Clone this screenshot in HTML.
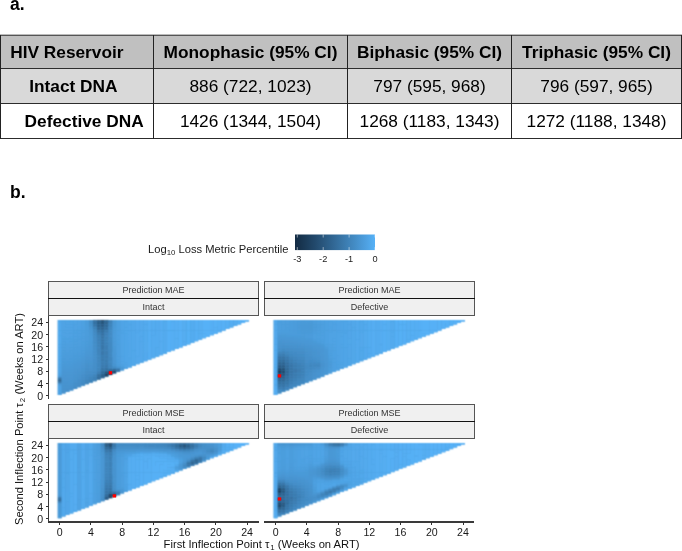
<!DOCTYPE html>
<html><head><meta charset="utf-8">
<style>
html,body{margin:0;padding:0;background:#fff;}
body{width:682px;height:551px;position:relative;overflow:hidden;font-family:"Liberation Sans",sans-serif;color:#000;}
.abs{position:absolute;white-space:nowrap;line-height:1;}
.lbl{font-weight:700;font-size:17.5px;}
.r{position:absolute;}
.t{position:absolute;white-space:nowrap;font-size:17.3px;line-height:1;text-align:center;}
.b{font-weight:700;}
.st{position:absolute;box-sizing:border-box;border:1px solid #555;background:#f0f0f0;font-size:9px;line-height:1;color:#333;text-align:center;white-space:nowrap;}
.st span{position:absolute;left:0;right:0;}
.yl{position:absolute;font-size:10.6px;line-height:1;color:#1a1a1a;text-align:right;width:20px;white-space:nowrap;}
.xl{position:absolute;font-size:10.6px;line-height:1;color:#1a1a1a;text-align:center;width:20px;white-space:nowrap;}
sub{font-size:0.7em;vertical-align:baseline;position:relative;top:0.25em;}
</style></head><body>

<div id="g" style="position:absolute;left:0;top:0;width:682px;height:551px;filter:grayscale(1);">
<div class="abs lbl" style="left:10px;top:-4px;">a.</div>
<div class="abs lbl" style="left:10px;top:184px;">b.</div>
<div class="r" style="left:0;top:35px;width:682px;height:33px;background:#c0c0c0"></div>
<div class="r" style="left:0;top:68px;width:682px;height:35px;background:#d9d9d9"></div>
<div class="r" style="left:0;top:34px;width:682px;height:1px;background:#bbb"></div>
<div class="r" style="left:0;top:35px;width:682px;height:1px;background:#555"></div>
<div class="r" style="left:0;top:68px;width:682px;height:1px;background:#2c2c2c"></div>
<div class="r" style="left:0;top:103px;width:682px;height:1px;background:#2c2c2c"></div>
<div class="r" style="left:0;top:138px;width:682px;height:1px;background:#2c2c2c"></div>
<div class="r" style="left:0px;top:35px;width:1px;height:104px;background:#222"></div>
<div class="r" style="left:153px;top:35px;width:1px;height:104px;background:#222"></div>
<div class="r" style="left:347px;top:35px;width:1px;height:104px;background:#222"></div>
<div class="r" style="left:511px;top:35px;width:1px;height:104px;background:#222"></div>
<div class="r" style="left:681px;top:35px;width:1px;height:104px;background:#222"></div>
<div class="t b" style="left:10.2px;top:44.06px;text-align:left">HIV Reservoir</div>
<div class="t b" style="left:154px;top:44.06px;width:193px">Monophasic (95% CI)</div>
<div class="t b" style="left:348px;top:44.06px;width:163px">Biphasic (95% CI)</div>
<div class="t b" style="left:512px;top:44.06px;width:169px">Triphasic (95% CI)</div>
<div class="t b" style="left:29.2px;top:78.36px;text-align:left">Intact DNA</div>
<div class="t b" style="left:24.6px;top:112.96px;text-align:left">Defective DNA</div>
<div class="t" style="left:154px;top:78.36px;width:193px">886 (722, 1023)</div>
<div class="t" style="left:154px;top:112.96px;width:193px">1426 (1344, 1504)</div>
<div class="t" style="left:348px;top:78.36px;width:163px">797 (595, 968)</div>
<div class="t" style="left:348px;top:112.96px;width:163px">1268 (1183, 1343)</div>
<div class="t" style="left:512px;top:78.36px;width:169px">796 (597, 965)</div>
<div class="t" style="left:512px;top:112.96px;width:169px">1272 (1188, 1348)</div>
<div class="abs" style="left:148px;top:243.6px;font-size:11.2px;color:#1a1a1a;">Log<sub>10</sub> Loss Metric Percentile</div>
<div class="xl" style="left:287.3px;top:254.9px;font-size:9.2px">-3</div>
<div class="xl" style="left:313.2px;top:254.9px;font-size:9.2px">-2</div>
<div class="xl" style="left:339.1px;top:254.9px;font-size:9.2px">-1</div>
<div class="xl" style="left:365.0px;top:254.9px;font-size:9.2px">0</div>
<div class="st" style="left:48px;top:281px;width:211px;height:18px"><span style="top:4px">Prediction MAE</span></div>
<div class="st" style="left:48px;top:298px;width:211px;height:18px"><span style="top:4px">Intact</span></div>
<div class="r" style="left:48px;top:297.8px;width:211px;height:1.5px;background:#111"></div>
<div class="st" style="left:264px;top:281px;width:211px;height:18px"><span style="top:4px">Prediction MAE</span></div>
<div class="st" style="left:264px;top:298px;width:211px;height:18px"><span style="top:4px">Defective</span></div>
<div class="r" style="left:264px;top:297.8px;width:211px;height:1.5px;background:#111"></div>
<div class="st" style="left:48px;top:404px;width:211px;height:18px"><span style="top:4px">Prediction MSE</span></div>
<div class="st" style="left:48px;top:421px;width:211px;height:18px"><span style="top:4px">Intact</span></div>
<div class="r" style="left:48px;top:420.8px;width:211px;height:1.5px;background:#111"></div>
<div class="st" style="left:264px;top:404px;width:211px;height:18px"><span style="top:4px">Prediction MSE</span></div>
<div class="st" style="left:264px;top:421px;width:211px;height:18px"><span style="top:4px">Defective</span></div>
<div class="r" style="left:264px;top:420.8px;width:211px;height:1.5px;background:#111"></div>
<div class="r" style="left:48px;top:316px;width:1px;height:83px;background:#3a3a3a"></div>
<div class="r" style="left:45.5px;top:395.3px;width:2.5px;height:1px;background:#333"></div>
<div class="yl" style="left:23.1px;top:390.8px">0</div>
<div class="r" style="left:45.5px;top:383.0px;width:2.5px;height:1px;background:#333"></div>
<div class="yl" style="left:23.1px;top:378.5px">4</div>
<div class="r" style="left:45.5px;top:370.8px;width:2.5px;height:1px;background:#333"></div>
<div class="yl" style="left:23.1px;top:366.3px">8</div>
<div class="r" style="left:45.5px;top:358.5px;width:2.5px;height:1px;background:#333"></div>
<div class="yl" style="left:23.1px;top:354.0px">12</div>
<div class="r" style="left:45.5px;top:346.2px;width:2.5px;height:1px;background:#333"></div>
<div class="yl" style="left:23.1px;top:341.7px">16</div>
<div class="r" style="left:45.5px;top:334.0px;width:2.5px;height:1px;background:#333"></div>
<div class="yl" style="left:23.1px;top:329.5px">20</div>
<div class="r" style="left:45.5px;top:321.7px;width:2.5px;height:1px;background:#333"></div>
<div class="yl" style="left:23.1px;top:317.2px">24</div>
<div class="r" style="left:48px;top:439px;width:1px;height:83px;background:#3a3a3a"></div>
<div class="r" style="left:45.5px;top:518.4px;width:2.5px;height:1px;background:#333"></div>
<div class="yl" style="left:23.1px;top:513.9px">0</div>
<div class="r" style="left:45.5px;top:506.1px;width:2.5px;height:1px;background:#333"></div>
<div class="yl" style="left:23.1px;top:501.6px">4</div>
<div class="r" style="left:45.5px;top:493.9px;width:2.5px;height:1px;background:#333"></div>
<div class="yl" style="left:23.1px;top:489.4px">8</div>
<div class="r" style="left:45.5px;top:481.6px;width:2.5px;height:1px;background:#333"></div>
<div class="yl" style="left:23.1px;top:477.1px">12</div>
<div class="r" style="left:45.5px;top:469.3px;width:2.5px;height:1px;background:#333"></div>
<div class="yl" style="left:23.1px;top:464.8px">16</div>
<div class="r" style="left:45.5px;top:457.1px;width:2.5px;height:1px;background:#333"></div>
<div class="yl" style="left:23.1px;top:452.6px">20</div>
<div class="r" style="left:45.5px;top:444.8px;width:2.5px;height:1px;background:#333"></div>
<div class="yl" style="left:23.1px;top:440.3px">24</div>
<div class="r" style="left:48.2px;top:521.3px;width:210.4px;height:1.3px;background:#3a3a3a"></div>
<div class="r" style="left:59.2px;top:522px;width:1px;height:2.5px;background:#333"></div>
<div class="xl" style="left:49.7px;top:526.5px">0</div>
<div class="r" style="left:90.4px;top:522px;width:1px;height:2.5px;background:#333"></div>
<div class="xl" style="left:80.9px;top:526.5px">4</div>
<div class="r" style="left:121.7px;top:522px;width:1px;height:2.5px;background:#333"></div>
<div class="xl" style="left:112.2px;top:526.5px">8</div>
<div class="r" style="left:152.9px;top:522px;width:1px;height:2.5px;background:#333"></div>
<div class="xl" style="left:143.4px;top:526.5px">12</div>
<div class="r" style="left:184.1px;top:522px;width:1px;height:2.5px;background:#333"></div>
<div class="xl" style="left:174.6px;top:526.5px">16</div>
<div class="r" style="left:215.4px;top:522px;width:1px;height:2.5px;background:#333"></div>
<div class="xl" style="left:205.9px;top:526.5px">20</div>
<div class="r" style="left:246.6px;top:522px;width:1px;height:2.5px;background:#333"></div>
<div class="xl" style="left:237.1px;top:526.5px">24</div>
<div class="r" style="left:264.1px;top:521.3px;width:210.4px;height:1.3px;background:#3a3a3a"></div>
<div class="r" style="left:275.1px;top:522px;width:1px;height:2.5px;background:#333"></div>
<div class="xl" style="left:265.6px;top:526.5px">0</div>
<div class="r" style="left:306.3px;top:522px;width:1px;height:2.5px;background:#333"></div>
<div class="xl" style="left:296.8px;top:526.5px">4</div>
<div class="r" style="left:337.6px;top:522px;width:1px;height:2.5px;background:#333"></div>
<div class="xl" style="left:328.1px;top:526.5px">8</div>
<div class="r" style="left:368.8px;top:522px;width:1px;height:2.5px;background:#333"></div>
<div class="xl" style="left:359.3px;top:526.5px">12</div>
<div class="r" style="left:400.0px;top:522px;width:1px;height:2.5px;background:#333"></div>
<div class="xl" style="left:390.5px;top:526.5px">16</div>
<div class="r" style="left:431.3px;top:522px;width:1px;height:2.5px;background:#333"></div>
<div class="xl" style="left:421.8px;top:526.5px">20</div>
<div class="r" style="left:462.5px;top:522px;width:1px;height:2.5px;background:#333"></div>
<div class="xl" style="left:453.0px;top:526.5px">24</div>
<div class="abs" style="left:163.6px;top:538.8px;font-size:11.2px;color:#111;">First Inflection Point τ<sub style="margin-left:0.8px;margin-right:0.2px">1</sub> (Weeks on ART)</div>
<div class="abs" style="left:19.7px;top:419px;font-size:11.2px;color:#111;transform:translate(-50%,-50%) rotate(-90deg);">Second Inflection Point τ<sub style="margin-left:0.8px;margin-right:0.2px">2</sub> (Weeks on ART)</div>
</div>
<svg class="r" style="left:0;top:0" width="682" height="551"><defs><linearGradient id="cb" x1="0" x2="1" y1="0" y2="0"><stop offset="0.00" stop-color="#132b43"/><stop offset="0.05" stop-color="#16314b"/><stop offset="0.10" stop-color="#193753"/><stop offset="0.15" stop-color="#1c3d5b"/><stop offset="0.20" stop-color="#1f4364"/><stop offset="0.25" stop-color="#22496c"/><stop offset="0.30" stop-color="#265075"/><stop offset="0.35" stop-color="#29567d"/><stop offset="0.40" stop-color="#2c5d86"/><stop offset="0.45" stop-color="#2f638f"/><stop offset="0.50" stop-color="#336a98"/><stop offset="0.55" stop-color="#3671a1"/><stop offset="0.60" stop-color="#3a78aa"/><stop offset="0.65" stop-color="#3d7fb4"/><stop offset="0.70" stop-color="#4186bd"/><stop offset="0.75" stop-color="#448dc6"/><stop offset="0.80" stop-color="#4894d0"/><stop offset="0.85" stop-color="#4b9bda"/><stop offset="0.90" stop-color="#4fa2e3"/><stop offset="0.95" stop-color="#52aaed"/><stop offset="1.00" stop-color="#56b1f7"/></linearGradient></defs><rect x="295" y="234.5" width="80" height="15.6" fill="url(#cb)"/><line x1="297.3" y1="234.5" x2="297.3" y2="237.5" stroke="#fff" stroke-opacity="0.55" stroke-width="0.9"/><line x1="297.3" y1="247.1" x2="297.3" y2="250.1" stroke="#fff" stroke-opacity="0.55" stroke-width="0.9"/><line x1="323.2" y1="234.5" x2="323.2" y2="237.5" stroke="#fff" stroke-opacity="0.55" stroke-width="0.9"/><line x1="323.2" y1="247.1" x2="323.2" y2="250.1" stroke="#fff" stroke-opacity="0.55" stroke-width="0.9"/><line x1="349.1" y1="234.5" x2="349.1" y2="237.5" stroke="#fff" stroke-opacity="0.55" stroke-width="0.9"/><line x1="349.1" y1="247.1" x2="349.1" y2="250.1" stroke="#fff" stroke-opacity="0.55" stroke-width="0.9"/><line x1="375.0" y1="234.5" x2="375.0" y2="237.5" stroke="#fff" stroke-opacity="0.55" stroke-width="0.9"/><line x1="375.0" y1="247.1" x2="375.0" y2="250.1" stroke="#fff" stroke-opacity="0.55" stroke-width="0.9"/></svg>
<svg class="r" style="left:0;top:0" width="682" height="551"><defs><filter id="bl" x="0" y="0" width="682" height="551" filterUnits="userSpaceOnUse"><feConvolveMatrix order="3" kernelMatrix="1 2 1 2 6 2 1 2 1" divisor="18" edgeMode="none"/></filter></defs><g filter="url(#bl)">
<path fill="#4a9ad6" d="M57.75 319.89 L249.04 319.89 L249.04 321.43 L245.14 321.43 L245.14 322.96 L241.24 322.96 L241.24 324.49 L237.33 324.49 L237.33 326.03 L233.43 326.03 L233.43 327.56 L229.52 327.56 L229.52 329.09 L225.62 329.09 L225.62 330.63 L221.72 330.63 L221.72 332.16 L217.81 332.16 L217.81 333.69 L213.91 333.69 L213.91 335.23 L210.00 335.23 L210.00 336.76 L206.10 336.76 L206.10 338.29 L202.20 338.29 L202.20 339.83 L198.29 339.83 L198.29 341.36 L194.39 341.36 L194.39 342.89 L190.48 342.89 L190.48 344.43 L186.58 344.43 L186.58 345.96 L182.68 345.96 L182.68 347.49 L178.77 347.49 L178.77 349.03 L174.87 349.03 L174.87 350.56 L170.96 350.56 L170.96 352.10 L167.06 352.10 L167.06 353.63 L163.16 353.63 L163.16 355.16 L159.25 355.16 L159.25 356.70 L155.35 356.70 L155.35 358.23 L151.44 358.23 L151.44 359.76 L147.54 359.76 L147.54 361.30 L143.64 361.30 L143.64 362.83 L139.73 362.83 L139.73 364.36 L135.83 364.36 L135.83 365.90 L131.92 365.90 L131.92 367.43 L128.02 367.43 L128.02 368.96 L124.12 368.96 L124.12 370.50 L120.21 370.50 L120.21 372.03 L116.31 372.03 L116.31 373.56 L112.40 373.56 L112.40 375.10 L108.50 375.10 L108.50 376.63 L104.60 376.63 L104.60 378.16 L100.69 378.16 L100.69 379.70 L96.79 379.70 L96.79 381.23 L92.88 381.23 L92.88 382.77 L88.98 382.77 L88.98 384.30 L85.08 384.30 L85.08 385.83 L81.17 385.83 L81.17 387.37 L77.27 387.37 L77.27 388.90 L73.36 388.90 L73.36 390.43 L69.46 390.43 L69.46 391.97 L65.56 391.97 L65.56 393.50 L61.65 393.50 L61.65 395.03 L57.75 395.03Z"/>
<path fill="#4ea1e2" d="M57.75 393.50h3.90v1.53h-3.90zM57.75 391.97h3.90v1.53h-3.90zM57.75 390.43h3.90v1.53h-3.90zM57.75 388.90h3.90v1.53h-3.90zM57.75 387.37h3.90v1.53h-3.90zM57.75 385.83h3.90v1.53h-3.90zM57.75 373.56h3.90v1.53h-3.90zM61.65 339.83h3.90v1.53h-3.90zM65.56 341.36h3.90v1.53h-3.90zM65.56 339.83h3.90v1.53h-3.90zM69.46 339.83h3.90v1.53h-3.90zM73.36 335.23h3.90v1.53h-3.90zM73.36 333.69h3.90v1.53h-3.90zM77.27 332.16h3.90v1.53h-3.90zM77.27 330.63h3.90v1.53h-3.90zM120.21 364.36h3.90v1.53h-3.90z"/>
<path fill="#4d9ede" d="M57.75 384.30h3.90v1.53h-3.90zM61.65 349.03h3.90v1.53h-3.90zM65.56 350.56h3.90v1.53h-3.90zM65.56 349.03h3.90v1.53h-3.90zM69.46 349.03h3.90v1.53h-3.90zM73.36 345.96h3.90v1.53h-3.90zM73.36 344.43h3.90v1.53h-3.90zM77.27 344.43h3.90v1.53h-3.90zM77.27 342.89h3.90v1.53h-3.90zM81.17 339.83h3.90v1.53h-3.90zM81.17 338.29h3.90v1.53h-3.90zM116.31 361.30h3.90v1.53h-3.90zM116.31 359.76h3.90v1.53h-3.90z"/>
<path fill="#458fc9" d="M57.75 382.77h3.90v1.53h-3.90zM88.98 322.96h3.90v1.53h-3.90zM92.88 364.36h3.90v1.53h-3.90zM92.88 362.83h3.90v1.53h-3.90zM92.88 361.30h3.90v1.53h-3.90zM92.88 349.03h3.90v1.53h-3.90z"/>
<path fill="#3671a2" d="M57.75 381.23h3.90v1.53h-3.90z"/>
<path fill="#2f628d" d="M57.75 379.70h3.90v1.53h-3.90z"/>
<path fill="#336a97" d="M57.75 378.16h3.90v1.53h-3.90z"/>
<path fill="#4288c0" d="M57.75 376.63h3.90v1.53h-3.90zM92.88 373.56h3.90v1.53h-3.90zM92.88 330.63h3.90v1.53h-3.90zM108.50 355.16h3.90v1.53h-3.90zM108.50 353.63h3.90v1.53h-3.90z"/>
<path fill="#4c9cdb" d="M57.75 375.10h3.90v1.53h-3.90zM61.65 356.70h3.90v1.53h-3.90zM65.56 358.23h3.90v1.53h-3.90zM65.56 356.70h3.90v1.53h-3.90zM69.46 356.70h3.90v1.53h-3.90zM73.36 353.63h3.90v1.53h-3.90zM77.27 352.10h3.90v1.53h-3.90zM81.17 349.03h3.90v1.53h-3.90zM81.17 347.49h3.90v1.53h-3.90zM85.08 339.83h3.90v1.53h-3.90zM85.08 338.29h3.90v1.53h-3.90zM85.08 336.76h3.90v1.53h-3.90zM85.08 322.96h3.90v1.53h-3.90zM85.08 321.43h3.90v1.53h-3.90zM85.08 319.89h3.90v1.53h-3.90z"/>
<path fill="#4fa2e3" d="M57.75 372.03h3.90v1.53h-3.90zM61.65 335.23h3.90v1.53h-3.90zM61.65 333.69h3.90v1.53h-3.90zM61.65 332.16h3.90v1.53h-3.90zM65.56 336.76h3.90v1.53h-3.90zM65.56 335.23h3.90v1.53h-3.90zM65.56 333.69h3.90v1.53h-3.90zM69.46 335.23h3.90v1.53h-3.90zM69.46 333.69h3.90v1.53h-3.90zM73.36 329.09h3.90v1.53h-3.90zM73.36 327.56h3.90v1.53h-3.90zM73.36 326.03h3.90v1.53h-3.90zM73.36 324.49h3.90v1.53h-3.90zM77.27 324.49h3.90v1.53h-3.90zM77.27 322.96h3.90v1.53h-3.90zM77.27 321.43h3.90v1.53h-3.90zM77.27 319.89h3.90v1.53h-3.90z"/>
<path fill="#4fa3e4" d="M57.75 370.50h3.90v1.53h-3.90zM57.75 368.96h3.90v1.53h-3.90zM57.75 367.43h3.90v1.53h-3.90zM61.65 330.63h3.90v1.53h-3.90zM61.65 329.09h3.90v1.53h-3.90zM61.65 327.56h3.90v1.53h-3.90zM61.65 326.03h3.90v1.53h-3.90zM65.56 332.16h3.90v1.53h-3.90zM65.56 330.63h3.90v1.53h-3.90zM65.56 329.09h3.90v1.53h-3.90zM65.56 327.56h3.90v1.53h-3.90zM69.46 330.63h3.90v1.53h-3.90zM69.46 329.09h3.90v1.53h-3.90zM69.46 327.56h3.90v1.53h-3.90zM73.36 322.96h3.90v1.53h-3.90zM73.36 321.43h3.90v1.53h-3.90zM73.36 319.89h3.90v1.53h-3.90zM120.21 362.83h3.90v1.53h-3.90zM120.21 361.30h3.90v1.53h-3.90zM124.12 367.43h3.90v1.53h-3.90zM124.12 365.90h3.90v1.53h-3.90z"/>
<path fill="#4fa3e5" d="M57.75 365.90h3.90v1.53h-3.90zM61.65 324.49h3.90v1.53h-3.90zM61.65 322.96h3.90v1.53h-3.90zM65.56 326.03h3.90v1.53h-3.90zM65.56 324.49h3.90v1.53h-3.90zM69.46 326.03h3.90v1.53h-3.90zM69.46 324.49h3.90v1.53h-3.90zM120.21 359.76h3.90v1.53h-3.90zM120.21 358.23h3.90v1.53h-3.90zM120.21 356.70h3.90v1.53h-3.90z"/>
<path fill="#4fa4e5" d="M57.75 364.36h3.90v1.53h-3.90zM61.65 321.43h3.90v1.53h-3.90zM65.56 322.96h3.90v1.53h-3.90zM69.46 322.96h3.90v1.53h-3.90zM69.46 321.43h3.90v1.53h-3.90zM120.21 355.16h3.90v1.53h-3.90zM120.21 353.63h3.90v1.53h-3.90zM120.21 352.10h3.90v1.53h-3.90zM120.21 350.56h3.90v1.53h-3.90zM120.21 349.03h3.90v1.53h-3.90zM120.21 347.49h3.90v1.53h-3.90zM120.21 345.96h3.90v1.53h-3.90z"/>
<path fill="#50a5e6" d="M57.75 362.83h3.90v1.53h-3.90zM57.75 361.30h3.90v1.53h-3.90zM57.75 359.76h3.90v1.53h-3.90zM65.56 319.89h3.90v1.53h-3.90zM120.21 332.16h3.90v1.53h-3.90zM124.12 362.83h3.90v1.53h-3.90z"/>
<path fill="#50a5e7" d="M57.75 358.23h3.90v1.53h-3.90zM57.75 356.70h3.90v1.53h-3.90zM124.12 361.30h3.90v1.53h-3.90zM124.12 359.76h3.90v1.53h-3.90zM124.12 358.23h3.90v1.53h-3.90zM124.12 356.70h3.90v1.53h-3.90zM124.12 355.16h3.90v1.53h-3.90zM124.12 353.63h3.90v1.53h-3.90zM124.12 352.10h3.90v1.53h-3.90zM124.12 350.56h3.90v1.53h-3.90zM124.12 349.03h3.90v1.53h-3.90zM124.12 347.49h3.90v1.53h-3.90zM124.12 345.96h3.90v1.53h-3.90zM124.12 344.43h3.90v1.53h-3.90zM124.12 342.89h3.90v1.53h-3.90zM124.12 341.36h3.90v1.53h-3.90zM124.12 339.83h3.90v1.53h-3.90zM124.12 338.29h3.90v1.53h-3.90zM124.12 336.76h3.90v1.53h-3.90zM124.12 335.23h3.90v1.53h-3.90zM124.12 333.69h3.90v1.53h-3.90zM124.12 326.03h3.90v1.53h-3.90zM124.12 324.49h3.90v1.53h-3.90zM124.12 322.96h3.90v1.53h-3.90zM124.12 321.43h3.90v1.53h-3.90z"/>
<path fill="#50a6e8" d="M57.75 355.16h3.90v1.53h-3.90zM57.75 353.63h3.90v1.53h-3.90zM57.75 352.10h3.90v1.53h-3.90zM57.75 350.56h3.90v1.53h-3.90zM57.75 349.03h3.90v1.53h-3.90zM124.12 332.16h3.90v1.53h-3.90zM124.12 330.63h3.90v1.53h-3.90zM124.12 329.09h3.90v1.53h-3.90zM128.02 365.90h3.90v1.53h-3.90zM128.02 364.36h3.90v1.53h-3.90zM128.02 362.83h3.90v1.53h-3.90zM128.02 361.30h3.90v1.53h-3.90zM128.02 359.76h3.90v1.53h-3.90zM128.02 358.23h3.90v1.53h-3.90z"/>
<path fill="#51a7e9" d="M57.75 347.49h3.90v1.53h-3.90zM128.02 329.09h3.90v1.53h-3.90zM128.02 322.96h3.90v1.53h-3.90zM128.02 321.43h3.90v1.53h-3.90zM128.02 319.89h3.90v1.53h-3.90zM131.92 364.36h3.90v1.53h-3.90zM131.92 362.83h3.90v1.53h-3.90zM131.92 361.30h3.90v1.53h-3.90zM131.92 359.76h3.90v1.53h-3.90zM131.92 358.23h3.90v1.53h-3.90zM131.92 356.70h3.90v1.53h-3.90zM131.92 355.16h3.90v1.53h-3.90zM131.92 353.63h3.90v1.53h-3.90zM131.92 352.10h3.90v1.53h-3.90zM131.92 350.56h3.90v1.53h-3.90z"/>
<path fill="#51a7ea" d="M57.75 345.96h3.90v1.53h-3.90zM57.75 344.43h3.90v1.53h-3.90zM131.92 349.03h3.90v1.53h-3.90zM131.92 347.49h3.90v1.53h-3.90zM131.92 345.96h3.90v1.53h-3.90zM131.92 344.43h3.90v1.53h-3.90zM131.92 342.89h3.90v1.53h-3.90zM131.92 341.36h3.90v1.53h-3.90zM131.92 339.83h3.90v1.53h-3.90zM131.92 338.29h3.90v1.53h-3.90zM131.92 336.76h3.90v1.53h-3.90zM131.92 335.23h3.90v1.53h-3.90zM131.92 333.69h3.90v1.53h-3.90zM131.92 332.16h3.90v1.53h-3.90zM131.92 330.63h3.90v1.53h-3.90zM131.92 329.09h3.90v1.53h-3.90zM131.92 327.56h3.90v1.53h-3.90zM131.92 326.03h3.90v1.53h-3.90zM131.92 324.49h3.90v1.53h-3.90zM131.92 322.96h3.90v1.53h-3.90zM131.92 321.43h3.90v1.53h-3.90zM131.92 319.89h3.90v1.53h-3.90z"/>
<path fill="#51a8ea" d="M57.75 342.89h3.90v1.53h-3.90zM57.75 341.36h3.90v1.53h-3.90zM57.75 339.83h3.90v1.53h-3.90zM57.75 338.29h3.90v1.53h-3.90zM57.75 336.76h3.90v1.53h-3.90zM57.75 335.23h3.90v1.53h-3.90z"/>
<path fill="#51a8eb" d="M57.75 333.69h3.90v1.53h-3.90zM57.75 332.16h3.90v1.53h-3.90zM57.75 330.63h3.90v1.53h-3.90zM57.75 329.09h3.90v1.53h-3.90zM57.75 327.56h3.90v1.53h-3.90zM57.75 326.03h3.90v1.53h-3.90zM57.75 324.49h3.90v1.53h-3.90zM57.75 322.96h3.90v1.53h-3.90zM57.75 321.43h3.90v1.53h-3.90z"/>
<path fill="#52a8eb" d="M57.75 319.89h3.90v1.53h-3.90zM135.83 362.83h3.90v1.53h-3.90zM135.83 361.30h3.90v1.53h-3.90zM135.83 359.76h3.90v1.53h-3.90zM135.83 358.23h3.90v1.53h-3.90zM135.83 356.70h3.90v1.53h-3.90zM139.73 361.30h3.90v1.53h-3.90zM139.73 359.76h3.90v1.53h-3.90zM139.73 358.23h3.90v1.53h-3.90zM139.73 356.70h3.90v1.53h-3.90zM139.73 355.16h3.90v1.53h-3.90zM139.73 353.63h3.90v1.53h-3.90zM139.73 352.10h3.90v1.53h-3.90zM139.73 350.56h3.90v1.53h-3.90zM139.73 349.03h3.90v1.53h-3.90zM139.73 347.49h3.90v1.53h-3.90zM139.73 345.96h3.90v1.53h-3.90zM139.73 344.43h3.90v1.53h-3.90zM139.73 342.89h3.90v1.53h-3.90zM139.73 341.36h3.90v1.53h-3.90z"/>
<path fill="#4691cc" d="M61.65 391.97h3.90v1.53h-3.90zM61.65 390.43h3.90v1.53h-3.90zM65.56 390.43h3.90v1.53h-3.90zM65.56 388.90h3.90v1.53h-3.90zM69.46 385.83h3.90v1.53h-3.90zM73.36 379.70h3.90v1.53h-3.90zM77.27 376.63h3.90v1.53h-3.90zM81.17 372.03h3.90v1.53h-3.90zM85.08 364.36h3.90v1.53h-3.90z"/>
<path fill="#4691cd" d="M61.65 388.90h3.90v1.53h-3.90zM69.46 384.30h3.90v1.53h-3.90zM88.98 365.90h3.90v1.53h-3.90z"/>
<path fill="#4692cd" d="M61.65 387.37h3.90v1.53h-3.90zM65.56 387.37h3.90v1.53h-3.90zM73.36 378.16h3.90v1.53h-3.90z"/>
<path fill="#4792ce" d="M61.65 385.83h3.90v1.53h-3.90zM61.65 384.30h3.90v1.53h-3.90zM65.56 385.83h3.90v1.53h-3.90zM65.56 384.30h3.90v1.53h-3.90zM69.46 382.77h3.90v1.53h-3.90zM73.36 376.63h3.90v1.53h-3.90z"/>
<path fill="#4793cf" d="M61.65 382.77h3.90v1.53h-3.90zM61.65 381.23h3.90v1.53h-3.90zM65.56 382.77h3.90v1.53h-3.90zM65.56 381.23h3.90v1.53h-3.90zM69.46 381.23h3.90v1.53h-3.90zM73.36 375.10h3.90v1.53h-3.90zM77.27 372.03h3.90v1.53h-3.90zM81.17 367.43h3.90v1.53h-3.90zM85.08 361.30h3.90v1.53h-3.90zM88.98 361.30h3.90v1.53h-3.90z"/>
<path fill="#4794d0" d="M61.65 379.70h3.90v1.53h-3.90zM69.46 379.70h3.90v1.53h-3.90zM85.08 359.76h3.90v1.53h-3.90z"/>
<path fill="#4894d0" d="M61.65 378.16h3.90v1.53h-3.90zM65.56 379.70h3.90v1.53h-3.90zM65.56 378.16h3.90v1.53h-3.90zM69.46 378.16h3.90v1.53h-3.90zM73.36 373.56h3.90v1.53h-3.90zM77.27 370.50h3.90v1.53h-3.90zM81.17 365.90h3.90v1.53h-3.90zM88.98 359.76h3.90v1.53h-3.90z"/>
<path fill="#4894d1" d="M61.65 376.63h3.90v1.53h-3.90zM73.36 372.03h3.90v1.53h-3.90zM88.98 358.23h3.90v1.53h-3.90z"/>
<path fill="#4895d1" d="M61.65 375.10h3.90v1.53h-3.90zM65.56 376.63h3.90v1.53h-3.90zM69.46 376.63h3.90v1.53h-3.90zM73.36 370.50h3.90v1.53h-3.90zM77.27 368.96h3.90v1.53h-3.90zM81.17 364.36h3.90v1.53h-3.90zM85.08 358.23h3.90v1.53h-3.90zM88.98 327.56h3.90v1.53h-3.90z"/>
<path fill="#4895d2" d="M61.65 373.56h3.90v1.53h-3.90zM65.56 375.10h3.90v1.53h-3.90zM69.46 375.10h3.90v1.53h-3.90zM73.36 368.96h3.90v1.53h-3.90zM77.27 367.43h3.90v1.53h-3.90zM85.08 356.70h3.90v1.53h-3.90zM88.98 356.70h3.90v1.53h-3.90zM112.40 362.83h3.90v1.53h-3.90z"/>
<path fill="#4996d3" d="M61.65 372.03h3.90v1.53h-3.90zM61.65 370.50h3.90v1.53h-3.90zM65.56 372.03h3.90v1.53h-3.90zM69.46 372.03h3.90v1.53h-3.90zM73.36 367.43h3.90v1.53h-3.90zM77.27 365.90h3.90v1.53h-3.90zM81.17 361.30h3.90v1.53h-3.90zM85.08 355.16h3.90v1.53h-3.90zM88.98 353.63h3.90v1.53h-3.90zM88.98 329.09h3.90v1.53h-3.90zM112.40 361.30h3.90v1.53h-3.90zM112.40 359.76h3.90v1.53h-3.90z"/>
<path fill="#4997d4" d="M61.65 368.96h3.90v1.53h-3.90zM65.56 370.50h3.90v1.53h-3.90zM69.46 370.50h3.90v1.53h-3.90zM69.46 368.96h3.90v1.53h-3.90zM73.36 365.90h3.90v1.53h-3.90zM77.27 364.36h3.90v1.53h-3.90zM81.17 359.76h3.90v1.53h-3.90zM85.08 353.63h3.90v1.53h-3.90zM88.98 352.10h3.90v1.53h-3.90zM88.98 350.56h3.90v1.53h-3.90zM112.40 358.23h3.90v1.53h-3.90zM112.40 356.70h3.90v1.53h-3.90zM112.40 355.16h3.90v1.53h-3.90z"/>
<path fill="#4a98d5" d="M61.65 367.43h3.90v1.53h-3.90zM65.56 367.43h3.90v1.53h-3.90zM69.46 367.43h3.90v1.53h-3.90zM81.17 358.23h3.90v1.53h-3.90z"/>
<path fill="#4a98d6" d="M61.65 365.90h3.90v1.53h-3.90zM69.46 365.90h3.90v1.53h-3.90zM73.36 362.83h3.90v1.53h-3.90zM77.27 361.30h3.90v1.53h-3.90zM85.08 350.56h3.90v1.53h-3.90zM88.98 347.49h3.90v1.53h-3.90zM88.98 345.96h3.90v1.53h-3.90zM112.40 350.56h3.90v1.53h-3.90zM112.40 349.03h3.90v1.53h-3.90z"/>
<path fill="#4a99d7" d="M61.65 364.36h3.90v1.53h-3.90zM65.56 364.36h3.90v1.53h-3.90zM69.46 364.36h3.90v1.53h-3.90zM73.36 361.30h3.90v1.53h-3.90zM77.27 359.76h3.90v1.53h-3.90zM85.08 349.03h3.90v1.53h-3.90zM88.98 344.43h3.90v1.53h-3.90zM88.98 342.89h3.90v1.53h-3.90zM88.98 341.36h3.90v1.53h-3.90zM88.98 333.69h3.90v1.53h-3.90zM112.40 345.96h3.90v1.53h-3.90zM112.40 324.49h3.90v1.53h-3.90zM112.40 322.96h3.90v1.53h-3.90zM112.40 319.89h3.90v1.53h-3.90z"/>
<path fill="#4b9ad8" d="M61.65 362.83h3.90v1.53h-3.90zM69.46 362.83h3.90v1.53h-3.90zM73.36 359.76h3.90v1.53h-3.90zM77.27 358.23h3.90v1.53h-3.90zM81.17 355.16h3.90v1.53h-3.90zM85.08 347.49h3.90v1.53h-3.90zM112.40 344.43h3.90v1.53h-3.90zM112.40 342.89h3.90v1.53h-3.90z"/>
<path fill="#4b9bd9" d="M61.65 361.30h3.90v1.53h-3.90zM65.56 361.30h3.90v1.53h-3.90zM69.46 361.30h3.90v1.53h-3.90zM73.36 358.23h3.90v1.53h-3.90zM77.27 356.70h3.90v1.53h-3.90zM85.08 344.43h3.90v1.53h-3.90zM112.40 339.83h3.90v1.53h-3.90zM112.40 338.29h3.90v1.53h-3.90zM112.40 330.63h3.90v1.53h-3.90zM112.40 329.09h3.90v1.53h-3.90z"/>
<path fill="#4b9bda" d="M61.65 359.76h3.90v1.53h-3.90zM65.56 359.76h3.90v1.53h-3.90zM69.46 359.76h3.90v1.53h-3.90zM73.36 356.70h3.90v1.53h-3.90zM77.27 355.16h3.90v1.53h-3.90zM81.17 352.10h3.90v1.53h-3.90zM112.40 336.76h3.90v1.53h-3.90zM112.40 335.23h3.90v1.53h-3.90zM112.40 333.69h3.90v1.53h-3.90zM112.40 332.16h3.90v1.53h-3.90z"/>
<path fill="#4b9cda" d="M61.65 358.23h3.90v1.53h-3.90zM73.36 355.16h3.90v1.53h-3.90zM81.17 350.56h3.90v1.53h-3.90zM85.08 342.89h3.90v1.53h-3.90zM85.08 341.36h3.90v1.53h-3.90z"/>
<path fill="#4c9ddc" d="M61.65 355.16h3.90v1.53h-3.90zM61.65 353.63h3.90v1.53h-3.90zM65.56 355.16h3.90v1.53h-3.90zM69.46 355.16h3.90v1.53h-3.90zM73.36 352.10h3.90v1.53h-3.90zM77.27 350.56h3.90v1.53h-3.90zM81.17 345.96h3.90v1.53h-3.90zM85.08 335.23h3.90v1.53h-3.90zM85.08 333.69h3.90v1.53h-3.90zM85.08 332.16h3.90v1.53h-3.90zM85.08 330.63h3.90v1.53h-3.90zM85.08 329.09h3.90v1.53h-3.90zM85.08 327.56h3.90v1.53h-3.90zM85.08 326.03h3.90v1.53h-3.90zM85.08 324.49h3.90v1.53h-3.90zM116.31 364.36h3.90v1.53h-3.90z"/>
<path fill="#4c9edd" d="M61.65 352.10h3.90v1.53h-3.90zM65.56 352.10h3.90v1.53h-3.90zM69.46 352.10h3.90v1.53h-3.90zM77.27 345.96h3.90v1.53h-3.90zM81.17 342.89h3.90v1.53h-3.90zM81.17 341.36h3.90v1.53h-3.90zM120.21 365.90h3.90v1.53h-3.90z"/>
<path fill="#4d9edd" d="M61.65 350.56h3.90v1.53h-3.90zM69.46 350.56h3.90v1.53h-3.90zM73.36 347.49h3.90v1.53h-3.90zM116.31 362.83h3.90v1.53h-3.90z"/>
<path fill="#4d9fde" d="M61.65 347.49h3.90v1.53h-3.90zM69.46 347.49h3.90v1.53h-3.90zM81.17 336.76h3.90v1.53h-3.90zM116.31 358.23h3.90v1.53h-3.90zM116.31 356.70h3.90v1.53h-3.90z"/>
<path fill="#4d9fdf" d="M61.65 345.96h3.90v1.53h-3.90zM65.56 347.49h3.90v1.53h-3.90zM65.56 345.96h3.90v1.53h-3.90zM69.46 345.96h3.90v1.53h-3.90zM73.36 342.89h3.90v1.53h-3.90zM73.36 341.36h3.90v1.53h-3.90zM77.27 341.36h3.90v1.53h-3.90zM77.27 339.83h3.90v1.53h-3.90zM81.17 335.23h3.90v1.53h-3.90zM81.17 333.69h3.90v1.53h-3.90zM81.17 332.16h3.90v1.53h-3.90zM116.31 355.16h3.90v1.53h-3.90zM116.31 353.63h3.90v1.53h-3.90zM116.31 352.10h3.90v1.53h-3.90zM116.31 350.56h3.90v1.53h-3.90zM116.31 349.03h3.90v1.53h-3.90zM116.31 347.49h3.90v1.53h-3.90zM116.31 345.96h3.90v1.53h-3.90zM116.31 344.43h3.90v1.53h-3.90z"/>
<path fill="#4da0e0" d="M61.65 344.43h3.90v1.53h-3.90zM77.27 338.29h3.90v1.53h-3.90zM81.17 330.63h3.90v1.53h-3.90zM116.31 341.36h3.90v1.53h-3.90zM116.31 339.83h3.90v1.53h-3.90zM116.31 324.49h3.90v1.53h-3.90zM116.31 322.96h3.90v1.53h-3.90zM116.31 321.43h3.90v1.53h-3.90zM116.31 319.89h3.90v1.53h-3.90z"/>
<path fill="#4ea0e1" d="M61.65 342.89h3.90v1.53h-3.90zM77.27 336.76h3.90v1.53h-3.90zM81.17 329.09h3.90v1.53h-3.90zM81.17 327.56h3.90v1.53h-3.90zM81.17 326.03h3.90v1.53h-3.90zM116.31 333.69h3.90v1.53h-3.90zM116.31 332.16h3.90v1.53h-3.90zM116.31 330.63h3.90v1.53h-3.90z"/>
<path fill="#4ea1e1" d="M61.65 341.36h3.90v1.53h-3.90zM65.56 342.89h3.90v1.53h-3.90zM69.46 342.89h3.90v1.53h-3.90zM69.46 341.36h3.90v1.53h-3.90zM73.36 338.29h3.90v1.53h-3.90zM73.36 336.76h3.90v1.53h-3.90zM77.27 335.23h3.90v1.53h-3.90zM77.27 333.69h3.90v1.53h-3.90zM81.17 324.49h3.90v1.53h-3.90zM81.17 322.96h3.90v1.53h-3.90zM81.17 321.43h3.90v1.53h-3.90zM81.17 319.89h3.90v1.53h-3.90z"/>
<path fill="#4ea2e2" d="M61.65 338.29h3.90v1.53h-3.90zM65.56 338.29h3.90v1.53h-3.90zM69.46 338.29h3.90v1.53h-3.90zM73.36 332.16h3.90v1.53h-3.90zM77.27 329.09h3.90v1.53h-3.90z"/>
<path fill="#4ea2e3" d="M61.65 336.76h3.90v1.53h-3.90zM69.46 336.76h3.90v1.53h-3.90zM73.36 330.63h3.90v1.53h-3.90zM77.27 327.56h3.90v1.53h-3.90zM77.27 326.03h3.90v1.53h-3.90z"/>
<path fill="#50a4e6" d="M61.65 319.89h3.90v1.53h-3.90zM65.56 321.43h3.90v1.53h-3.90zM69.46 319.89h3.90v1.53h-3.90zM120.21 341.36h3.90v1.53h-3.90zM120.21 339.83h3.90v1.53h-3.90zM120.21 338.29h3.90v1.53h-3.90zM120.21 336.76h3.90v1.53h-3.90zM120.21 335.23h3.90v1.53h-3.90zM120.21 333.69h3.90v1.53h-3.90zM120.21 330.63h3.90v1.53h-3.90zM120.21 329.09h3.90v1.53h-3.90zM120.21 327.56h3.90v1.53h-3.90zM120.21 326.03h3.90v1.53h-3.90zM120.21 324.49h3.90v1.53h-3.90zM120.21 322.96h3.90v1.53h-3.90zM120.21 321.43h3.90v1.53h-3.90zM120.21 319.89h3.90v1.53h-3.90zM124.12 364.36h3.90v1.53h-3.90z"/>
<path fill="#4896d2" d="M65.56 373.56h3.90v1.53h-3.90zM69.46 373.56h3.90v1.53h-3.90zM81.17 362.83h3.90v1.53h-3.90zM88.98 355.16h3.90v1.53h-3.90z"/>
<path fill="#4997d5" d="M65.56 368.96h3.90v1.53h-3.90zM73.36 364.36h3.90v1.53h-3.90zM77.27 362.83h3.90v1.53h-3.90zM112.40 353.63h3.90v1.53h-3.90z"/>
<path fill="#4a99d6" d="M65.56 365.90h3.90v1.53h-3.90zM81.17 356.70h3.90v1.53h-3.90zM88.98 332.16h3.90v1.53h-3.90zM112.40 347.49h3.90v1.53h-3.90zM112.40 321.43h3.90v1.53h-3.90z"/>
<path fill="#4b9ad9" d="M65.56 362.83h3.90v1.53h-3.90zM81.17 353.63h3.90v1.53h-3.90zM85.08 345.96h3.90v1.53h-3.90zM112.40 341.36h3.90v1.53h-3.90zM112.40 327.56h3.90v1.53h-3.90zM120.21 368.96h3.90v1.53h-3.90z"/>
<path fill="#4c9ddd" d="M65.56 353.63h3.90v1.53h-3.90zM69.46 353.63h3.90v1.53h-3.90zM73.36 350.56h3.90v1.53h-3.90zM73.36 349.03h3.90v1.53h-3.90zM77.27 349.03h3.90v1.53h-3.90zM77.27 347.49h3.90v1.53h-3.90zM81.17 344.43h3.90v1.53h-3.90z"/>
<path fill="#4ea0e0" d="M65.56 344.43h3.90v1.53h-3.90zM69.46 344.43h3.90v1.53h-3.90zM73.36 339.83h3.90v1.53h-3.90zM116.31 338.29h3.90v1.53h-3.90zM116.31 336.76h3.90v1.53h-3.90zM116.31 335.23h3.90v1.53h-3.90zM116.31 329.09h3.90v1.53h-3.90zM116.31 327.56h3.90v1.53h-3.90zM116.31 326.03h3.90v1.53h-3.90z"/>
<path fill="#4690cb" d="M69.46 388.90h3.90v1.53h-3.90zM69.46 387.37h3.90v1.53h-3.90zM73.36 381.23h3.90v1.53h-3.90zM77.27 378.16h3.90v1.53h-3.90zM81.17 373.56h3.90v1.53h-3.90zM85.08 365.90h3.90v1.53h-3.90zM88.98 368.96h3.90v1.53h-3.90zM88.98 367.43h3.90v1.53h-3.90z"/>
<path fill="#4b9cdb" d="M69.46 358.23h3.90v1.53h-3.90zM77.27 353.63h3.90v1.53h-3.90z"/>
<path fill="#4fa2e4" d="M69.46 332.16h3.90v1.53h-3.90z"/>
<path fill="#448dc7" d="M73.36 387.37h3.90v1.53h-3.90zM73.36 384.30h3.90v1.53h-3.90zM77.27 379.70h3.90v1.53h-3.90zM81.17 376.63h3.90v1.53h-3.90zM88.98 319.89h3.90v1.53h-3.90zM92.88 368.96h3.90v1.53h-3.90zM92.88 341.36h3.90v1.53h-3.90z"/>
<path fill="#448dc6" d="M73.36 385.83h3.90v1.53h-3.90zM85.08 372.03h3.90v1.53h-3.90zM92.88 339.83h3.90v1.53h-3.90z"/>
<path fill="#458ec8" d="M73.36 382.77h3.90v1.53h-3.90zM88.98 370.50h3.90v1.53h-3.90zM92.88 367.43h3.90v1.53h-3.90zM92.88 365.90h3.90v1.53h-3.90zM92.88 345.96h3.90v1.53h-3.90zM92.88 344.43h3.90v1.53h-3.90z"/>
<path fill="#438bc5" d="M77.27 385.83h3.90v1.53h-3.90zM88.98 373.56h3.90v1.53h-3.90z"/>
<path fill="#438bc4" d="M77.27 384.30h3.90v1.53h-3.90zM85.08 375.10h3.90v1.53h-3.90zM92.88 333.69h3.90v1.53h-3.90zM108.50 338.29h3.90v1.53h-3.90zM108.50 336.76h3.90v1.53h-3.90zM108.50 333.69h3.90v1.53h-3.90zM108.50 332.16h3.90v1.53h-3.90z"/>
<path fill="#448cc5" d="M77.27 382.77h3.90v1.53h-3.90zM81.17 378.16h3.90v1.53h-3.90zM85.08 373.56h3.90v1.53h-3.90zM92.88 336.76h3.90v1.53h-3.90z"/>
<path fill="#448cc6" d="M77.27 381.23h3.90v1.53h-3.90zM88.98 372.03h3.90v1.53h-3.90zM92.88 370.50h3.90v1.53h-3.90zM92.88 338.29h3.90v1.53h-3.90z"/>
<path fill="#4792cd" d="M77.27 375.10h3.90v1.53h-3.90zM81.17 370.50h3.90v1.53h-3.90zM85.08 362.83h3.90v1.53h-3.90zM88.98 364.36h3.90v1.53h-3.90z"/>
<path fill="#4793ce" d="M77.27 373.56h3.90v1.53h-3.90zM81.17 368.96h3.90v1.53h-3.90zM88.98 362.83h3.90v1.53h-3.90zM88.98 326.03h3.90v1.53h-3.90z"/>
<path fill="#4289c1" d="M81.17 384.30h3.90v1.53h-3.90zM81.17 381.23h3.90v1.53h-3.90zM108.50 350.56h3.90v1.53h-3.90zM108.50 349.03h3.90v1.53h-3.90zM116.31 367.43h3.90v1.53h-3.90z"/>
<path fill="#4288c1" d="M81.17 382.77h3.90v1.53h-3.90zM108.50 352.10h3.90v1.53h-3.90z"/>
<path fill="#438ac3" d="M81.17 379.70h3.90v1.53h-3.90zM92.88 372.03h3.90v1.53h-3.90zM108.50 344.43h3.90v1.53h-3.90zM108.50 342.89h3.90v1.53h-3.90zM108.50 341.36h3.90v1.53h-3.90zM108.50 330.63h3.90v1.53h-3.90z"/>
<path fill="#458ec9" d="M81.17 375.10h3.90v1.53h-3.90zM85.08 368.96h3.90v1.53h-3.90zM92.88 347.49h3.90v1.53h-3.90z"/>
<path fill="#3f83b9" d="M85.08 382.77h3.90v1.53h-3.90zM96.79 344.43h3.90v1.53h-3.90zM108.50 321.43h3.90v1.53h-3.90zM108.50 319.89h3.90v1.53h-3.90z"/>
<path fill="#3f82b8" d="M85.08 381.23h3.90v1.53h-3.90zM88.98 378.16h3.90v1.53h-3.90zM96.79 342.89h3.90v1.53h-3.90zM96.79 341.36h3.90v1.53h-3.90z"/>
<path fill="#4084ba" d="M85.08 379.70h3.90v1.53h-3.90zM92.88 375.10h3.90v1.53h-3.90z"/>
<path fill="#4186be" d="M85.08 378.16h3.90v1.53h-3.90zM96.79 361.30h3.90v1.53h-3.90zM96.79 359.76h3.90v1.53h-3.90z"/>
<path fill="#4289c2" d="M85.08 376.63h3.90v1.53h-3.90zM88.98 375.10h3.90v1.53h-3.90zM108.50 329.09h3.90v1.53h-3.90z"/>
<path fill="#448ec8" d="M85.08 370.50h3.90v1.53h-3.90zM88.98 321.43h3.90v1.53h-3.90z"/>
<path fill="#4590ca" d="M85.08 367.43h3.90v1.53h-3.90zM92.88 356.70h3.90v1.53h-3.90zM92.88 353.63h3.90v1.53h-3.90z"/>
<path fill="#4998d5" d="M85.08 352.10h3.90v1.53h-3.90zM88.98 349.03h3.90v1.53h-3.90zM88.98 330.63h3.90v1.53h-3.90zM112.40 352.10h3.90v1.53h-3.90zM116.31 365.90h3.90v1.53h-3.90z"/>
<path fill="#3e82b7" d="M88.98 381.23h3.90v1.53h-3.90z"/>
<path fill="#3e81b7" d="M88.98 379.70h3.90v1.53h-3.90zM92.88 327.56h3.90v1.53h-3.90zM96.79 339.83h3.90v1.53h-3.90zM96.79 338.29h3.90v1.53h-3.90z"/>
<path fill="#4085bc" d="M88.98 376.63h3.90v1.53h-3.90zM96.79 368.96h3.90v1.53h-3.90zM96.79 353.63h3.90v1.53h-3.90zM96.79 352.10h3.90v1.53h-3.90zM108.50 364.36h3.90v1.53h-3.90z"/>
<path fill="#4a9ad8" d="M88.98 339.83h3.90v1.53h-3.90zM88.98 338.29h3.90v1.53h-3.90zM88.98 336.76h3.90v1.53h-3.90zM88.98 335.23h3.90v1.53h-3.90zM112.40 326.03h3.90v1.53h-3.90zM120.21 367.43h3.90v1.53h-3.90z"/>
<path fill="#4691cb" d="M88.98 324.49h3.90v1.53h-3.90z"/>
<path fill="#3d7fb4" d="M92.88 379.70h3.90v1.53h-3.90zM96.79 372.03h3.90v1.53h-3.90zM104.60 342.89h3.90v1.53h-3.90zM104.60 333.69h3.90v1.53h-3.90z"/>
<path fill="#3c7eb2" d="M92.88 378.16h3.90v1.53h-3.90z"/>
<path fill="#3e80b5" d="M92.88 376.63h3.90v1.53h-3.90zM104.60 339.83h3.90v1.53h-3.90zM108.50 367.43h3.90v1.53h-3.90z"/>
<path fill="#458fca" d="M92.88 359.76h3.90v1.53h-3.90zM92.88 358.23h3.90v1.53h-3.90zM92.88 352.10h3.90v1.53h-3.90zM92.88 350.56h3.90v1.53h-3.90zM112.40 365.90h3.90v1.53h-3.90z"/>
<path fill="#4690ca" d="M92.88 355.16h3.90v1.53h-3.90z"/>
<path fill="#448ec7" d="M92.88 342.89h3.90v1.53h-3.90z"/>
<path fill="#438cc5" d="M92.88 335.23h3.90v1.53h-3.90zM108.50 335.23h3.90v1.53h-3.90z"/>
<path fill="#438ac2" d="M92.88 332.16h3.90v1.53h-3.90z"/>
<path fill="#4085bb" d="M92.88 329.09h3.90v1.53h-3.90z"/>
<path fill="#3c7db1" d="M92.88 326.03h3.90v1.53h-3.90zM104.60 353.63h3.90v1.53h-3.90zM104.60 352.10h3.90v1.53h-3.90zM104.60 350.56h3.90v1.53h-3.90z"/>
<path fill="#3773a4" d="M92.88 324.49h3.90v1.53h-3.90zM100.69 336.76h3.90v1.53h-3.90zM104.60 367.43h3.90v1.53h-3.90z"/>
<path fill="#3671a1" d="M92.88 322.96h3.90v1.53h-3.90zM104.60 329.09h3.90v1.53h-3.90z"/>
<path fill="#356f9f" d="M92.88 321.43h3.90v1.53h-3.90z"/>
<path fill="#346d9c" d="M92.88 319.89h3.90v1.53h-3.90z"/>
<path fill="#346c9a" d="M96.79 378.16h3.90v1.53h-3.90z"/>
<path fill="#336a98" d="M96.79 376.63h3.90v1.53h-3.90z"/>
<path fill="#356e9d" d="M96.79 375.10h3.90v1.53h-3.90zM100.69 332.16h3.90v1.53h-3.90z"/>
<path fill="#3874a5" d="M96.79 373.56h3.90v1.53h-3.90zM100.69 338.29h3.90v1.53h-3.90z"/>
<path fill="#3f82b9" d="M96.79 370.50h3.90v1.53h-3.90z"/>
<path fill="#4186bd" d="M96.79 367.43h3.90v1.53h-3.90zM96.79 358.23h3.90v1.53h-3.90zM96.79 356.70h3.90v1.53h-3.90zM108.50 362.83h3.90v1.53h-3.90z"/>
<path fill="#4187bf" d="M96.79 365.90h3.90v1.53h-3.90zM96.79 364.36h3.90v1.53h-3.90zM96.79 362.83h3.90v1.53h-3.90zM108.50 359.76h3.90v1.53h-3.90zM108.50 358.23h3.90v1.53h-3.90zM108.50 356.70h3.90v1.53h-3.90z"/>
<path fill="#4086bd" d="M96.79 355.16h3.90v1.53h-3.90z"/>
<path fill="#4084bb" d="M96.79 350.56h3.90v1.53h-3.90zM96.79 349.03h3.90v1.53h-3.90zM96.79 347.49h3.90v1.53h-3.90zM108.50 324.49h3.90v1.53h-3.90z"/>
<path fill="#3f84ba" d="M96.79 345.96h3.90v1.53h-3.90z"/>
<path fill="#3e80b6" d="M96.79 336.76h3.90v1.53h-3.90zM104.60 335.23h3.90v1.53h-3.90z"/>
<path fill="#3d7eb3" d="M96.79 335.23h3.90v1.53h-3.90zM104.60 347.49h3.90v1.53h-3.90zM104.60 345.96h3.90v1.53h-3.90z"/>
<path fill="#3c7cb0" d="M96.79 333.69h3.90v1.53h-3.90zM104.60 356.70h3.90v1.53h-3.90zM104.60 355.16h3.90v1.53h-3.90z"/>
<path fill="#3875a7" d="M96.79 332.16h3.90v1.53h-3.90zM100.69 342.89h3.90v1.53h-3.90z"/>
<path fill="#36709f" d="M96.79 330.63h3.90v1.53h-3.90z"/>
<path fill="#336b99" d="M96.79 329.09h3.90v1.53h-3.90zM100.69 330.63h3.90v1.53h-3.90z"/>
<path fill="#316692" d="M96.79 327.56h3.90v1.53h-3.90z"/>
<path fill="#2e618c" d="M96.79 326.03h3.90v1.53h-3.90z"/>
<path fill="#2d5f89" d="M96.79 324.49h3.90v1.53h-3.90z"/>
<path fill="#2c5d86" d="M96.79 322.96h3.90v1.53h-3.90z"/>
<path fill="#2b5a83" d="M96.79 321.43h3.90v1.53h-3.90z"/>
<path fill="#2a587f" d="M96.79 319.89h3.90v1.53h-3.90z"/>
<path fill="#2b5b84" d="M100.69 376.63h3.90v1.53h-3.90z"/>
<path fill="#29567d" d="M100.69 375.10h3.90v1.53h-3.90z"/>
<path fill="#2e608a" d="M100.69 373.56h3.90v1.53h-3.90z"/>
<path fill="#326896" d="M100.69 372.03h3.90v1.53h-3.90z"/>
<path fill="#356e9e" d="M100.69 370.50h3.90v1.53h-3.90z"/>
<path fill="#3772a2" d="M100.69 368.96h3.90v1.53h-3.90z"/>
<path fill="#3976a7" d="M100.69 367.43h3.90v1.53h-3.90z"/>
<path fill="#3a79ac" d="M100.69 365.90h3.90v1.53h-3.90zM100.69 355.16h3.90v1.53h-3.90zM104.60 364.36h3.90v1.53h-3.90z"/>
<path fill="#3b7aae" d="M100.69 364.36h3.90v1.53h-3.90zM104.60 362.83h3.90v1.53h-3.90z"/>
<path fill="#3b7baf" d="M100.69 362.83h3.90v1.53h-3.90zM104.60 361.30h3.90v1.53h-3.90zM104.60 359.76h3.90v1.53h-3.90z"/>
<path fill="#3b7bae" d="M100.69 361.30h3.90v1.53h-3.90z"/>
<path fill="#3b7aad" d="M100.69 359.76h3.90v1.53h-3.90zM100.69 358.23h3.90v1.53h-3.90z"/>
<path fill="#3a7aad" d="M100.69 356.70h3.90v1.53h-3.90z"/>
<path fill="#3a78ab" d="M100.69 353.63h3.90v1.53h-3.90zM100.69 352.10h3.90v1.53h-3.90zM100.69 350.56h3.90v1.53h-3.90z"/>
<path fill="#3a78aa" d="M100.69 349.03h3.90v1.53h-3.90z"/>
<path fill="#3977a9" d="M100.69 347.49h3.90v1.53h-3.90zM100.69 345.96h3.90v1.53h-3.90zM104.60 330.63h3.90v1.53h-3.90z"/>
<path fill="#3976a8" d="M100.69 344.43h3.90v1.53h-3.90zM104.60 365.90h3.90v1.53h-3.90z"/>
<path fill="#3875a6" d="M100.69 341.36h3.90v1.53h-3.90z"/>
<path fill="#3874a6" d="M100.69 339.83h3.90v1.53h-3.90z"/>
<path fill="#3772a3" d="M100.69 335.23h3.90v1.53h-3.90zM116.31 368.96h3.90v1.53h-3.90z"/>
<path fill="#3670a0" d="M100.69 333.69h3.90v1.53h-3.90z"/>
<path fill="#316793" d="M100.69 329.09h3.90v1.53h-3.90z"/>
<path fill="#2e618b" d="M100.69 327.56h3.90v1.53h-3.90z"/>
<path fill="#2d5e87" d="M100.69 326.03h3.90v1.53h-3.90z"/>
<path fill="#2a5981" d="M100.69 324.49h3.90v1.53h-3.90z"/>
<path fill="#28557b" d="M100.69 322.96h3.90v1.53h-3.90z"/>
<path fill="#254f73" d="M100.69 321.43h3.90v1.53h-3.90z"/>
<path fill="#234a6c" d="M100.69 319.89h3.90v1.53h-3.90z"/>
<path fill="#1f4263" d="M104.60 375.10h3.90v1.53h-3.90z"/>
<path fill="#1c3d5c" d="M104.60 373.56h3.90v1.53h-3.90z"/>
<path fill="#265176" d="M104.60 372.03h3.90v1.53h-3.90z"/>
<path fill="#306591" d="M104.60 370.50h3.90v1.53h-3.90z"/>
<path fill="#356f9e" d="M104.60 368.96h3.90v1.53h-3.90z"/>
<path fill="#3c7caf" d="M104.60 358.23h3.90v1.53h-3.90z"/>
<path fill="#3d7eb2" d="M104.60 349.03h3.90v1.53h-3.90z"/>
<path fill="#3d7fb3" d="M104.60 344.43h3.90v1.53h-3.90z"/>
<path fill="#3d80b5" d="M104.60 341.36h3.90v1.53h-3.90z"/>
<path fill="#3e81b6" d="M104.60 338.29h3.90v1.53h-3.90zM104.60 336.76h3.90v1.53h-3.90z"/>
<path fill="#3c7db2" d="M104.60 332.16h3.90v1.53h-3.90z"/>
<path fill="#346c9b" d="M104.60 327.56h3.90v1.53h-3.90z"/>
<path fill="#326996" d="M104.60 326.03h3.90v1.53h-3.90z"/>
<path fill="#316794" d="M104.60 324.49h3.90v1.53h-3.90z"/>
<path fill="#306590" d="M104.60 322.96h3.90v1.53h-3.90z"/>
<path fill="#30648f" d="M104.60 321.43h3.90v1.53h-3.90z"/>
<path fill="#2f638e" d="M104.60 319.89h3.90v1.53h-3.90z"/>
<path fill="#193753" d="M108.50 373.56h3.90v1.53h-3.90z"/>
<path fill="#132b43" d="M108.50 372.03h3.90v1.53h-3.90z"/>
<path fill="#275379" d="M108.50 370.50h3.90v1.53h-3.90z"/>
<path fill="#346d9b" d="M108.50 368.96h3.90v1.53h-3.90z"/>
<path fill="#3f83ba" d="M108.50 365.90h3.90v1.53h-3.90zM108.50 322.96h3.90v1.53h-3.90z"/>
<path fill="#4187be" d="M108.50 361.30h3.90v1.53h-3.90zM112.40 367.43h3.90v1.53h-3.90z"/>
<path fill="#428ac2" d="M108.50 347.49h3.90v1.53h-3.90zM108.50 345.96h3.90v1.53h-3.90z"/>
<path fill="#438bc3" d="M108.50 339.83h3.90v1.53h-3.90z"/>
<path fill="#4188c0" d="M108.50 327.56h3.90v1.53h-3.90z"/>
<path fill="#4085bd" d="M108.50 326.03h3.90v1.53h-3.90z"/>
<path fill="#244c70" d="M112.40 372.03h3.90v1.53h-3.90z"/>
<path fill="#214668" d="M112.40 370.50h3.90v1.53h-3.90z"/>
<path fill="#326895" d="M112.40 368.96h3.90v1.53h-3.90z"/>
<path fill="#4794cf" d="M112.40 364.36h3.90v1.53h-3.90z"/>
<path fill="#3977aa" d="M116.31 370.50h3.90v1.53h-3.90z"/>
<path fill="#4d9fe0" d="M116.31 342.89h3.90v1.53h-3.90z"/>
<path fill="#50a4e5" d="M120.21 344.43h3.90v1.53h-3.90zM120.21 342.89h3.90v1.53h-3.90z"/>
<path fill="#50a5e8" d="M124.12 327.56h3.90v1.53h-3.90zM124.12 319.89h3.90v1.53h-3.90z"/>
<path fill="#51a6e8" d="M128.02 356.70h3.90v1.53h-3.90zM128.02 355.16h3.90v1.53h-3.90zM128.02 353.63h3.90v1.53h-3.90zM128.02 352.10h3.90v1.53h-3.90zM128.02 350.56h3.90v1.53h-3.90zM128.02 349.03h3.90v1.53h-3.90zM128.02 347.49h3.90v1.53h-3.90zM128.02 345.96h3.90v1.53h-3.90zM128.02 344.43h3.90v1.53h-3.90zM128.02 342.89h3.90v1.53h-3.90z"/>
<path fill="#51a6e9" d="M128.02 341.36h3.90v1.53h-3.90zM128.02 339.83h3.90v1.53h-3.90zM128.02 338.29h3.90v1.53h-3.90zM128.02 336.76h3.90v1.53h-3.90zM128.02 335.23h3.90v1.53h-3.90zM128.02 333.69h3.90v1.53h-3.90zM128.02 332.16h3.90v1.53h-3.90zM128.02 330.63h3.90v1.53h-3.90zM128.02 327.56h3.90v1.53h-3.90zM128.02 326.03h3.90v1.53h-3.90zM128.02 324.49h3.90v1.53h-3.90z"/>
<path fill="#52a9ec" d="M135.83 355.16h3.90v1.53h-3.90zM135.83 353.63h3.90v1.53h-3.90zM135.83 352.10h3.90v1.53h-3.90zM135.83 350.56h3.90v1.53h-3.90zM135.83 349.03h3.90v1.53h-3.90zM135.83 347.49h3.90v1.53h-3.90zM135.83 345.96h3.90v1.53h-3.90zM135.83 344.43h3.90v1.53h-3.90zM135.83 342.89h3.90v1.53h-3.90zM135.83 341.36h3.90v1.53h-3.90zM135.83 339.83h3.90v1.53h-3.90zM135.83 338.29h3.90v1.53h-3.90zM135.83 336.76h3.90v1.53h-3.90zM135.83 335.23h3.90v1.53h-3.90zM135.83 333.69h3.90v1.53h-3.90zM135.83 332.16h3.90v1.53h-3.90zM139.73 335.23h3.90v1.53h-3.90zM139.73 333.69h3.90v1.53h-3.90zM139.73 332.16h3.90v1.53h-3.90zM139.73 330.63h3.90v1.53h-3.90zM139.73 329.09h3.90v1.53h-3.90zM139.73 327.56h3.90v1.53h-3.90zM139.73 326.03h3.90v1.53h-3.90zM139.73 324.49h3.90v1.53h-3.90zM139.73 322.96h3.90v1.53h-3.90zM139.73 321.43h3.90v1.53h-3.90zM139.73 319.89h3.90v1.53h-3.90z"/>
<path fill="#52a9ed" d="M135.83 330.63h3.90v1.53h-3.90zM135.83 329.09h3.90v1.53h-3.90zM135.83 327.56h3.90v1.53h-3.90zM135.83 326.03h3.90v1.53h-3.90zM135.83 324.49h3.90v1.53h-3.90zM135.83 322.96h3.90v1.53h-3.90zM135.83 321.43h3.90v1.53h-3.90zM135.83 319.89h3.90v1.53h-3.90zM143.64 359.76h3.90v1.53h-3.90zM143.64 358.23h3.90v1.53h-3.90zM143.64 356.70h3.90v1.53h-3.90zM143.64 355.16h3.90v1.53h-3.90zM143.64 353.63h3.90v1.53h-3.90zM143.64 352.10h3.90v1.53h-3.90z"/>
<path fill="#52a8ec" d="M139.73 339.83h3.90v1.53h-3.90zM139.73 338.29h3.90v1.53h-3.90zM139.73 336.76h3.90v1.53h-3.90z"/>
<path fill="#52aaed" d="M143.64 350.56h3.90v1.53h-3.90zM143.64 349.03h3.90v1.53h-3.90zM143.64 347.49h3.90v1.53h-3.90zM143.64 345.96h3.90v1.53h-3.90zM143.64 344.43h3.90v1.53h-3.90zM143.64 342.89h3.90v1.53h-3.90zM143.64 341.36h3.90v1.53h-3.90zM143.64 339.83h3.90v1.53h-3.90zM143.64 338.29h3.90v1.53h-3.90zM143.64 336.76h3.90v1.53h-3.90zM143.64 335.23h3.90v1.53h-3.90zM143.64 333.69h3.90v1.53h-3.90zM143.64 332.16h3.90v1.53h-3.90zM143.64 330.63h3.90v1.53h-3.90zM143.64 329.09h3.90v1.53h-3.90zM143.64 327.56h3.90v1.53h-3.90zM143.64 326.03h3.90v1.53h-3.90z"/>
<path fill="#52aaee" d="M143.64 324.49h3.90v1.53h-3.90z"/>
<path fill="#53aaee" d="M143.64 322.96h3.90v1.53h-3.90zM143.64 321.43h3.90v1.53h-3.90zM143.64 319.89h3.90v1.53h-3.90zM163.16 352.10h3.90v1.53h-3.90zM163.16 350.56h3.90v1.53h-3.90zM163.16 349.03h3.90v1.53h-3.90zM163.16 347.49h3.90v1.53h-3.90zM163.16 345.96h3.90v1.53h-3.90zM163.16 344.43h3.90v1.53h-3.90zM163.16 342.89h3.90v1.53h-3.90zM163.16 341.36h3.90v1.53h-3.90zM163.16 339.83h3.90v1.53h-3.90zM163.16 338.29h3.90v1.53h-3.90zM163.16 336.76h3.90v1.53h-3.90zM163.16 335.23h3.90v1.53h-3.90zM163.16 333.69h3.90v1.53h-3.90zM163.16 332.16h3.90v1.53h-3.90zM163.16 330.63h3.90v1.53h-3.90zM163.16 329.09h3.90v1.53h-3.90zM163.16 327.56h3.90v1.53h-3.90zM163.16 326.03h3.90v1.53h-3.90zM163.16 324.49h3.90v1.53h-3.90zM163.16 322.96h3.90v1.53h-3.90zM163.16 321.43h3.90v1.53h-3.90z"/>
<path fill="#54adf2" d="M147.54 358.23h3.90v1.53h-3.90zM147.54 356.70h3.90v1.53h-3.90zM147.54 355.16h3.90v1.53h-3.90zM147.54 353.63h3.90v1.53h-3.90zM147.54 352.10h3.90v1.53h-3.90zM147.54 350.56h3.90v1.53h-3.90zM147.54 349.03h3.90v1.53h-3.90zM147.54 347.49h3.90v1.53h-3.90zM147.54 345.96h3.90v1.53h-3.90zM147.54 344.43h3.90v1.53h-3.90zM147.54 342.89h3.90v1.53h-3.90zM147.54 341.36h3.90v1.53h-3.90zM147.54 339.83h3.90v1.53h-3.90zM147.54 338.29h3.90v1.53h-3.90zM147.54 336.76h3.90v1.53h-3.90zM147.54 335.23h3.90v1.53h-3.90zM147.54 333.69h3.90v1.53h-3.90zM147.54 332.16h3.90v1.53h-3.90zM147.54 330.63h3.90v1.53h-3.90zM147.54 329.09h3.90v1.53h-3.90zM147.54 327.56h3.90v1.53h-3.90zM147.54 326.03h3.90v1.53h-3.90zM147.54 324.49h3.90v1.53h-3.90zM147.54 322.96h3.90v1.53h-3.90zM147.54 321.43h3.90v1.53h-3.90zM147.54 319.89h3.90v1.53h-3.90zM229.52 324.49h3.90v1.53h-3.90zM229.52 322.96h3.90v1.53h-3.90zM229.52 321.43h3.90v1.53h-3.90zM229.52 319.89h3.90v1.53h-3.90z"/>
<path fill="#53abef" d="M151.44 356.70h3.90v1.53h-3.90zM151.44 355.16h3.90v1.53h-3.90zM151.44 353.63h3.90v1.53h-3.90zM151.44 352.10h3.90v1.53h-3.90zM151.44 350.56h3.90v1.53h-3.90zM151.44 349.03h3.90v1.53h-3.90zM151.44 347.49h3.90v1.53h-3.90zM151.44 345.96h3.90v1.53h-3.90zM151.44 344.43h3.90v1.53h-3.90zM151.44 342.89h3.90v1.53h-3.90zM151.44 341.36h3.90v1.53h-3.90zM151.44 339.83h3.90v1.53h-3.90zM151.44 338.29h3.90v1.53h-3.90zM151.44 336.76h3.90v1.53h-3.90zM151.44 335.23h3.90v1.53h-3.90zM155.35 345.96h3.90v1.53h-3.90zM155.35 344.43h3.90v1.53h-3.90zM155.35 342.89h3.90v1.53h-3.90zM155.35 341.36h3.90v1.53h-3.90zM155.35 339.83h3.90v1.53h-3.90zM155.35 338.29h3.90v1.53h-3.90zM155.35 336.76h3.90v1.53h-3.90zM155.35 335.23h3.90v1.53h-3.90zM155.35 333.69h3.90v1.53h-3.90zM155.35 332.16h3.90v1.53h-3.90zM155.35 330.63h3.90v1.53h-3.90zM155.35 329.09h3.90v1.53h-3.90zM155.35 327.56h3.90v1.53h-3.90zM155.35 326.03h3.90v1.53h-3.90zM155.35 324.49h3.90v1.53h-3.90zM155.35 322.96h3.90v1.53h-3.90zM155.35 321.43h3.90v1.53h-3.90zM155.35 319.89h3.90v1.53h-3.90z"/>
<path fill="#53abf0" d="M151.44 333.69h3.90v1.53h-3.90zM151.44 332.16h3.90v1.53h-3.90zM151.44 330.63h3.90v1.53h-3.90zM151.44 329.09h3.90v1.53h-3.90z"/>
<path fill="#53acf0" d="M151.44 327.56h3.90v1.53h-3.90zM151.44 326.03h3.90v1.53h-3.90zM151.44 324.49h3.90v1.53h-3.90zM151.44 322.96h3.90v1.53h-3.90zM151.44 321.43h3.90v1.53h-3.90zM151.44 319.89h3.90v1.53h-3.90zM190.48 341.36h3.90v1.53h-3.90zM190.48 339.83h3.90v1.53h-3.90zM190.48 338.29h3.90v1.53h-3.90zM190.48 336.76h3.90v1.53h-3.90zM190.48 335.23h3.90v1.53h-3.90zM190.48 333.69h3.90v1.53h-3.90zM190.48 332.16h3.90v1.53h-3.90zM190.48 330.63h3.90v1.53h-3.90zM190.48 329.09h3.90v1.53h-3.90zM190.48 327.56h3.90v1.53h-3.90zM190.48 326.03h3.90v1.53h-3.90zM190.48 324.49h3.90v1.53h-3.90zM190.48 322.96h3.90v1.53h-3.90zM190.48 321.43h3.90v1.53h-3.90zM190.48 319.89h3.90v1.53h-3.90z"/>
<path fill="#53abee" d="M155.35 355.16h3.90v1.53h-3.90zM155.35 353.63h3.90v1.53h-3.90zM155.35 352.10h3.90v1.53h-3.90zM155.35 350.56h3.90v1.53h-3.90zM155.35 349.03h3.90v1.53h-3.90zM155.35 347.49h3.90v1.53h-3.90zM163.16 319.89h3.90v1.53h-3.90z"/>
<path fill="#54acf0" d="M159.25 353.63h3.90v1.53h-3.90zM159.25 352.10h3.90v1.53h-3.90zM159.25 350.56h3.90v1.53h-3.90zM159.25 349.03h3.90v1.53h-3.90zM159.25 347.49h3.90v1.53h-3.90zM159.25 345.96h3.90v1.53h-3.90zM159.25 344.43h3.90v1.53h-3.90zM159.25 342.89h3.90v1.53h-3.90zM159.25 341.36h3.90v1.53h-3.90z"/>
<path fill="#54acf1" d="M159.25 339.83h3.90v1.53h-3.90zM159.25 338.29h3.90v1.53h-3.90zM159.25 336.76h3.90v1.53h-3.90zM159.25 335.23h3.90v1.53h-3.90zM159.25 333.69h3.90v1.53h-3.90zM159.25 332.16h3.90v1.53h-3.90zM159.25 330.63h3.90v1.53h-3.90zM159.25 329.09h3.90v1.53h-3.90zM159.25 327.56h3.90v1.53h-3.90zM159.25 326.03h3.90v1.53h-3.90zM159.25 324.49h3.90v1.53h-3.90zM159.25 322.96h3.90v1.53h-3.90zM159.25 321.43h3.90v1.53h-3.90zM159.25 319.89h3.90v1.53h-3.90zM182.68 344.43h3.90v1.53h-3.90zM182.68 342.89h3.90v1.53h-3.90zM182.68 341.36h3.90v1.53h-3.90z"/>
<path fill="#55aff5" d="M167.06 350.56h3.90v1.53h-3.90zM167.06 349.03h3.90v1.53h-3.90zM167.06 347.49h3.90v1.53h-3.90zM167.06 345.96h3.90v1.53h-3.90zM167.06 344.43h3.90v1.53h-3.90zM167.06 342.89h3.90v1.53h-3.90zM167.06 341.36h3.90v1.53h-3.90zM167.06 339.83h3.90v1.53h-3.90zM167.06 338.29h3.90v1.53h-3.90zM167.06 336.76h3.90v1.53h-3.90zM167.06 335.23h3.90v1.53h-3.90zM167.06 333.69h3.90v1.53h-3.90zM167.06 332.16h3.90v1.53h-3.90zM167.06 330.63h3.90v1.53h-3.90zM217.81 327.56h3.90v1.53h-3.90zM217.81 326.03h3.90v1.53h-3.90zM217.81 324.49h3.90v1.53h-3.90zM217.81 322.96h3.90v1.53h-3.90zM217.81 321.43h3.90v1.53h-3.90zM217.81 319.89h3.90v1.53h-3.90z"/>
<path fill="#55b0f5" d="M167.06 329.09h3.90v1.53h-3.90zM167.06 327.56h3.90v1.53h-3.90zM167.06 326.03h3.90v1.53h-3.90zM167.06 324.49h3.90v1.53h-3.90zM167.06 322.96h3.90v1.53h-3.90zM167.06 321.43h3.90v1.53h-3.90zM167.06 319.89h3.90v1.53h-3.90zM186.58 342.89h3.90v1.53h-3.90zM186.58 341.36h3.90v1.53h-3.90zM186.58 339.83h3.90v1.53h-3.90zM186.58 338.29h3.90v1.53h-3.90zM186.58 336.76h3.90v1.53h-3.90zM186.58 335.23h3.90v1.53h-3.90zM186.58 333.69h3.90v1.53h-3.90zM186.58 332.16h3.90v1.53h-3.90zM186.58 330.63h3.90v1.53h-3.90zM186.58 329.09h3.90v1.53h-3.90zM186.58 327.56h3.90v1.53h-3.90zM186.58 326.03h3.90v1.53h-3.90zM186.58 324.49h3.90v1.53h-3.90zM186.58 322.96h3.90v1.53h-3.90z"/>
<path fill="#55aef3" d="M170.96 349.03h3.90v1.53h-3.90zM170.96 347.49h3.90v1.53h-3.90zM170.96 345.96h3.90v1.53h-3.90zM170.96 344.43h3.90v1.53h-3.90zM170.96 342.89h3.90v1.53h-3.90zM170.96 341.36h3.90v1.53h-3.90zM170.96 339.83h3.90v1.53h-3.90zM170.96 338.29h3.90v1.53h-3.90zM170.96 336.76h3.90v1.53h-3.90zM170.96 335.23h3.90v1.53h-3.90zM170.96 333.69h3.90v1.53h-3.90zM170.96 332.16h3.90v1.53h-3.90zM170.96 330.63h3.90v1.53h-3.90zM198.29 332.16h3.90v1.53h-3.90zM198.29 330.63h3.90v1.53h-3.90zM198.29 329.09h3.90v1.53h-3.90zM198.29 327.56h3.90v1.53h-3.90zM198.29 326.03h3.90v1.53h-3.90zM198.29 324.49h3.90v1.53h-3.90zM198.29 322.96h3.90v1.53h-3.90zM198.29 321.43h3.90v1.53h-3.90zM198.29 319.89h3.90v1.53h-3.90z"/>
<path fill="#55aef4" d="M170.96 329.09h3.90v1.53h-3.90zM170.96 327.56h3.90v1.53h-3.90zM170.96 326.03h3.90v1.53h-3.90zM170.96 324.49h3.90v1.53h-3.90zM170.96 322.96h3.90v1.53h-3.90zM170.96 321.43h3.90v1.53h-3.90z"/>
<path fill="#55aff4" d="M170.96 319.89h3.90v1.53h-3.90zM194.39 339.83h3.90v1.53h-3.90zM194.39 338.29h3.90v1.53h-3.90zM194.39 336.76h3.90v1.53h-3.90zM194.39 335.23h3.90v1.53h-3.90zM194.39 333.69h3.90v1.53h-3.90zM194.39 332.16h3.90v1.53h-3.90zM194.39 330.63h3.90v1.53h-3.90zM194.39 329.09h3.90v1.53h-3.90zM194.39 327.56h3.90v1.53h-3.90zM194.39 326.03h3.90v1.53h-3.90zM194.39 324.49h3.90v1.53h-3.90zM194.39 322.96h3.90v1.53h-3.90zM194.39 321.43h3.90v1.53h-3.90zM194.39 319.89h3.90v1.53h-3.90zM210.00 333.69h3.90v1.53h-3.90zM210.00 332.16h3.90v1.53h-3.90zM210.00 330.63h3.90v1.53h-3.90zM210.00 329.09h3.90v1.53h-3.90zM210.00 327.56h3.90v1.53h-3.90zM210.00 326.03h3.90v1.53h-3.90zM210.00 324.49h3.90v1.53h-3.90zM210.00 322.96h3.90v1.53h-3.90zM210.00 321.43h3.90v1.53h-3.90zM210.00 319.89h3.90v1.53h-3.90zM217.81 330.63h3.90v1.53h-3.90zM217.81 329.09h3.90v1.53h-3.90zM225.62 327.56h3.90v1.53h-3.90zM225.62 326.03h3.90v1.53h-3.90zM225.62 324.49h3.90v1.53h-3.90zM225.62 322.96h3.90v1.53h-3.90zM225.62 321.43h3.90v1.53h-3.90zM225.62 319.89h3.90v1.53h-3.90z"/>
<path fill="#54aef2" d="M174.87 347.49h3.90v1.53h-3.90zM174.87 345.96h3.90v1.53h-3.90zM174.87 344.43h3.90v1.53h-3.90zM174.87 342.89h3.90v1.53h-3.90zM174.87 341.36h3.90v1.53h-3.90zM174.87 339.83h3.90v1.53h-3.90zM174.87 338.29h3.90v1.53h-3.90z"/>
<path fill="#54aef3" d="M174.87 336.76h3.90v1.53h-3.90zM174.87 335.23h3.90v1.53h-3.90zM174.87 333.69h3.90v1.53h-3.90zM174.87 332.16h3.90v1.53h-3.90zM174.87 330.63h3.90v1.53h-3.90zM174.87 329.09h3.90v1.53h-3.90zM174.87 327.56h3.90v1.53h-3.90zM174.87 326.03h3.90v1.53h-3.90zM174.87 324.49h3.90v1.53h-3.90zM174.87 322.96h3.90v1.53h-3.90zM174.87 321.43h3.90v1.53h-3.90zM174.87 319.89h3.90v1.53h-3.90zM198.29 338.29h3.90v1.53h-3.90zM198.29 336.76h3.90v1.53h-3.90zM198.29 335.23h3.90v1.53h-3.90zM198.29 333.69h3.90v1.53h-3.90z"/>
<path fill="#56b0f6" d="M178.77 345.96h3.90v1.53h-3.90zM178.77 344.43h3.90v1.53h-3.90zM178.77 342.89h3.90v1.53h-3.90zM178.77 341.36h3.90v1.53h-3.90zM178.77 339.83h3.90v1.53h-3.90zM178.77 338.29h3.90v1.53h-3.90zM178.77 336.76h3.90v1.53h-3.90zM178.77 335.23h3.90v1.53h-3.90zM178.77 333.69h3.90v1.53h-3.90zM178.77 332.16h3.90v1.53h-3.90zM178.77 330.63h3.90v1.53h-3.90zM178.77 329.09h3.90v1.53h-3.90zM178.77 327.56h3.90v1.53h-3.90zM178.77 326.03h3.90v1.53h-3.90zM178.77 324.49h3.90v1.53h-3.90zM178.77 322.96h3.90v1.53h-3.90zM178.77 321.43h3.90v1.53h-3.90zM178.77 319.89h3.90v1.53h-3.90zM213.91 332.16h3.90v1.53h-3.90zM213.91 330.63h3.90v1.53h-3.90zM213.91 329.09h3.90v1.53h-3.90zM213.91 327.56h3.90v1.53h-3.90zM221.72 329.09h3.90v1.53h-3.90zM221.72 327.56h3.90v1.53h-3.90zM221.72 326.03h3.90v1.53h-3.90zM221.72 324.49h3.90v1.53h-3.90zM221.72 322.96h3.90v1.53h-3.90zM221.72 321.43h3.90v1.53h-3.90zM221.72 319.89h3.90v1.53h-3.90z"/>
<path fill="#54adf1" d="M182.68 339.83h3.90v1.53h-3.90zM182.68 338.29h3.90v1.53h-3.90zM182.68 336.76h3.90v1.53h-3.90zM182.68 335.23h3.90v1.53h-3.90zM182.68 333.69h3.90v1.53h-3.90zM182.68 332.16h3.90v1.53h-3.90zM182.68 330.63h3.90v1.53h-3.90zM182.68 329.09h3.90v1.53h-3.90zM182.68 327.56h3.90v1.53h-3.90zM182.68 326.03h3.90v1.53h-3.90zM182.68 324.49h3.90v1.53h-3.90zM182.68 322.96h3.90v1.53h-3.90zM182.68 321.43h3.90v1.53h-3.90zM182.68 319.89h3.90v1.53h-3.90zM229.52 326.03h3.90v1.53h-3.90zM233.43 324.49h3.90v1.53h-3.90zM233.43 322.96h3.90v1.53h-3.90zM233.43 321.43h3.90v1.53h-3.90zM233.43 319.89h3.90v1.53h-3.90z"/>
<path fill="#55b0f6" d="M186.58 321.43h3.90v1.53h-3.90zM186.58 319.89h3.90v1.53h-3.90zM237.33 322.96h3.90v1.53h-3.90zM237.33 321.43h3.90v1.53h-3.90zM237.33 319.89h3.90v1.53h-3.90zM245.14 319.89h3.90v1.53h-3.90z"/>
<path fill="#56b1f6" d="M202.20 336.76h3.90v1.53h-3.90zM202.20 335.23h3.90v1.53h-3.90zM202.20 333.69h3.90v1.53h-3.90zM213.91 326.03h3.90v1.53h-3.90zM213.91 324.49h3.90v1.53h-3.90zM213.91 322.96h3.90v1.53h-3.90zM213.91 321.43h3.90v1.53h-3.90zM213.91 319.89h3.90v1.53h-3.90z"/>
<path fill="#56b1f7" d="M202.20 332.16h3.90v1.53h-3.90zM202.20 330.63h3.90v1.53h-3.90zM202.20 329.09h3.90v1.53h-3.90zM202.20 327.56h3.90v1.53h-3.90zM202.20 326.03h3.90v1.53h-3.90zM202.20 324.49h3.90v1.53h-3.90zM202.20 322.96h3.90v1.53h-3.90zM202.20 321.43h3.90v1.53h-3.90zM202.20 319.89h3.90v1.53h-3.90zM206.10 335.23h3.90v1.53h-3.90zM206.10 333.69h3.90v1.53h-3.90zM206.10 332.16h3.90v1.53h-3.90zM206.10 330.63h3.90v1.53h-3.90zM206.10 329.09h3.90v1.53h-3.90zM206.10 327.56h3.90v1.53h-3.90zM206.10 326.03h3.90v1.53h-3.90zM206.10 324.49h3.90v1.53h-3.90zM206.10 322.96h3.90v1.53h-3.90zM206.10 321.43h3.90v1.53h-3.90zM206.10 319.89h3.90v1.53h-3.90zM241.24 321.43h3.90v1.53h-3.90zM241.24 319.89h3.90v1.53h-3.90z"/>
<path fill="#4a9ad6" d="M273.65 319.89 L464.94 319.89 L464.94 321.43 L461.04 321.43 L461.04 322.96 L457.14 322.96 L457.14 324.49 L453.23 324.49 L453.23 326.03 L449.33 326.03 L449.33 327.56 L445.42 327.56 L445.42 329.09 L441.52 329.09 L441.52 330.63 L437.62 330.63 L437.62 332.16 L433.71 332.16 L433.71 333.69 L429.81 333.69 L429.81 335.23 L425.90 335.23 L425.90 336.76 L422.00 336.76 L422.00 338.29 L418.10 338.29 L418.10 339.83 L414.19 339.83 L414.19 341.36 L410.29 341.36 L410.29 342.89 L406.38 342.89 L406.38 344.43 L402.48 344.43 L402.48 345.96 L398.58 345.96 L398.58 347.49 L394.67 347.49 L394.67 349.03 L390.77 349.03 L390.77 350.56 L386.86 350.56 L386.86 352.10 L382.96 352.10 L382.96 353.63 L379.06 353.63 L379.06 355.16 L375.15 355.16 L375.15 356.70 L371.25 356.70 L371.25 358.23 L367.34 358.23 L367.34 359.76 L363.44 359.76 L363.44 361.30 L359.54 361.30 L359.54 362.83 L355.63 362.83 L355.63 364.36 L351.73 364.36 L351.73 365.90 L347.82 365.90 L347.82 367.43 L343.92 367.43 L343.92 368.96 L340.02 368.96 L340.02 370.50 L336.11 370.50 L336.11 372.03 L332.21 372.03 L332.21 373.56 L328.30 373.56 L328.30 375.10 L324.40 375.10 L324.40 376.63 L320.50 376.63 L320.50 378.16 L316.59 378.16 L316.59 379.70 L312.69 379.70 L312.69 381.23 L308.78 381.23 L308.78 382.77 L304.88 382.77 L304.88 384.30 L300.98 384.30 L300.98 385.83 L297.07 385.83 L297.07 387.37 L293.17 387.37 L293.17 388.90 L289.26 388.90 L289.26 390.43 L285.36 390.43 L285.36 391.97 L281.46 391.97 L281.46 393.50 L277.55 393.50 L277.55 395.03 L273.65 395.03Z"/>
<path fill="#54adf2" d="M273.65 393.50h3.90v1.53h-3.90zM273.65 391.97h3.90v1.53h-3.90zM273.65 390.43h3.90v1.53h-3.90zM273.65 388.90h3.90v1.53h-3.90zM371.25 355.16h3.90v1.53h-3.90zM371.25 353.63h3.90v1.53h-3.90zM371.25 352.10h3.90v1.53h-3.90zM371.25 350.56h3.90v1.53h-3.90zM371.25 349.03h3.90v1.53h-3.90zM371.25 347.49h3.90v1.53h-3.90zM371.25 345.96h3.90v1.53h-3.90zM371.25 344.43h3.90v1.53h-3.90zM371.25 342.89h3.90v1.53h-3.90zM371.25 341.36h3.90v1.53h-3.90zM371.25 339.83h3.90v1.53h-3.90zM371.25 338.29h3.90v1.53h-3.90zM371.25 336.76h3.90v1.53h-3.90zM371.25 335.23h3.90v1.53h-3.90zM371.25 333.69h3.90v1.53h-3.90zM371.25 332.16h3.90v1.53h-3.90zM371.25 330.63h3.90v1.53h-3.90zM371.25 329.09h3.90v1.53h-3.90zM371.25 327.56h3.90v1.53h-3.90zM371.25 326.03h3.90v1.53h-3.90zM371.25 324.49h3.90v1.53h-3.90zM371.25 322.96h3.90v1.53h-3.90zM371.25 321.43h3.90v1.53h-3.90zM371.25 319.89h3.90v1.53h-3.90zM406.38 341.36h3.90v1.53h-3.90zM406.38 339.83h3.90v1.53h-3.90z"/>
<path fill="#54acf1" d="M273.65 387.37h3.90v1.53h-3.90zM273.65 385.83h3.90v1.53h-3.90zM379.06 342.89h3.90v1.53h-3.90zM379.06 341.36h3.90v1.53h-3.90zM379.06 339.83h3.90v1.53h-3.90zM379.06 338.29h3.90v1.53h-3.90zM379.06 336.76h3.90v1.53h-3.90zM379.06 335.23h3.90v1.53h-3.90zM379.06 333.69h3.90v1.53h-3.90zM379.06 332.16h3.90v1.53h-3.90zM379.06 330.63h3.90v1.53h-3.90zM379.06 329.09h3.90v1.53h-3.90zM379.06 324.49h3.90v1.53h-3.90zM379.06 322.96h3.90v1.53h-3.90zM379.06 321.43h3.90v1.53h-3.90zM379.06 319.89h3.90v1.53h-3.90zM386.86 349.03h3.90v1.53h-3.90z"/>
<path fill="#54acf0" d="M273.65 384.30h3.90v1.53h-3.90zM379.06 352.10h3.90v1.53h-3.90zM379.06 350.56h3.90v1.53h-3.90zM379.06 349.03h3.90v1.53h-3.90zM379.06 347.49h3.90v1.53h-3.90zM379.06 345.96h3.90v1.53h-3.90zM379.06 344.43h3.90v1.53h-3.90zM379.06 327.56h3.90v1.53h-3.90zM379.06 326.03h3.90v1.53h-3.90z"/>
<path fill="#53acf0" d="M273.65 382.77h3.90v1.53h-3.90zM273.65 381.23h3.90v1.53h-3.90zM273.65 379.70h3.90v1.53h-3.90zM367.34 345.96h3.90v1.53h-3.90zM367.34 344.43h3.90v1.53h-3.90zM367.34 342.89h3.90v1.53h-3.90zM367.34 341.36h3.90v1.53h-3.90zM367.34 339.83h3.90v1.53h-3.90zM367.34 338.29h3.90v1.53h-3.90zM367.34 336.76h3.90v1.53h-3.90zM367.34 335.23h3.90v1.53h-3.90zM367.34 333.69h3.90v1.53h-3.90zM367.34 332.16h3.90v1.53h-3.90zM367.34 330.63h3.90v1.53h-3.90zM367.34 329.09h3.90v1.53h-3.90zM367.34 327.56h3.90v1.53h-3.90zM367.34 326.03h3.90v1.53h-3.90zM367.34 324.49h3.90v1.53h-3.90zM367.34 322.96h3.90v1.53h-3.90zM367.34 321.43h3.90v1.53h-3.90zM367.34 319.89h3.90v1.53h-3.90z"/>
<path fill="#53abef" d="M273.65 378.16h3.90v1.53h-3.90zM273.65 376.63h3.90v1.53h-3.90zM273.65 375.10h3.90v1.53h-3.90zM273.65 373.56h3.90v1.53h-3.90zM273.65 372.03h3.90v1.53h-3.90zM273.65 370.50h3.90v1.53h-3.90zM273.65 368.96h3.90v1.53h-3.90zM273.65 367.43h3.90v1.53h-3.90zM367.34 356.70h3.90v1.53h-3.90zM367.34 355.16h3.90v1.53h-3.90zM367.34 353.63h3.90v1.53h-3.90zM375.15 352.10h3.90v1.53h-3.90zM375.15 350.56h3.90v1.53h-3.90zM375.15 349.03h3.90v1.53h-3.90zM375.15 347.49h3.90v1.53h-3.90zM375.15 345.96h3.90v1.53h-3.90zM375.15 344.43h3.90v1.53h-3.90zM375.15 342.89h3.90v1.53h-3.90zM375.15 341.36h3.90v1.53h-3.90zM375.15 339.83h3.90v1.53h-3.90zM375.15 338.29h3.90v1.53h-3.90zM375.15 336.76h3.90v1.53h-3.90zM375.15 335.23h3.90v1.53h-3.90zM375.15 333.69h3.90v1.53h-3.90zM375.15 332.16h3.90v1.53h-3.90zM375.15 330.63h3.90v1.53h-3.90zM375.15 329.09h3.90v1.53h-3.90zM375.15 327.56h3.90v1.53h-3.90zM375.15 326.03h3.90v1.53h-3.90zM375.15 324.49h3.90v1.53h-3.90zM375.15 322.96h3.90v1.53h-3.90zM375.15 321.43h3.90v1.53h-3.90zM375.15 319.89h3.90v1.53h-3.90z"/>
<path fill="#53abee" d="M273.65 365.90h3.90v1.53h-3.90zM273.65 364.36h3.90v1.53h-3.90zM375.15 353.63h3.90v1.53h-3.90zM390.77 335.23h3.90v1.53h-3.90zM390.77 333.69h3.90v1.53h-3.90zM390.77 332.16h3.90v1.53h-3.90zM390.77 319.89h3.90v1.53h-3.90z"/>
<path fill="#53aaee" d="M273.65 362.83h3.90v1.53h-3.90zM273.65 361.30h3.90v1.53h-3.90zM273.65 359.76h3.90v1.53h-3.90zM273.65 358.23h3.90v1.53h-3.90zM273.65 356.70h3.90v1.53h-3.90zM273.65 355.16h3.90v1.53h-3.90zM273.65 353.63h3.90v1.53h-3.90zM273.65 352.10h3.90v1.53h-3.90zM273.65 350.56h3.90v1.53h-3.90zM390.77 347.49h3.90v1.53h-3.90zM390.77 345.96h3.90v1.53h-3.90zM390.77 344.43h3.90v1.53h-3.90zM390.77 342.89h3.90v1.53h-3.90zM390.77 341.36h3.90v1.53h-3.90zM390.77 339.83h3.90v1.53h-3.90zM390.77 338.29h3.90v1.53h-3.90zM390.77 336.76h3.90v1.53h-3.90zM390.77 330.63h3.90v1.53h-3.90zM390.77 329.09h3.90v1.53h-3.90zM390.77 327.56h3.90v1.53h-3.90zM390.77 326.03h3.90v1.53h-3.90zM390.77 324.49h3.90v1.53h-3.90zM390.77 322.96h3.90v1.53h-3.90zM390.77 321.43h3.90v1.53h-3.90z"/>
<path fill="#52aaee" d="M273.65 349.03h3.90v1.53h-3.90z"/>
<path fill="#52aaed" d="M273.65 347.49h3.90v1.53h-3.90zM273.65 345.96h3.90v1.53h-3.90zM273.65 344.43h3.90v1.53h-3.90zM363.44 345.96h3.90v1.53h-3.90zM363.44 344.43h3.90v1.53h-3.90zM363.44 342.89h3.90v1.53h-3.90zM363.44 341.36h3.90v1.53h-3.90zM363.44 339.83h3.90v1.53h-3.90zM363.44 338.29h3.90v1.53h-3.90zM363.44 336.76h3.90v1.53h-3.90zM363.44 335.23h3.90v1.53h-3.90zM363.44 333.69h3.90v1.53h-3.90zM363.44 332.16h3.90v1.53h-3.90zM363.44 330.63h3.90v1.53h-3.90zM363.44 322.96h3.90v1.53h-3.90zM363.44 321.43h3.90v1.53h-3.90zM363.44 319.89h3.90v1.53h-3.90z"/>
<path fill="#52a9ec" d="M273.65 342.89h3.90v1.53h-3.90zM355.63 361.30h3.90v1.53h-3.90zM355.63 359.76h3.90v1.53h-3.90zM355.63 358.23h3.90v1.53h-3.90zM355.63 356.70h3.90v1.53h-3.90zM355.63 355.16h3.90v1.53h-3.90zM355.63 353.63h3.90v1.53h-3.90zM355.63 352.10h3.90v1.53h-3.90zM355.63 350.56h3.90v1.53h-3.90zM355.63 349.03h3.90v1.53h-3.90zM355.63 347.49h3.90v1.53h-3.90zM355.63 345.96h3.90v1.53h-3.90zM355.63 344.43h3.90v1.53h-3.90zM355.63 342.89h3.90v1.53h-3.90zM355.63 338.29h3.90v1.53h-3.90zM355.63 336.76h3.90v1.53h-3.90zM355.63 335.23h3.90v1.53h-3.90zM355.63 333.69h3.90v1.53h-3.90zM355.63 332.16h3.90v1.53h-3.90zM355.63 330.63h3.90v1.53h-3.90zM355.63 329.09h3.90v1.53h-3.90zM355.63 327.56h3.90v1.53h-3.90zM355.63 326.03h3.90v1.53h-3.90zM355.63 324.49h3.90v1.53h-3.90zM355.63 322.96h3.90v1.53h-3.90zM355.63 321.43h3.90v1.53h-3.90zM355.63 319.89h3.90v1.53h-3.90z"/>
<path fill="#52a8ec" d="M273.65 341.36h3.90v1.53h-3.90zM273.65 339.83h3.90v1.53h-3.90zM273.65 338.29h3.90v1.53h-3.90z"/>
<path fill="#52a8eb" d="M273.65 336.76h3.90v1.53h-3.90zM273.65 335.23h3.90v1.53h-3.90zM273.65 333.69h3.90v1.53h-3.90zM273.65 332.16h3.90v1.53h-3.90zM273.65 330.63h3.90v1.53h-3.90zM273.65 329.09h3.90v1.53h-3.90zM273.65 327.56h3.90v1.53h-3.90zM273.65 326.03h3.90v1.53h-3.90zM273.65 324.49h3.90v1.53h-3.90zM359.54 345.96h3.90v1.53h-3.90zM359.54 344.43h3.90v1.53h-3.90zM359.54 342.89h3.90v1.53h-3.90zM359.54 341.36h3.90v1.53h-3.90zM359.54 339.83h3.90v1.53h-3.90zM359.54 338.29h3.90v1.53h-3.90zM359.54 336.76h3.90v1.53h-3.90zM359.54 335.23h3.90v1.53h-3.90zM359.54 333.69h3.90v1.53h-3.90zM359.54 332.16h3.90v1.53h-3.90zM359.54 319.89h3.90v1.53h-3.90z"/>
<path fill="#51a7ea" d="M273.65 322.96h3.90v1.53h-3.90zM273.65 321.43h3.90v1.53h-3.90zM273.65 319.89h3.90v1.53h-3.90zM351.73 347.49h3.90v1.53h-3.90zM351.73 345.96h3.90v1.53h-3.90zM351.73 344.43h3.90v1.53h-3.90zM351.73 342.89h3.90v1.53h-3.90zM351.73 341.36h3.90v1.53h-3.90zM351.73 339.83h3.90v1.53h-3.90zM351.73 338.29h3.90v1.53h-3.90zM351.73 336.76h3.90v1.53h-3.90zM351.73 335.23h3.90v1.53h-3.90zM351.73 333.69h3.90v1.53h-3.90zM351.73 332.16h3.90v1.53h-3.90zM351.73 330.63h3.90v1.53h-3.90zM351.73 329.09h3.90v1.53h-3.90zM351.73 327.56h3.90v1.53h-3.90zM351.73 324.49h3.90v1.53h-3.90zM351.73 322.96h3.90v1.53h-3.90zM351.73 321.43h3.90v1.53h-3.90zM351.73 319.89h3.90v1.53h-3.90zM359.54 359.76h3.90v1.53h-3.90z"/>
<path fill="#448dc6" d="M277.55 391.97h3.90v1.53h-3.90zM304.88 378.16h3.90v1.53h-3.90zM316.59 361.30h3.90v1.53h-3.90z"/>
<path fill="#438ac3" d="M277.55 390.43h3.90v1.53h-3.90zM289.26 352.10h3.90v1.53h-3.90zM304.88 372.03h3.90v1.53h-3.90zM304.88 370.50h3.90v1.53h-3.90zM304.88 362.83h3.90v1.53h-3.90zM312.69 367.43h3.90v1.53h-3.90z"/>
<path fill="#4085bc" d="M277.55 388.90h3.90v1.53h-3.90zM277.55 352.10h3.90v1.53h-3.90zM293.17 384.30h3.90v1.53h-3.90zM293.17 356.70h3.90v1.53h-3.90zM300.98 359.76h3.90v1.53h-3.90z"/>
<path fill="#3c7db1" d="M277.55 387.37h3.90v1.53h-3.90zM285.36 355.16h3.90v1.53h-3.90zM297.07 370.50h3.90v1.53h-3.90zM297.07 368.96h3.90v1.53h-3.90z"/>
<path fill="#3977a9" d="M277.55 385.83h3.90v1.53h-3.90zM277.55 355.16h3.90v1.53h-3.90zM289.26 378.16h3.90v1.53h-3.90z"/>
<path fill="#3671a1" d="M277.55 384.30h3.90v1.53h-3.90zM281.46 356.70h3.90v1.53h-3.90z"/>
<path fill="#356e9d" d="M277.55 382.77h3.90v1.53h-3.90zM277.55 358.23h3.90v1.53h-3.90z"/>
<path fill="#336a97" d="M277.55 381.23h3.90v1.53h-3.90z"/>
<path fill="#2f628d" d="M277.55 379.70h3.90v1.53h-3.90z"/>
<path fill="#2d5f89" d="M277.55 378.16h3.90v1.53h-3.90z"/>
<path fill="#2b5a83" d="M277.55 376.63h3.90v1.53h-3.90z"/>
<path fill="#132b43" d="M277.55 375.10h3.90v1.53h-3.90z"/>
<path fill="#254f73" d="M277.55 373.56h3.90v1.53h-3.90z"/>
<path fill="#1c3d5c" d="M277.55 372.03h3.90v1.53h-3.90z"/>
<path fill="#193753" d="M277.55 370.50h3.90v1.53h-3.90z"/>
<path fill="#1f4263" d="M277.55 368.96h3.90v1.53h-3.90z"/>
<path fill="#265176" d="M277.55 367.43h3.90v1.53h-3.90z"/>
<path fill="#29567d" d="M277.55 365.90h3.90v1.53h-3.90z"/>
<path fill="#2b5b84" d="M277.55 364.36h3.90v1.53h-3.90z"/>
<path fill="#2e608a" d="M277.55 362.83h3.90v1.53h-3.90z"/>
<path fill="#2f638e" d="M277.55 361.30h3.90v1.53h-3.90z"/>
<path fill="#336a98" d="M277.55 359.76h3.90v1.53h-3.90z"/>
<path fill="#3671a2" d="M277.55 356.70h3.90v1.53h-3.90z"/>
<path fill="#3c7db2" d="M277.55 353.63h3.90v1.53h-3.90z"/>
<path fill="#438bc4" d="M277.55 350.56h3.90v1.53h-3.90zM293.17 352.10h3.90v1.53h-3.90zM297.07 353.63h3.90v1.53h-3.90zM300.98 353.63h3.90v1.53h-3.90zM304.88 373.56h3.90v1.53h-3.90zM304.88 361.30h3.90v1.53h-3.90zM308.78 370.50h3.90v1.53h-3.90z"/>
<path fill="#448ec7" d="M277.55 349.03h3.90v1.53h-3.90z"/>
<path fill="#458fc9" d="M277.55 347.49h3.90v1.53h-3.90zM289.26 347.49h3.90v1.53h-3.90zM297.07 349.03h3.90v1.53h-3.90zM300.98 349.03h3.90v1.53h-3.90zM304.88 355.16h3.90v1.53h-3.90zM308.78 379.70h3.90v1.53h-3.90z"/>
<path fill="#4690cb" d="M277.55 345.96h3.90v1.53h-3.90zM281.46 344.43h3.90v1.53h-3.90zM289.26 345.96h3.90v1.53h-3.90zM297.07 347.49h3.90v1.53h-3.90zM300.98 347.49h3.90v1.53h-3.90zM308.78 353.63h3.90v1.53h-3.90zM312.69 372.03h3.90v1.53h-3.90zM312.69 358.23h3.90v1.53h-3.90z"/>
<path fill="#4691cc" d="M277.55 344.43h3.90v1.53h-3.90zM285.36 344.43h3.90v1.53h-3.90zM293.17 345.96h3.90v1.53h-3.90zM304.88 349.03h3.90v1.53h-3.90zM308.78 352.10h3.90v1.53h-3.90zM308.78 350.56h3.90v1.53h-3.90zM312.69 373.56h3.90v1.53h-3.90zM312.69 356.70h3.90v1.53h-3.90zM316.59 370.50h3.90v1.53h-3.90z"/>
<path fill="#4792ce" d="M277.55 342.89h3.90v1.53h-3.90zM281.46 342.89h3.90v1.53h-3.90zM300.98 345.96h3.90v1.53h-3.90zM308.78 349.03h3.90v1.53h-3.90zM312.69 353.63h3.90v1.53h-3.90zM316.59 372.03h3.90v1.53h-3.90z"/>
<path fill="#4794d0" d="M277.55 341.36h3.90v1.53h-3.90zM304.88 345.96h3.90v1.53h-3.90zM320.50 368.96h3.90v1.53h-3.90z"/>
<path fill="#4895d1" d="M277.55 339.83h3.90v1.53h-3.90zM289.26 341.36h3.90v1.53h-3.90zM297.07 342.89h3.90v1.53h-3.90zM304.88 344.43h3.90v1.53h-3.90zM312.69 347.49h3.90v1.53h-3.90zM316.59 349.03h3.90v1.53h-3.90zM320.50 372.03h3.90v1.53h-3.90zM320.50 358.23h3.90v1.53h-3.90z"/>
<path fill="#4996d3" d="M277.55 338.29h3.90v1.53h-3.90zM281.46 338.29h3.90v1.53h-3.90zM289.26 339.83h3.90v1.53h-3.90zM297.07 341.36h3.90v1.53h-3.90zM304.88 342.89h3.90v1.53h-3.90zM316.59 345.96h3.90v1.53h-3.90zM320.50 352.10h3.90v1.53h-3.90zM320.50 350.56h3.90v1.53h-3.90zM320.50 349.03h3.90v1.53h-3.90zM324.40 365.90h3.90v1.53h-3.90zM324.40 364.36h3.90v1.53h-3.90zM324.40 362.83h3.90v1.53h-3.90z"/>
<path fill="#4997d5" d="M277.55 336.76h3.90v1.53h-3.90zM289.26 338.29h3.90v1.53h-3.90zM304.88 341.36h3.90v1.53h-3.90zM316.59 344.43h3.90v1.53h-3.90z"/>
<path fill="#4a98d6" d="M277.55 335.23h3.90v1.53h-3.90zM285.36 336.76h3.90v1.53h-3.90zM289.26 336.76h3.90v1.53h-3.90zM293.17 338.29h3.90v1.53h-3.90zM297.07 338.29h3.90v1.53h-3.90zM304.88 339.83h3.90v1.53h-3.90zM324.40 353.63h3.90v1.53h-3.90zM324.40 352.10h3.90v1.53h-3.90zM324.40 350.56h3.90v1.53h-3.90z"/>
<path fill="#4b9bd9" d="M277.55 333.69h3.90v1.53h-3.90zM281.46 333.69h3.90v1.53h-3.90zM297.07 329.09h3.90v1.53h-3.90zM300.98 335.23h3.90v1.53h-3.90zM300.98 333.69h3.90v1.53h-3.90zM300.98 319.89h3.90v1.53h-3.90zM308.78 338.29h3.90v1.53h-3.90zM308.78 332.16h3.90v1.53h-3.90zM328.30 365.90h3.90v1.53h-3.90zM328.30 362.83h3.90v1.53h-3.90z"/>
<path fill="#4c9ddd" d="M277.55 332.16h3.90v1.53h-3.90zM289.26 329.09h3.90v1.53h-3.90zM289.26 324.49h3.90v1.53h-3.90zM289.26 322.96h3.90v1.53h-3.90zM312.69 330.63h3.90v1.53h-3.90zM312.69 321.43h3.90v1.53h-3.90zM316.59 326.03h3.90v1.53h-3.90z"/>
<path fill="#4d9fde" d="M277.55 330.63h3.90v1.53h-3.90zM281.46 322.96h3.90v1.53h-3.90zM281.46 321.43h3.90v1.53h-3.90zM281.46 319.89h3.90v1.53h-3.90zM328.30 372.03h3.90v1.53h-3.90z"/>
<path fill="#4d9fdf" d="M277.55 329.09h3.90v1.53h-3.90zM277.55 327.56h3.90v1.53h-3.90zM277.55 326.03h3.90v1.53h-3.90zM277.55 324.49h3.90v1.53h-3.90zM277.55 322.96h3.90v1.53h-3.90zM312.69 338.29h3.90v1.53h-3.90zM312.69 336.76h3.90v1.53h-3.90zM312.69 335.23h3.90v1.53h-3.90zM312.69 333.69h3.90v1.53h-3.90zM316.59 339.83h3.90v1.53h-3.90zM316.59 332.16h3.90v1.53h-3.90zM316.59 330.63h3.90v1.53h-3.90zM316.59 321.43h3.90v1.53h-3.90zM320.50 341.36h3.90v1.53h-3.90zM320.50 327.56h3.90v1.53h-3.90zM320.50 326.03h3.90v1.53h-3.90zM320.50 324.49h3.90v1.53h-3.90zM328.30 356.70h3.90v1.53h-3.90zM328.30 355.16h3.90v1.53h-3.90z"/>
<path fill="#4d9fe0" d="M277.55 321.43h3.90v1.53h-3.90z"/>
<path fill="#4da0e0" d="M277.55 319.89h3.90v1.53h-3.90zM316.59 338.29h3.90v1.53h-3.90zM316.59 333.69h3.90v1.53h-3.90zM316.59 319.89h3.90v1.53h-3.90zM320.50 330.63h3.90v1.53h-3.90zM320.50 329.09h3.90v1.53h-3.90zM320.50 322.96h3.90v1.53h-3.90zM324.40 344.43h3.90v1.53h-3.90zM328.30 353.63h3.90v1.53h-3.90z"/>
<path fill="#4186be" d="M281.46 390.43h3.90v1.53h-3.90zM300.98 358.23h3.90v1.53h-3.90zM308.78 365.90h3.90v1.53h-3.90z"/>
<path fill="#3e81b7" d="M281.46 388.90h3.90v1.53h-3.90zM289.26 384.30h3.90v1.53h-3.90zM297.07 362.83h3.90v1.53h-3.90zM300.98 373.56h3.90v1.53h-3.90z"/>
<path fill="#3b7aae" d="M281.46 387.37h3.90v1.53h-3.90zM293.17 375.10h3.90v1.53h-3.90z"/>
<path fill="#3976a8" d="M281.46 385.83h3.90v1.53h-3.90zM281.46 355.16h3.90v1.53h-3.90z"/>
<path fill="#3670a0" d="M281.46 384.30h3.90v1.53h-3.90z"/>
<path fill="#356e9e" d="M281.46 382.77h3.90v1.53h-3.90z"/>
<path fill="#336b99" d="M281.46 381.23h3.90v1.53h-3.90zM281.46 359.76h3.90v1.53h-3.90z"/>
<path fill="#30648f" d="M281.46 379.70h3.90v1.53h-3.90z"/>
<path fill="#2e618b" d="M281.46 378.16h3.90v1.53h-3.90z"/>
<path fill="#2c5d86" d="M281.46 376.63h3.90v1.53h-3.90z"/>
<path fill="#2a587f" d="M281.46 375.10h3.90v1.53h-3.90z"/>
<path fill="#275379" d="M281.46 373.56h3.90v1.53h-3.90z"/>
<path fill="#234a6c" d="M281.46 372.03h3.90v1.53h-3.90z"/>
<path fill="#214668" d="M281.46 370.50h3.90v1.53h-3.90z"/>
<path fill="#244c70" d="M281.46 368.96h3.90v1.53h-3.90z"/>
<path fill="#28557b" d="M281.46 367.43h3.90v1.53h-3.90z"/>
<path fill="#2a5981" d="M281.46 365.90h3.90v1.53h-3.90z"/>
<path fill="#2d5e87" d="M281.46 364.36h3.90v1.53h-3.90z"/>
<path fill="#2e618c" d="M281.46 362.83h3.90v1.53h-3.90z"/>
<path fill="#306590" d="M281.46 361.30h3.90v1.53h-3.90z"/>
<path fill="#356f9e" d="M281.46 358.23h3.90v1.53h-3.90z"/>
<path fill="#3b7bae" d="M281.46 353.63h3.90v1.53h-3.90z"/>
<path fill="#3f82b8" d="M281.46 352.10h3.90v1.53h-3.90zM289.26 356.70h3.90v1.53h-3.90zM300.98 375.10h3.90v1.53h-3.90zM300.98 364.36h3.90v1.53h-3.90z"/>
<path fill="#4187bf" d="M281.46 350.56h3.90v1.53h-3.90zM289.26 387.37h3.90v1.53h-3.90zM289.26 353.63h3.90v1.53h-3.90zM293.17 385.83h3.90v1.53h-3.90zM293.17 355.16h3.90v1.53h-3.90zM300.98 382.77h3.90v1.53h-3.90z"/>
<path fill="#438bc3" d="M281.46 349.03h3.90v1.53h-3.90z"/>
<path fill="#448dc7" d="M281.46 347.49h3.90v1.53h-3.90zM289.26 349.03h3.90v1.53h-3.90zM304.88 379.70h3.90v1.53h-3.90zM304.88 358.23h3.90v1.53h-3.90zM308.78 373.56h3.90v1.53h-3.90zM308.78 358.23h3.90v1.53h-3.90zM312.69 368.96h3.90v1.53h-3.90z"/>
<path fill="#458fca" d="M281.46 345.96h3.90v1.53h-3.90zM293.17 347.49h3.90v1.53h-3.90zM304.88 353.63h3.90v1.53h-3.90zM312.69 370.50h3.90v1.53h-3.90zM316.59 368.96h3.90v1.53h-3.90z"/>
<path fill="#4894d0" d="M281.46 341.36h3.90v1.53h-3.90zM293.17 342.89h3.90v1.53h-3.90zM300.98 344.43h3.90v1.53h-3.90zM308.78 345.96h3.90v1.53h-3.90zM312.69 349.03h3.90v1.53h-3.90zM316.59 353.63h3.90v1.53h-3.90zM316.59 352.10h3.90v1.53h-3.90zM320.50 359.76h3.90v1.53h-3.90z"/>
<path fill="#4895d2" d="M281.46 339.83h3.90v1.53h-3.90zM293.17 341.36h3.90v1.53h-3.90zM300.98 342.89h3.90v1.53h-3.90zM308.78 344.43h3.90v1.53h-3.90zM320.50 375.10h3.90v1.53h-3.90zM320.50 373.56h3.90v1.53h-3.90zM320.50 356.70h3.90v1.53h-3.90zM320.50 355.16h3.90v1.53h-3.90z"/>
<path fill="#4998d5" d="M281.46 336.76h3.90v1.53h-3.90zM300.98 339.83h3.90v1.53h-3.90zM324.40 373.56h3.90v1.53h-3.90zM324.40 372.03h3.90v1.53h-3.90zM324.40 356.70h3.90v1.53h-3.90z"/>
<path fill="#4a99d6" d="M281.46 335.23h3.90v1.53h-3.90zM300.98 338.29h3.90v1.53h-3.90zM308.78 327.56h3.90v1.53h-3.90zM308.78 326.03h3.90v1.53h-3.90zM308.78 324.49h3.90v1.53h-3.90z"/>
<path fill="#4c9ddc" d="M281.46 332.16h3.90v1.53h-3.90zM285.36 332.16h3.90v1.53h-3.90zM289.26 332.16h3.90v1.53h-3.90zM289.26 330.63h3.90v1.53h-3.90zM289.26 327.56h3.90v1.53h-3.90zM289.26 326.03h3.90v1.53h-3.90zM293.17 332.16h3.90v1.53h-3.90zM293.17 321.43h3.90v1.53h-3.90zM293.17 319.89h3.90v1.53h-3.90zM304.88 335.23h3.90v1.53h-3.90zM312.69 339.83h3.90v1.53h-3.90zM312.69 322.96h3.90v1.53h-3.90zM316.59 341.36h3.90v1.53h-3.90zM320.50 342.89h3.90v1.53h-3.90zM328.30 368.96h3.90v1.53h-3.90zM328.30 359.76h3.90v1.53h-3.90z"/>
<path fill="#4c9edd" d="M281.46 330.63h3.90v1.53h-3.90zM285.36 330.63h3.90v1.53h-3.90zM285.36 329.09h3.90v1.53h-3.90zM285.36 327.56h3.90v1.53h-3.90zM289.26 321.43h3.90v1.53h-3.90zM316.59 327.56h3.90v1.53h-3.90zM316.59 324.49h3.90v1.53h-3.90z"/>
<path fill="#4d9ede" d="M281.46 329.09h3.90v1.53h-3.90zM281.46 327.56h3.90v1.53h-3.90zM281.46 326.03h3.90v1.53h-3.90zM281.46 324.49h3.90v1.53h-3.90zM285.36 322.96h3.90v1.53h-3.90zM285.36 321.43h3.90v1.53h-3.90zM285.36 319.89h3.90v1.53h-3.90zM289.26 319.89h3.90v1.53h-3.90zM312.69 332.16h3.90v1.53h-3.90zM312.69 319.89h3.90v1.53h-3.90zM316.59 329.09h3.90v1.53h-3.90zM316.59 322.96h3.90v1.53h-3.90zM328.30 358.23h3.90v1.53h-3.90z"/>
<path fill="#4086bd" d="M285.36 388.90h3.90v1.53h-3.90z"/>
<path fill="#3f82b9" d="M285.36 387.37h3.90v1.53h-3.90z"/>
<path fill="#3c7cb0" d="M285.36 385.83h3.90v1.53h-3.90zM293.17 378.16h3.90v1.53h-3.90zM293.17 362.83h3.90v1.53h-3.90z"/>
<path fill="#3a78aa" d="M285.36 384.30h3.90v1.53h-3.90z"/>
<path fill="#3875a6" d="M285.36 382.77h3.90v1.53h-3.90z"/>
<path fill="#3772a2" d="M285.36 381.23h3.90v1.53h-3.90z"/>
<path fill="#356f9f" d="M285.36 379.70h3.90v1.53h-3.90z"/>
<path fill="#346d9b" d="M285.36 378.16h3.90v1.53h-3.90z"/>
<path fill="#346c9a" d="M285.36 376.63h3.90v1.53h-3.90z"/>
<path fill="#326896" d="M285.36 375.10h3.90v1.53h-3.90z"/>
<path fill="#316794" d="M285.36 373.56h3.90v1.53h-3.90z"/>
<path fill="#316692" d="M285.36 372.03h3.90v1.53h-3.90z"/>
<path fill="#306591" d="M285.36 370.50h3.90v1.53h-3.90z"/>
<path fill="#316793" d="M285.36 368.96h3.90v1.53h-3.90z"/>
<path fill="#326895" d="M285.36 367.43h3.90v1.53h-3.90z"/>
<path fill="#326996" d="M285.36 365.90h3.90v1.53h-3.90z"/>
<path fill="#346c9b" d="M285.36 364.36h3.90v1.53h-3.90z"/>
<path fill="#346d9c" d="M285.36 362.83h3.90v1.53h-3.90z"/>
<path fill="#36709f" d="M285.36 361.30h3.90v1.53h-3.90z"/>
<path fill="#3772a3" d="M285.36 359.76h3.90v1.53h-3.90zM289.26 370.50h3.90v1.53h-3.90z"/>
<path fill="#3875a7" d="M285.36 358.23h3.90v1.53h-3.90zM289.26 364.36h3.90v1.53h-3.90z"/>
<path fill="#3a78ab" d="M285.36 356.70h3.90v1.53h-3.90zM293.17 370.50h3.90v1.53h-3.90zM293.17 368.96h3.90v1.53h-3.90z"/>
<path fill="#3f83b9" d="M285.36 353.63h3.90v1.53h-3.90zM293.17 382.77h3.90v1.53h-3.90zM300.98 376.63h3.90v1.53h-3.90zM300.98 362.83h3.90v1.53h-3.90z"/>
<path fill="#4186bd" d="M285.36 352.10h3.90v1.53h-3.90zM297.07 382.77h3.90v1.53h-3.90zM297.07 358.23h3.90v1.53h-3.90zM308.78 364.36h3.90v1.53h-3.90z"/>
<path fill="#4289c2" d="M285.36 350.56h3.90v1.53h-3.90zM297.07 355.16h3.90v1.53h-3.90zM308.78 361.30h3.90v1.53h-3.90z"/>
<path fill="#448cc5" d="M285.36 349.03h3.90v1.53h-3.90zM300.98 352.10h3.90v1.53h-3.90zM304.88 376.63h3.90v1.53h-3.90zM304.88 359.76h3.90v1.53h-3.90z"/>
<path fill="#458ec8" d="M285.36 347.49h3.90v1.53h-3.90zM293.17 349.03h3.90v1.53h-3.90zM304.88 381.23h3.90v1.53h-3.90zM304.88 356.70h3.90v1.53h-3.90zM308.78 375.10h3.90v1.53h-3.90zM312.69 359.76h3.90v1.53h-3.90z"/>
<path fill="#4590ca" d="M285.36 345.96h3.90v1.53h-3.90zM308.78 355.16h3.90v1.53h-3.90zM316.59 359.76h3.90v1.53h-3.90z"/>
<path fill="#4793cf" d="M285.36 342.89h3.90v1.53h-3.90zM297.07 344.43h3.90v1.53h-3.90zM308.78 347.49h3.90v1.53h-3.90zM312.69 350.56h3.90v1.53h-3.90zM316.59 376.63h3.90v1.53h-3.90zM316.59 375.10h3.90v1.53h-3.90zM316.59 373.56h3.90v1.53h-3.90zM316.59 355.16h3.90v1.53h-3.90zM320.50 367.43h3.90v1.53h-3.90zM320.50 361.30h3.90v1.53h-3.90z"/>
<path fill="#4894d1" d="M285.36 341.36h3.90v1.53h-3.90zM316.59 350.56h3.90v1.53h-3.90zM320.50 370.50h3.90v1.53h-3.90z"/>
<path fill="#4896d2" d="M285.36 339.83h3.90v1.53h-3.90zM312.69 345.96h3.90v1.53h-3.90zM316.59 347.49h3.90v1.53h-3.90zM320.50 353.63h3.90v1.53h-3.90z"/>
<path fill="#4997d4" d="M285.36 338.29h3.90v1.53h-3.90zM293.17 339.83h3.90v1.53h-3.90zM297.07 339.83h3.90v1.53h-3.90zM300.98 341.36h3.90v1.53h-3.90zM308.78 342.89h3.90v1.53h-3.90zM312.69 344.43h3.90v1.53h-3.90zM320.50 347.49h3.90v1.53h-3.90zM324.40 370.50h3.90v1.53h-3.90zM324.40 368.96h3.90v1.53h-3.90zM324.40 367.43h3.90v1.53h-3.90zM324.40 361.30h3.90v1.53h-3.90zM324.40 359.76h3.90v1.53h-3.90zM324.40 358.23h3.90v1.53h-3.90z"/>
<path fill="#4a9ad8" d="M285.36 335.23h3.90v1.53h-3.90zM297.07 336.76h3.90v1.53h-3.90zM300.98 322.96h3.90v1.53h-3.90zM304.88 329.09h3.90v1.53h-3.90zM304.88 322.96h3.90v1.53h-3.90zM312.69 341.36h3.90v1.53h-3.90z"/>
<path fill="#4b9cda" d="M285.36 333.69h3.90v1.53h-3.90zM312.69 327.56h3.90v1.53h-3.90zM312.69 324.49h3.90v1.53h-3.90zM328.30 367.43h3.90v1.53h-3.90zM328.30 361.30h3.90v1.53h-3.90z"/>
<path fill="#4d9edd" d="M285.36 326.03h3.90v1.53h-3.90zM285.36 324.49h3.90v1.53h-3.90zM324.40 345.96h3.90v1.53h-3.90zM328.30 370.50h3.90v1.53h-3.90z"/>
<path fill="#4084bb" d="M289.26 385.83h3.90v1.53h-3.90zM289.26 355.16h3.90v1.53h-3.90zM297.07 381.23h3.90v1.53h-3.90zM297.07 359.76h3.90v1.53h-3.90z"/>
<path fill="#3d7eb3" d="M289.26 382.77h3.90v1.53h-3.90zM289.26 358.23h3.90v1.53h-3.90zM297.07 373.56h3.90v1.53h-3.90z"/>
<path fill="#3b7baf" d="M289.26 381.23h3.90v1.53h-3.90zM293.17 376.63h3.90v1.53h-3.90zM293.17 364.36h3.90v1.53h-3.90z"/>
<path fill="#3a79ac" d="M289.26 379.70h3.90v1.53h-3.90zM289.26 361.30h3.90v1.53h-3.90zM293.17 372.03h3.90v1.53h-3.90z"/>
<path fill="#3976a7" d="M289.26 376.63h3.90v1.53h-3.90z"/>
<path fill="#3874a6" d="M289.26 375.10h3.90v1.53h-3.90z"/>
<path fill="#3874a5" d="M289.26 373.56h3.90v1.53h-3.90zM289.26 365.90h3.90v1.53h-3.90z"/>
<path fill="#3773a4" d="M289.26 372.03h3.90v1.53h-3.90zM289.26 368.96h3.90v1.53h-3.90zM289.26 367.43h3.90v1.53h-3.90z"/>
<path fill="#3977aa" d="M289.26 362.83h3.90v1.53h-3.90z"/>
<path fill="#3c7caf" d="M289.26 359.76h3.90v1.53h-3.90z"/>
<path fill="#438cc5" d="M289.26 350.56h3.90v1.53h-3.90zM304.88 375.10h3.90v1.53h-3.90z"/>
<path fill="#4792cd" d="M289.26 344.43h3.90v1.53h-3.90zM312.69 378.16h3.90v1.53h-3.90zM320.50 365.90h3.90v1.53h-3.90zM320.50 362.83h3.90v1.53h-3.90z"/>
<path fill="#4794cf" d="M289.26 342.89h3.90v1.53h-3.90z"/>
<path fill="#4b9ad9" d="M289.26 335.23h3.90v1.53h-3.90zM297.07 327.56h3.90v1.53h-3.90zM297.07 324.49h3.90v1.53h-3.90zM300.98 332.16h3.90v1.53h-3.90zM304.88 321.43h3.90v1.53h-3.90zM328.30 364.36h3.90v1.53h-3.90z"/>
<path fill="#4c9cdb" d="M289.26 333.69h3.90v1.53h-3.90zM293.17 333.69h3.90v1.53h-3.90zM293.17 330.63h3.90v1.53h-3.90zM293.17 329.09h3.90v1.53h-3.90zM293.17 327.56h3.90v1.53h-3.90zM293.17 326.03h3.90v1.53h-3.90zM293.17 324.49h3.90v1.53h-3.90zM293.17 322.96h3.90v1.53h-3.90zM297.07 333.69h3.90v1.53h-3.90zM297.07 319.89h3.90v1.53h-3.90zM304.88 336.76h3.90v1.53h-3.90zM304.88 333.69h3.90v1.53h-3.90zM308.78 336.76h3.90v1.53h-3.90zM308.78 335.23h3.90v1.53h-3.90zM312.69 329.09h3.90v1.53h-3.90z"/>
<path fill="#3e80b6" d="M293.17 381.23h3.90v1.53h-3.90zM293.17 359.76h3.90v1.53h-3.90z"/>
<path fill="#3d7fb4" d="M293.17 379.70h3.90v1.53h-3.90zM297.07 375.10h3.90v1.53h-3.90zM297.07 365.90h3.90v1.53h-3.90zM297.07 364.36h3.90v1.53h-3.90z"/>
<path fill="#3b7aad" d="M293.17 373.56h3.90v1.53h-3.90zM293.17 365.90h3.90v1.53h-3.90z"/>
<path fill="#3a7aad" d="M293.17 367.43h3.90v1.53h-3.90z"/>
<path fill="#3d7fb3" d="M293.17 361.30h3.90v1.53h-3.90z"/>
<path fill="#3f83ba" d="M293.17 358.23h3.90v1.53h-3.90zM297.07 361.30h3.90v1.53h-3.90z"/>
<path fill="#4289c1" d="M293.17 353.63h3.90v1.53h-3.90zM304.88 367.43h3.90v1.53h-3.90zM304.88 365.90h3.90v1.53h-3.90zM304.88 364.36h3.90v1.53h-3.90zM316.59 362.83h3.90v1.53h-3.90z"/>
<path fill="#448cc6" d="M293.17 350.56h3.90v1.53h-3.90zM297.07 352.10h3.90v1.53h-3.90zM308.78 372.03h3.90v1.53h-3.90zM316.59 367.43h3.90v1.53h-3.90z"/>
<path fill="#4793ce" d="M293.17 344.43h3.90v1.53h-3.90zM304.88 347.49h3.90v1.53h-3.90zM312.69 352.10h3.90v1.53h-3.90zM316.59 356.70h3.90v1.53h-3.90z"/>
<path fill="#4a99d7" d="M293.17 336.76h3.90v1.53h-3.90zM300.98 329.09h3.90v1.53h-3.90zM300.98 327.56h3.90v1.53h-3.90zM300.98 326.03h3.90v1.53h-3.90zM300.98 324.49h3.90v1.53h-3.90zM304.88 327.56h3.90v1.53h-3.90zM304.88 326.03h3.90v1.53h-3.90zM304.88 324.49h3.90v1.53h-3.90zM308.78 339.83h3.90v1.53h-3.90zM308.78 329.09h3.90v1.53h-3.90zM308.78 322.96h3.90v1.53h-3.90zM316.59 342.89h3.90v1.53h-3.90zM320.50 344.43h3.90v1.53h-3.90zM324.40 349.03h3.90v1.53h-3.90z"/>
<path fill="#4b9bda" d="M293.17 335.23h3.90v1.53h-3.90zM297.07 335.23h3.90v1.53h-3.90zM297.07 330.63h3.90v1.53h-3.90zM297.07 322.96h3.90v1.53h-3.90zM297.07 321.43h3.90v1.53h-3.90zM304.88 332.16h3.90v1.53h-3.90zM304.88 319.89h3.90v1.53h-3.90zM308.78 319.89h3.90v1.53h-3.90zM312.69 326.03h3.90v1.53h-3.90zM324.40 347.49h3.90v1.53h-3.90z"/>
<path fill="#4288c0" d="M297.07 384.30h3.90v1.53h-3.90zM297.07 356.70h3.90v1.53h-3.90zM300.98 356.70h3.90v1.53h-3.90zM308.78 367.43h3.90v1.53h-3.90zM312.69 365.90h3.90v1.53h-3.90z"/>
<path fill="#3f84ba" d="M297.07 379.70h3.90v1.53h-3.90z"/>
<path fill="#3e82b7" d="M297.07 378.16h3.90v1.53h-3.90z"/>
<path fill="#3e80b5" d="M297.07 376.63h3.90v1.53h-3.90zM300.98 370.50h3.90v1.53h-3.90zM300.98 367.43h3.90v1.53h-3.90z"/>
<path fill="#3c7eb2" d="M297.07 372.03h3.90v1.53h-3.90z"/>
<path fill="#3d7eb2" d="M297.07 367.43h3.90v1.53h-3.90z"/>
<path fill="#448ec8" d="M297.07 350.56h3.90v1.53h-3.90zM300.98 350.56h3.90v1.53h-3.90z"/>
<path fill="#4692cd" d="M297.07 345.96h3.90v1.53h-3.90zM312.69 376.63h3.90v1.53h-3.90zM312.69 355.16h3.90v1.53h-3.90z"/>
<path fill="#4b9cdb" d="M297.07 332.16h3.90v1.53h-3.90zM308.78 333.69h3.90v1.53h-3.90z"/>
<path fill="#4b9ad8" d="M297.07 326.03h3.90v1.53h-3.90zM300.98 336.76h3.90v1.53h-3.90zM300.98 330.63h3.90v1.53h-3.90zM300.98 321.43h3.90v1.53h-3.90zM304.88 338.29h3.90v1.53h-3.90zM304.88 330.63h3.90v1.53h-3.90zM308.78 330.63h3.90v1.53h-3.90zM308.78 321.43h3.90v1.53h-3.90z"/>
<path fill="#4085bd" d="M300.98 381.23h3.90v1.53h-3.90z"/>
<path fill="#4085bb" d="M300.98 379.70h3.90v1.53h-3.90z"/>
<path fill="#4084ba" d="M300.98 378.16h3.90v1.53h-3.90zM300.98 361.30h3.90v1.53h-3.90z"/>
<path fill="#3e81b6" d="M300.98 372.03h3.90v1.53h-3.90zM300.98 365.90h3.90v1.53h-3.90z"/>
<path fill="#3d80b5" d="M300.98 368.96h3.90v1.53h-3.90z"/>
<path fill="#428ac2" d="M300.98 355.16h3.90v1.53h-3.90zM304.88 368.96h3.90v1.53h-3.90z"/>
<path fill="#4690ca" d="M304.88 352.10h3.90v1.53h-3.90z"/>
<path fill="#4691cb" d="M304.88 350.56h3.90v1.53h-3.90z"/>
<path fill="#458ec9" d="M308.78 378.16h3.90v1.53h-3.90zM308.78 376.63h3.90v1.53h-3.90zM308.78 356.70h3.90v1.53h-3.90z"/>
<path fill="#438ac2" d="M308.78 368.96h3.90v1.53h-3.90z"/>
<path fill="#4188c0" d="M308.78 362.83h3.90v1.53h-3.90z"/>
<path fill="#438bc5" d="M308.78 359.76h3.90v1.53h-3.90zM312.69 361.30h3.90v1.53h-3.90z"/>
<path fill="#4a98d5" d="M308.78 341.36h3.90v1.53h-3.90zM312.69 342.89h3.90v1.53h-3.90zM320.50 345.96h3.90v1.53h-3.90zM324.40 355.16h3.90v1.53h-3.90z"/>
<path fill="#4691cd" d="M312.69 375.10h3.90v1.53h-3.90zM316.59 358.23h3.90v1.53h-3.90zM320.50 364.36h3.90v1.53h-3.90z"/>
<path fill="#4187be" d="M312.69 364.36h3.90v1.53h-3.90zM316.59 364.36h3.90v1.53h-3.90z"/>
<path fill="#4288c1" d="M312.69 362.83h3.90v1.53h-3.90zM316.59 365.90h3.90v1.53h-3.90z"/>
<path fill="#4ea0e0" d="M316.59 336.76h3.90v1.53h-3.90zM316.59 335.23h3.90v1.53h-3.90zM320.50 339.83h3.90v1.53h-3.90zM320.50 333.69h3.90v1.53h-3.90zM320.50 332.16h3.90v1.53h-3.90zM320.50 321.43h3.90v1.53h-3.90zM320.50 319.89h3.90v1.53h-3.90zM328.30 352.10h3.90v1.53h-3.90zM328.30 350.56h3.90v1.53h-3.90z"/>
<path fill="#4ea0e1" d="M320.50 338.29h3.90v1.53h-3.90zM320.50 336.76h3.90v1.53h-3.90zM320.50 335.23h3.90v1.53h-3.90zM328.30 349.03h3.90v1.53h-3.90zM332.21 367.43h3.90v1.53h-3.90zM332.21 365.90h3.90v1.53h-3.90zM332.21 364.36h3.90v1.53h-3.90zM332.21 362.83h3.90v1.53h-3.90z"/>
<path fill="#4ea1e1" d="M324.40 342.89h3.90v1.53h-3.90zM324.40 329.09h3.90v1.53h-3.90zM324.40 327.56h3.90v1.53h-3.90zM324.40 326.03h3.90v1.53h-3.90zM324.40 324.49h3.90v1.53h-3.90zM324.40 322.96h3.90v1.53h-3.90zM328.30 347.49h3.90v1.53h-3.90zM332.21 370.50h3.90v1.53h-3.90zM332.21 368.96h3.90v1.53h-3.90zM332.21 361.30h3.90v1.53h-3.90zM332.21 359.76h3.90v1.53h-3.90zM332.21 358.23h3.90v1.53h-3.90z"/>
<path fill="#4ea1e2" d="M324.40 341.36h3.90v1.53h-3.90zM324.40 339.83h3.90v1.53h-3.90zM324.40 338.29h3.90v1.53h-3.90zM324.40 336.76h3.90v1.53h-3.90zM324.40 335.23h3.90v1.53h-3.90zM324.40 333.69h3.90v1.53h-3.90zM324.40 332.16h3.90v1.53h-3.90zM324.40 330.63h3.90v1.53h-3.90zM324.40 321.43h3.90v1.53h-3.90zM324.40 319.89h3.90v1.53h-3.90zM328.30 345.96h3.90v1.53h-3.90zM332.21 356.70h3.90v1.53h-3.90zM332.21 355.16h3.90v1.53h-3.90zM332.21 353.63h3.90v1.53h-3.90zM332.21 352.10h3.90v1.53h-3.90zM332.21 350.56h3.90v1.53h-3.90z"/>
<path fill="#4ea2e2" d="M328.30 344.43h3.90v1.53h-3.90zM332.21 349.03h3.90v1.53h-3.90zM332.21 347.49h3.90v1.53h-3.90zM336.11 365.90h3.90v1.53h-3.90zM336.11 364.36h3.90v1.53h-3.90z"/>
<path fill="#4fa2e3" d="M328.30 342.89h3.90v1.53h-3.90zM328.30 330.63h3.90v1.53h-3.90zM328.30 329.09h3.90v1.53h-3.90zM328.30 324.49h3.90v1.53h-3.90zM328.30 322.96h3.90v1.53h-3.90zM328.30 321.43h3.90v1.53h-3.90zM332.21 345.96h3.90v1.53h-3.90zM332.21 344.43h3.90v1.53h-3.90zM332.21 329.09h3.90v1.53h-3.90zM332.21 327.56h3.90v1.53h-3.90zM332.21 326.03h3.90v1.53h-3.90zM332.21 324.49h3.90v1.53h-3.90zM336.11 368.96h3.90v1.53h-3.90zM336.11 359.76h3.90v1.53h-3.90zM336.11 358.23h3.90v1.53h-3.90zM336.11 356.70h3.90v1.53h-3.90zM336.11 355.16h3.90v1.53h-3.90z"/>
<path fill="#4fa3e4" d="M328.30 341.36h3.90v1.53h-3.90zM328.30 339.83h3.90v1.53h-3.90zM328.30 338.29h3.90v1.53h-3.90zM328.30 336.76h3.90v1.53h-3.90zM328.30 335.23h3.90v1.53h-3.90zM328.30 333.69h3.90v1.53h-3.90zM328.30 332.16h3.90v1.53h-3.90zM328.30 319.89h3.90v1.53h-3.90zM332.21 342.89h3.90v1.53h-3.90zM332.21 341.36h3.90v1.53h-3.90zM332.21 336.76h3.90v1.53h-3.90zM332.21 335.23h3.90v1.53h-3.90zM332.21 333.69h3.90v1.53h-3.90zM332.21 332.16h3.90v1.53h-3.90zM332.21 330.63h3.90v1.53h-3.90zM332.21 321.43h3.90v1.53h-3.90zM332.21 319.89h3.90v1.53h-3.90zM336.11 353.63h3.90v1.53h-3.90zM336.11 352.10h3.90v1.53h-3.90zM336.11 350.56h3.90v1.53h-3.90zM336.11 349.03h3.90v1.53h-3.90z"/>
<path fill="#4ea2e3" d="M328.30 327.56h3.90v1.53h-3.90zM328.30 326.03h3.90v1.53h-3.90zM336.11 367.43h3.90v1.53h-3.90zM336.11 362.83h3.90v1.53h-3.90zM336.11 361.30h3.90v1.53h-3.90z"/>
<path fill="#4fa3e5" d="M332.21 339.83h3.90v1.53h-3.90zM332.21 338.29h3.90v1.53h-3.90zM336.11 347.49h3.90v1.53h-3.90zM336.11 345.96h3.90v1.53h-3.90zM336.11 330.63h3.90v1.53h-3.90zM336.11 329.09h3.90v1.53h-3.90zM336.11 327.56h3.90v1.53h-3.90zM336.11 326.03h3.90v1.53h-3.90zM336.11 324.49h3.90v1.53h-3.90zM336.11 322.96h3.90v1.53h-3.90z"/>
<path fill="#4fa2e4" d="M332.21 322.96h3.90v1.53h-3.90z"/>
<path fill="#4fa4e5" d="M336.11 344.43h3.90v1.53h-3.90zM336.11 342.89h3.90v1.53h-3.90zM336.11 341.36h3.90v1.53h-3.90zM336.11 339.83h3.90v1.53h-3.90zM336.11 338.29h3.90v1.53h-3.90zM336.11 336.76h3.90v1.53h-3.90zM336.11 335.23h3.90v1.53h-3.90zM336.11 333.69h3.90v1.53h-3.90zM336.11 332.16h3.90v1.53h-3.90zM336.11 321.43h3.90v1.53h-3.90zM336.11 319.89h3.90v1.53h-3.90zM340.02 364.36h3.90v1.53h-3.90z"/>
<path fill="#50a4e6" d="M340.02 367.43h3.90v1.53h-3.90zM340.02 361.30h3.90v1.53h-3.90zM340.02 359.76h3.90v1.53h-3.90zM340.02 358.23h3.90v1.53h-3.90zM340.02 356.70h3.90v1.53h-3.90zM340.02 355.16h3.90v1.53h-3.90zM340.02 353.63h3.90v1.53h-3.90zM340.02 352.10h3.90v1.53h-3.90zM340.02 350.56h3.90v1.53h-3.90zM340.02 349.03h3.90v1.53h-3.90zM340.02 347.49h3.90v1.53h-3.90zM340.02 330.63h3.90v1.53h-3.90zM340.02 329.09h3.90v1.53h-3.90zM340.02 327.56h3.90v1.53h-3.90zM340.02 326.03h3.90v1.53h-3.90zM340.02 324.49h3.90v1.53h-3.90zM340.02 322.96h3.90v1.53h-3.90zM340.02 321.43h3.90v1.53h-3.90z"/>
<path fill="#50a4e5" d="M340.02 365.90h3.90v1.53h-3.90zM340.02 362.83h3.90v1.53h-3.90z"/>
<path fill="#50a5e6" d="M340.02 345.96h3.90v1.53h-3.90zM340.02 344.43h3.90v1.53h-3.90zM340.02 335.23h3.90v1.53h-3.90zM340.02 333.69h3.90v1.53h-3.90zM340.02 332.16h3.90v1.53h-3.90zM340.02 319.89h3.90v1.53h-3.90z"/>
<path fill="#50a5e7" d="M340.02 342.89h3.90v1.53h-3.90zM340.02 341.36h3.90v1.53h-3.90zM340.02 339.83h3.90v1.53h-3.90zM340.02 338.29h3.90v1.53h-3.90zM340.02 336.76h3.90v1.53h-3.90zM343.92 365.90h3.90v1.53h-3.90zM343.92 364.36h3.90v1.53h-3.90zM343.92 362.83h3.90v1.53h-3.90zM343.92 361.30h3.90v1.53h-3.90zM343.92 359.76h3.90v1.53h-3.90zM343.92 358.23h3.90v1.53h-3.90zM343.92 356.70h3.90v1.53h-3.90zM343.92 355.16h3.90v1.53h-3.90zM343.92 353.63h3.90v1.53h-3.90zM343.92 352.10h3.90v1.53h-3.90zM343.92 350.56h3.90v1.53h-3.90zM343.92 349.03h3.90v1.53h-3.90zM343.92 347.49h3.90v1.53h-3.90zM343.92 330.63h3.90v1.53h-3.90zM343.92 329.09h3.90v1.53h-3.90zM343.92 327.56h3.90v1.53h-3.90zM343.92 326.03h3.90v1.53h-3.90zM343.92 324.49h3.90v1.53h-3.90zM343.92 322.96h3.90v1.53h-3.90zM343.92 321.43h3.90v1.53h-3.90z"/>
<path fill="#50a6e8" d="M343.92 345.96h3.90v1.53h-3.90zM343.92 344.43h3.90v1.53h-3.90zM343.92 342.89h3.90v1.53h-3.90zM343.92 341.36h3.90v1.53h-3.90zM343.92 339.83h3.90v1.53h-3.90zM343.92 338.29h3.90v1.53h-3.90zM343.92 336.76h3.90v1.53h-3.90zM343.92 335.23h3.90v1.53h-3.90zM343.92 333.69h3.90v1.53h-3.90zM347.82 364.36h3.90v1.53h-3.90zM347.82 362.83h3.90v1.53h-3.90zM347.82 361.30h3.90v1.53h-3.90zM347.82 359.76h3.90v1.53h-3.90zM347.82 358.23h3.90v1.53h-3.90z"/>
<path fill="#50a5e8" d="M343.92 332.16h3.90v1.53h-3.90zM343.92 319.89h3.90v1.53h-3.90z"/>
<path fill="#51a6e8" d="M347.82 356.70h3.90v1.53h-3.90zM347.82 355.16h3.90v1.53h-3.90zM347.82 353.63h3.90v1.53h-3.90zM347.82 352.10h3.90v1.53h-3.90zM347.82 350.56h3.90v1.53h-3.90zM347.82 349.03h3.90v1.53h-3.90zM347.82 329.09h3.90v1.53h-3.90zM347.82 327.56h3.90v1.53h-3.90zM347.82 326.03h3.90v1.53h-3.90zM347.82 324.49h3.90v1.53h-3.90z"/>
<path fill="#51a6e9" d="M347.82 347.49h3.90v1.53h-3.90zM347.82 345.96h3.90v1.53h-3.90zM347.82 344.43h3.90v1.53h-3.90zM347.82 336.76h3.90v1.53h-3.90zM347.82 335.23h3.90v1.53h-3.90zM347.82 333.69h3.90v1.53h-3.90zM347.82 332.16h3.90v1.53h-3.90zM347.82 330.63h3.90v1.53h-3.90zM347.82 322.96h3.90v1.53h-3.90zM347.82 321.43h3.90v1.53h-3.90zM347.82 319.89h3.90v1.53h-3.90z"/>
<path fill="#51a7e9" d="M347.82 342.89h3.90v1.53h-3.90zM347.82 341.36h3.90v1.53h-3.90zM347.82 339.83h3.90v1.53h-3.90zM347.82 338.29h3.90v1.53h-3.90zM351.73 362.83h3.90v1.53h-3.90zM351.73 361.30h3.90v1.53h-3.90zM351.73 359.76h3.90v1.53h-3.90zM351.73 358.23h3.90v1.53h-3.90zM351.73 356.70h3.90v1.53h-3.90zM351.73 355.16h3.90v1.53h-3.90zM351.73 353.63h3.90v1.53h-3.90zM351.73 352.10h3.90v1.53h-3.90zM351.73 350.56h3.90v1.53h-3.90zM351.73 349.03h3.90v1.53h-3.90zM351.73 326.03h3.90v1.53h-3.90z"/>
<path fill="#52a9ed" d="M355.63 341.36h3.90v1.53h-3.90zM355.63 339.83h3.90v1.53h-3.90zM363.44 358.23h3.90v1.53h-3.90zM363.44 356.70h3.90v1.53h-3.90zM363.44 355.16h3.90v1.53h-3.90zM363.44 353.63h3.90v1.53h-3.90zM363.44 352.10h3.90v1.53h-3.90zM363.44 350.56h3.90v1.53h-3.90zM363.44 349.03h3.90v1.53h-3.90zM363.44 347.49h3.90v1.53h-3.90zM363.44 329.09h3.90v1.53h-3.90zM363.44 327.56h3.90v1.53h-3.90zM363.44 326.03h3.90v1.53h-3.90zM363.44 324.49h3.90v1.53h-3.90z"/>
<path fill="#51a8ea" d="M359.54 358.23h3.90v1.53h-3.90zM359.54 356.70h3.90v1.53h-3.90zM359.54 355.16h3.90v1.53h-3.90zM359.54 353.63h3.90v1.53h-3.90zM359.54 352.10h3.90v1.53h-3.90zM359.54 350.56h3.90v1.53h-3.90z"/>
<path fill="#51a8eb" d="M359.54 349.03h3.90v1.53h-3.90zM359.54 347.49h3.90v1.53h-3.90zM359.54 330.63h3.90v1.53h-3.90zM359.54 329.09h3.90v1.53h-3.90zM359.54 327.56h3.90v1.53h-3.90zM359.54 326.03h3.90v1.53h-3.90zM359.54 324.49h3.90v1.53h-3.90zM359.54 322.96h3.90v1.53h-3.90zM359.54 321.43h3.90v1.53h-3.90z"/>
<path fill="#53abf0" d="M367.34 352.10h3.90v1.53h-3.90zM367.34 350.56h3.90v1.53h-3.90zM367.34 349.03h3.90v1.53h-3.90zM367.34 347.49h3.90v1.53h-3.90z"/>
<path fill="#54aef3" d="M382.96 350.56h3.90v1.53h-3.90zM382.96 349.03h3.90v1.53h-3.90zM382.96 347.49h3.90v1.53h-3.90zM382.96 345.96h3.90v1.53h-3.90zM382.96 344.43h3.90v1.53h-3.90zM382.96 342.89h3.90v1.53h-3.90zM382.96 329.09h3.90v1.53h-3.90zM382.96 327.56h3.90v1.53h-3.90zM382.96 326.03h3.90v1.53h-3.90zM382.96 324.49h3.90v1.53h-3.90zM406.38 327.56h3.90v1.53h-3.90zM406.38 326.03h3.90v1.53h-3.90zM406.38 324.49h3.90v1.53h-3.90zM406.38 322.96h3.90v1.53h-3.90zM406.38 321.43h3.90v1.53h-3.90zM406.38 319.89h3.90v1.53h-3.90z"/>
<path fill="#55aef3" d="M382.96 341.36h3.90v1.53h-3.90zM382.96 339.83h3.90v1.53h-3.90zM382.96 338.29h3.90v1.53h-3.90zM382.96 336.76h3.90v1.53h-3.90zM382.96 335.23h3.90v1.53h-3.90zM382.96 333.69h3.90v1.53h-3.90zM382.96 332.16h3.90v1.53h-3.90zM382.96 330.63h3.90v1.53h-3.90zM382.96 322.96h3.90v1.53h-3.90zM382.96 321.43h3.90v1.53h-3.90zM382.96 319.89h3.90v1.53h-3.90zM414.19 338.29h3.90v1.53h-3.90zM414.19 336.76h3.90v1.53h-3.90zM414.19 335.23h3.90v1.53h-3.90zM414.19 333.69h3.90v1.53h-3.90zM414.19 332.16h3.90v1.53h-3.90zM414.19 330.63h3.90v1.53h-3.90zM414.19 329.09h3.90v1.53h-3.90zM414.19 327.56h3.90v1.53h-3.90zM414.19 326.03h3.90v1.53h-3.90zM414.19 324.49h3.90v1.53h-3.90zM414.19 322.96h3.90v1.53h-3.90z"/>
<path fill="#54adf1" d="M386.86 347.49h3.90v1.53h-3.90zM386.86 345.96h3.90v1.53h-3.90zM386.86 344.43h3.90v1.53h-3.90zM386.86 342.89h3.90v1.53h-3.90zM386.86 341.36h3.90v1.53h-3.90zM386.86 339.83h3.90v1.53h-3.90zM386.86 338.29h3.90v1.53h-3.90zM386.86 336.76h3.90v1.53h-3.90zM386.86 335.23h3.90v1.53h-3.90zM386.86 333.69h3.90v1.53h-3.90zM386.86 332.16h3.90v1.53h-3.90zM386.86 330.63h3.90v1.53h-3.90zM386.86 329.09h3.90v1.53h-3.90zM386.86 327.56h3.90v1.53h-3.90zM386.86 326.03h3.90v1.53h-3.90zM386.86 324.49h3.90v1.53h-3.90zM386.86 322.96h3.90v1.53h-3.90zM386.86 321.43h3.90v1.53h-3.90zM386.86 319.89h3.90v1.53h-3.90z"/>
<path fill="#55aff4" d="M394.67 345.96h3.90v1.53h-3.90zM394.67 344.43h3.90v1.53h-3.90zM394.67 342.89h3.90v1.53h-3.90zM394.67 341.36h3.90v1.53h-3.90zM394.67 339.83h3.90v1.53h-3.90zM394.67 338.29h3.90v1.53h-3.90zM394.67 336.76h3.90v1.53h-3.90zM394.67 335.23h3.90v1.53h-3.90zM394.67 333.69h3.90v1.53h-3.90zM394.67 332.16h3.90v1.53h-3.90zM394.67 330.63h3.90v1.53h-3.90zM394.67 329.09h3.90v1.53h-3.90zM394.67 327.56h3.90v1.53h-3.90zM394.67 326.03h3.90v1.53h-3.90zM394.67 324.49h3.90v1.53h-3.90zM394.67 322.96h3.90v1.53h-3.90zM394.67 321.43h3.90v1.53h-3.90zM394.67 319.89h3.90v1.53h-3.90zM410.29 333.69h3.90v1.53h-3.90zM410.29 332.16h3.90v1.53h-3.90zM410.29 330.63h3.90v1.53h-3.90zM410.29 329.09h3.90v1.53h-3.90zM410.29 327.56h3.90v1.53h-3.90zM410.29 326.03h3.90v1.53h-3.90zM410.29 324.49h3.90v1.53h-3.90zM410.29 322.96h3.90v1.53h-3.90zM410.29 321.43h3.90v1.53h-3.90zM410.29 319.89h3.90v1.53h-3.90zM418.10 336.76h3.90v1.53h-3.90zM418.10 335.23h3.90v1.53h-3.90zM418.10 333.69h3.90v1.53h-3.90zM418.10 332.16h3.90v1.53h-3.90zM418.10 330.63h3.90v1.53h-3.90z"/>
<path fill="#55b0f5" d="M398.58 344.43h3.90v1.53h-3.90zM398.58 342.89h3.90v1.53h-3.90zM398.58 341.36h3.90v1.53h-3.90zM398.58 339.83h3.90v1.53h-3.90zM398.58 338.29h3.90v1.53h-3.90zM398.58 336.76h3.90v1.53h-3.90zM398.58 335.23h3.90v1.53h-3.90zM398.58 333.69h3.90v1.53h-3.90zM398.58 332.16h3.90v1.53h-3.90zM398.58 330.63h3.90v1.53h-3.90zM398.58 329.09h3.90v1.53h-3.90zM398.58 327.56h3.90v1.53h-3.90zM398.58 326.03h3.90v1.53h-3.90zM398.58 324.49h3.90v1.53h-3.90zM402.48 322.96h3.90v1.53h-3.90zM402.48 321.43h3.90v1.53h-3.90zM402.48 319.89h3.90v1.53h-3.90zM449.33 324.49h3.90v1.53h-3.90zM449.33 322.96h3.90v1.53h-3.90zM449.33 321.43h3.90v1.53h-3.90zM449.33 319.89h3.90v1.53h-3.90z"/>
<path fill="#55b0f6" d="M398.58 322.96h3.90v1.53h-3.90zM398.58 321.43h3.90v1.53h-3.90zM398.58 319.89h3.90v1.53h-3.90zM445.42 326.03h3.90v1.53h-3.90zM445.42 324.49h3.90v1.53h-3.90zM445.42 322.96h3.90v1.53h-3.90z"/>
<path fill="#55aff5" d="M402.48 342.89h3.90v1.53h-3.90zM402.48 341.36h3.90v1.53h-3.90zM402.48 339.83h3.90v1.53h-3.90zM402.48 338.29h3.90v1.53h-3.90zM402.48 336.76h3.90v1.53h-3.90zM402.48 335.23h3.90v1.53h-3.90zM402.48 333.69h3.90v1.53h-3.90zM402.48 332.16h3.90v1.53h-3.90zM402.48 330.63h3.90v1.53h-3.90zM402.48 329.09h3.90v1.53h-3.90zM402.48 327.56h3.90v1.53h-3.90zM402.48 326.03h3.90v1.53h-3.90zM402.48 324.49h3.90v1.53h-3.90zM418.10 329.09h3.90v1.53h-3.90zM418.10 327.56h3.90v1.53h-3.90zM418.10 326.03h3.90v1.53h-3.90zM418.10 324.49h3.90v1.53h-3.90zM418.10 322.96h3.90v1.53h-3.90zM418.10 321.43h3.90v1.53h-3.90zM418.10 319.89h3.90v1.53h-3.90z"/>
<path fill="#54aef2" d="M406.38 338.29h3.90v1.53h-3.90zM406.38 336.76h3.90v1.53h-3.90zM406.38 335.23h3.90v1.53h-3.90zM406.38 333.69h3.90v1.53h-3.90zM406.38 332.16h3.90v1.53h-3.90zM406.38 330.63h3.90v1.53h-3.90zM406.38 329.09h3.90v1.53h-3.90z"/>
<path fill="#55aef4" d="M410.29 339.83h3.90v1.53h-3.90zM410.29 338.29h3.90v1.53h-3.90zM410.29 336.76h3.90v1.53h-3.90zM410.29 335.23h3.90v1.53h-3.90zM414.19 321.43h3.90v1.53h-3.90zM414.19 319.89h3.90v1.53h-3.90z"/>
<path fill="#56b1f6" d="M422.00 335.23h3.90v1.53h-3.90zM422.00 333.69h3.90v1.53h-3.90zM437.62 327.56h3.90v1.53h-3.90zM437.62 326.03h3.90v1.53h-3.90zM437.62 324.49h3.90v1.53h-3.90zM437.62 322.96h3.90v1.53h-3.90zM437.62 321.43h3.90v1.53h-3.90zM437.62 319.89h3.90v1.53h-3.90z"/>
<path fill="#56b1f7" d="M422.00 332.16h3.90v1.53h-3.90zM422.00 330.63h3.90v1.53h-3.90zM422.00 329.09h3.90v1.53h-3.90zM422.00 327.56h3.90v1.53h-3.90zM422.00 326.03h3.90v1.53h-3.90zM422.00 324.49h3.90v1.53h-3.90zM422.00 322.96h3.90v1.53h-3.90zM422.00 321.43h3.90v1.53h-3.90zM422.00 319.89h3.90v1.53h-3.90zM425.90 333.69h3.90v1.53h-3.90zM425.90 332.16h3.90v1.53h-3.90zM425.90 330.63h3.90v1.53h-3.90zM425.90 329.09h3.90v1.53h-3.90zM425.90 327.56h3.90v1.53h-3.90zM425.90 326.03h3.90v1.53h-3.90zM425.90 324.49h3.90v1.53h-3.90zM425.90 322.96h3.90v1.53h-3.90zM425.90 321.43h3.90v1.53h-3.90zM425.90 319.89h3.90v1.53h-3.90zM457.14 321.43h3.90v1.53h-3.90zM457.14 319.89h3.90v1.53h-3.90zM461.04 319.89h3.90v1.53h-3.90z"/>
<path fill="#56b0f6" d="M429.81 332.16h3.90v1.53h-3.90zM429.81 330.63h3.90v1.53h-3.90zM429.81 329.09h3.90v1.53h-3.90zM429.81 327.56h3.90v1.53h-3.90zM429.81 326.03h3.90v1.53h-3.90zM429.81 324.49h3.90v1.53h-3.90zM429.81 322.96h3.90v1.53h-3.90zM429.81 321.43h3.90v1.53h-3.90zM429.81 319.89h3.90v1.53h-3.90zM433.71 330.63h3.90v1.53h-3.90zM433.71 329.09h3.90v1.53h-3.90zM433.71 327.56h3.90v1.53h-3.90zM433.71 326.03h3.90v1.53h-3.90zM433.71 324.49h3.90v1.53h-3.90zM433.71 322.96h3.90v1.53h-3.90zM433.71 321.43h3.90v1.53h-3.90zM433.71 319.89h3.90v1.53h-3.90zM437.62 329.09h3.90v1.53h-3.90zM441.52 327.56h3.90v1.53h-3.90zM441.52 326.03h3.90v1.53h-3.90zM441.52 324.49h3.90v1.53h-3.90zM441.52 322.96h3.90v1.53h-3.90zM441.52 321.43h3.90v1.53h-3.90zM441.52 319.89h3.90v1.53h-3.90zM445.42 321.43h3.90v1.53h-3.90zM445.42 319.89h3.90v1.53h-3.90zM453.23 322.96h3.90v1.53h-3.90zM453.23 321.43h3.90v1.53h-3.90zM453.23 319.89h3.90v1.53h-3.90z"/>
<path fill="#4a9ad6" d="M57.75 442.99 L249.04 442.99 L249.04 444.53 L245.14 444.53 L245.14 446.06 L241.24 446.06 L241.24 447.59 L237.33 447.59 L237.33 449.13 L233.43 449.13 L233.43 450.66 L229.52 450.66 L229.52 452.19 L225.62 452.19 L225.62 453.73 L221.72 453.73 L221.72 455.26 L217.81 455.26 L217.81 456.79 L213.91 456.79 L213.91 458.33 L210.00 458.33 L210.00 459.86 L206.10 459.86 L206.10 461.39 L202.20 461.39 L202.20 462.93 L198.29 462.93 L198.29 464.46 L194.39 464.46 L194.39 465.99 L190.48 465.99 L190.48 467.53 L186.58 467.53 L186.58 469.06 L182.68 469.06 L182.68 470.59 L178.77 470.59 L178.77 472.13 L174.87 472.13 L174.87 473.66 L170.96 473.66 L170.96 475.20 L167.06 475.20 L167.06 476.73 L163.16 476.73 L163.16 478.26 L159.25 478.26 L159.25 479.80 L155.35 479.80 L155.35 481.33 L151.44 481.33 L151.44 482.86 L147.54 482.86 L147.54 484.40 L143.64 484.40 L143.64 485.93 L139.73 485.93 L139.73 487.46 L135.83 487.46 L135.83 489.00 L131.92 489.00 L131.92 490.53 L128.02 490.53 L128.02 492.06 L124.12 492.06 L124.12 493.60 L120.21 493.60 L120.21 495.13 L116.31 495.13 L116.31 496.66 L112.40 496.66 L112.40 498.20 L108.50 498.20 L108.50 499.73 L104.60 499.73 L104.60 501.26 L100.69 501.26 L100.69 502.80 L96.79 502.80 L96.79 504.33 L92.88 504.33 L92.88 505.87 L88.98 505.87 L88.98 507.40 L85.08 507.40 L85.08 508.93 L81.17 508.93 L81.17 510.47 L77.27 510.47 L77.27 512.00 L73.36 512.00 L73.36 513.53 L69.46 513.53 L69.46 515.07 L65.56 515.07 L65.56 516.60 L61.65 516.60 L61.65 518.13 L57.75 518.13Z"/>
<path fill="#4a99d7" d="M57.75 516.60h3.90v1.53h-3.90zM57.75 513.53h3.90v1.53h-3.90zM57.75 512.00h3.90v1.53h-3.90zM57.75 510.47h3.90v1.53h-3.90zM57.75 508.93h3.90v1.53h-3.90zM57.75 507.40h3.90v1.53h-3.90zM57.75 505.87h3.90v1.53h-3.90zM57.75 492.06h3.90v1.53h-3.90zM57.75 490.53h3.90v1.53h-3.90zM57.75 489.00h3.90v1.53h-3.90zM57.75 487.46h3.90v1.53h-3.90zM57.75 485.93h3.90v1.53h-3.90zM57.75 484.40h3.90v1.53h-3.90zM57.75 482.86h3.90v1.53h-3.90z"/>
<path fill="#4a9ad8" d="M57.75 515.07h3.90v1.53h-3.90zM57.75 481.33h3.90v1.53h-3.90zM57.75 479.80h3.90v1.53h-3.90zM57.75 478.26h3.90v1.53h-3.90zM57.75 476.73h3.90v1.53h-3.90zM57.75 475.20h3.90v1.53h-3.90z"/>
<path fill="#4a99d6" d="M57.75 504.33h3.90v1.53h-3.90zM128.02 450.66h3.90v1.53h-3.90zM131.92 450.66h3.90v1.53h-3.90zM182.68 458.33h3.90v1.53h-3.90zM206.10 456.79h3.90v1.53h-3.90z"/>
<path fill="#4996d3" d="M57.75 502.80h3.90v1.53h-3.90zM100.69 476.73h3.90v1.53h-3.90zM100.69 475.20h3.90v1.53h-3.90zM100.69 473.66h3.90v1.53h-3.90zM100.69 472.13h3.90v1.53h-3.90zM100.69 470.59h3.90v1.53h-3.90zM100.69 458.33h3.90v1.53h-3.90zM100.69 456.79h3.90v1.53h-3.90zM100.69 455.26h3.90v1.53h-3.90zM120.21 492.06h3.90v1.53h-3.90zM178.77 465.99h3.90v1.53h-3.90zM182.68 453.73h3.90v1.53h-3.90z"/>
<path fill="#3f83ba" d="M57.75 501.26h3.90v1.53h-3.90zM104.60 473.66h3.90v1.53h-3.90z"/>
<path fill="#336a97" d="M57.75 499.73h3.90v1.53h-3.90z"/>
<path fill="#316793" d="M57.75 498.20h3.90v1.53h-3.90z"/>
<path fill="#3c7caf" d="M57.75 496.66h3.90v1.53h-3.90z"/>
<path fill="#4794cf" d="M57.75 495.13h3.90v1.53h-3.90z"/>
<path fill="#4a98d6" d="M57.75 493.60h3.90v1.53h-3.90zM116.31 452.19h3.90v1.53h-3.90zM120.21 489.00h3.90v1.53h-3.90zM124.12 450.66h3.90v1.53h-3.90zM163.16 450.66h3.90v1.53h-3.90zM174.87 452.19h3.90v1.53h-3.90zM178.77 455.26h3.90v1.53h-3.90zM182.68 459.86h3.90v1.53h-3.90zM182.68 456.79h3.90v1.53h-3.90z"/>
<path fill="#4b9ad8" d="M57.75 473.66h3.90v1.53h-3.90zM57.75 472.13h3.90v1.53h-3.90zM57.75 470.59h3.90v1.53h-3.90zM57.75 469.06h3.90v1.53h-3.90zM57.75 467.53h3.90v1.53h-3.90zM57.75 465.99h3.90v1.53h-3.90zM57.75 464.46h3.90v1.53h-3.90zM57.75 462.93h3.90v1.53h-3.90z"/>
<path fill="#4b9ad9" d="M57.75 461.39h3.90v1.53h-3.90zM57.75 459.86h3.90v1.53h-3.90zM57.75 458.33h3.90v1.53h-3.90zM57.75 456.79h3.90v1.53h-3.90zM57.75 455.26h3.90v1.53h-3.90zM57.75 453.73h3.90v1.53h-3.90z"/>
<path fill="#4b9bd9" d="M57.75 452.19h3.90v1.53h-3.90zM57.75 450.66h3.90v1.53h-3.90zM57.75 449.13h3.90v1.53h-3.90zM57.75 447.59h3.90v1.53h-3.90zM57.75 446.06h3.90v1.53h-3.90zM57.75 444.53h3.90v1.53h-3.90zM57.75 442.99h3.90v1.53h-3.90zM116.31 487.46h3.90v1.53h-3.90zM159.25 450.66h3.90v1.53h-3.90zM170.96 452.19h3.90v1.53h-3.90z"/>
<path fill="#51a8eb" d="M61.65 515.07h3.90v1.53h-3.90zM61.65 513.53h3.90v1.53h-3.90zM61.65 512.00h3.90v1.53h-3.90zM61.65 510.47h3.90v1.53h-3.90zM61.65 508.93h3.90v1.53h-3.90zM61.65 507.40h3.90v1.53h-3.90zM61.65 490.53h3.90v1.53h-3.90zM61.65 489.00h3.90v1.53h-3.90zM61.65 487.46h3.90v1.53h-3.90z"/>
<path fill="#52a8eb" d="M61.65 505.87h3.90v1.53h-3.90zM61.65 504.33h3.90v1.53h-3.90zM61.65 502.80h3.90v1.53h-3.90zM61.65 501.26h3.90v1.53h-3.90zM61.65 499.73h3.90v1.53h-3.90zM61.65 498.20h3.90v1.53h-3.90zM61.65 496.66h3.90v1.53h-3.90zM61.65 495.13h3.90v1.53h-3.90zM61.65 493.60h3.90v1.53h-3.90zM61.65 492.06h3.90v1.53h-3.90zM88.98 504.33h3.90v1.53h-3.90zM88.98 502.80h3.90v1.53h-3.90zM88.98 501.26h3.90v1.53h-3.90zM88.98 499.73h3.90v1.53h-3.90zM88.98 498.20h3.90v1.53h-3.90zM88.98 461.39h3.90v1.53h-3.90zM88.98 459.86h3.90v1.53h-3.90zM88.98 458.33h3.90v1.53h-3.90zM88.98 456.79h3.90v1.53h-3.90zM88.98 455.26h3.90v1.53h-3.90z"/>
<path fill="#51a8ea" d="M61.65 485.93h3.90v1.53h-3.90zM61.65 484.40h3.90v1.53h-3.90zM61.65 482.86h3.90v1.53h-3.90zM61.65 481.33h3.90v1.53h-3.90zM61.65 479.80h3.90v1.53h-3.90zM61.65 478.26h3.90v1.53h-3.90z"/>
<path fill="#51a7ea" d="M61.65 476.73h3.90v1.53h-3.90zM61.65 475.20h3.90v1.53h-3.90zM61.65 473.66h3.90v1.53h-3.90zM61.65 472.13h3.90v1.53h-3.90zM61.65 470.59h3.90v1.53h-3.90zM61.65 469.06h3.90v1.53h-3.90zM61.65 467.53h3.90v1.53h-3.90zM61.65 465.99h3.90v1.53h-3.90zM61.65 464.46h3.90v1.53h-3.90zM61.65 462.93h3.90v1.53h-3.90zM61.65 461.39h3.90v1.53h-3.90zM61.65 459.86h3.90v1.53h-3.90zM61.65 458.33h3.90v1.53h-3.90zM61.65 456.79h3.90v1.53h-3.90zM61.65 455.26h3.90v1.53h-3.90zM61.65 453.73h3.90v1.53h-3.90zM61.65 452.19h3.90v1.53h-3.90zM61.65 450.66h3.90v1.53h-3.90zM61.65 449.13h3.90v1.53h-3.90zM61.65 447.59h3.90v1.53h-3.90zM61.65 446.06h3.90v1.53h-3.90zM61.65 444.53h3.90v1.53h-3.90z"/>
<path fill="#51a7e9" d="M61.65 442.99h3.90v1.53h-3.90zM65.56 499.73h3.90v1.53h-3.90zM65.56 498.20h3.90v1.53h-3.90zM65.56 496.66h3.90v1.53h-3.90zM65.56 495.13h3.90v1.53h-3.90zM65.56 493.60h3.90v1.53h-3.90zM65.56 492.06h3.90v1.53h-3.90zM88.98 453.73h3.90v1.53h-3.90zM88.98 452.19h3.90v1.53h-3.90zM88.98 450.66h3.90v1.53h-3.90zM88.98 449.13h3.90v1.53h-3.90zM88.98 447.59h3.90v1.53h-3.90zM88.98 446.06h3.90v1.53h-3.90zM88.98 444.53h3.90v1.53h-3.90zM88.98 442.99h3.90v1.53h-3.90z"/>
<path fill="#51a6e9" d="M65.56 513.53h3.90v1.53h-3.90zM65.56 512.00h3.90v1.53h-3.90zM65.56 510.47h3.90v1.53h-3.90zM65.56 508.93h3.90v1.53h-3.90zM65.56 507.40h3.90v1.53h-3.90zM65.56 505.87h3.90v1.53h-3.90zM65.56 504.33h3.90v1.53h-3.90zM65.56 502.80h3.90v1.53h-3.90zM65.56 501.26h3.90v1.53h-3.90zM65.56 490.53h3.90v1.53h-3.90zM65.56 489.00h3.90v1.53h-3.90z"/>
<path fill="#51a6e8" d="M65.56 487.46h3.90v1.53h-3.90zM65.56 485.93h3.90v1.53h-3.90zM65.56 484.40h3.90v1.53h-3.90zM65.56 482.86h3.90v1.53h-3.90zM65.56 481.33h3.90v1.53h-3.90zM65.56 479.80h3.90v1.53h-3.90zM65.56 478.26h3.90v1.53h-3.90zM65.56 476.73h3.90v1.53h-3.90zM65.56 475.20h3.90v1.53h-3.90zM65.56 473.66h3.90v1.53h-3.90z"/>
<path fill="#50a6e8" d="M65.56 472.13h3.90v1.53h-3.90zM65.56 470.59h3.90v1.53h-3.90zM65.56 469.06h3.90v1.53h-3.90zM65.56 467.53h3.90v1.53h-3.90zM65.56 465.99h3.90v1.53h-3.90zM65.56 464.46h3.90v1.53h-3.90zM65.56 462.93h3.90v1.53h-3.90zM65.56 461.39h3.90v1.53h-3.90zM65.56 459.86h3.90v1.53h-3.90zM65.56 458.33h3.90v1.53h-3.90zM65.56 456.79h3.90v1.53h-3.90zM65.56 455.26h3.90v1.53h-3.90zM65.56 453.73h3.90v1.53h-3.90zM65.56 452.19h3.90v1.53h-3.90z"/>
<path fill="#50a5e8" d="M65.56 450.66h3.90v1.53h-3.90zM65.56 449.13h3.90v1.53h-3.90z"/>
<path fill="#50a5e7" d="M65.56 447.59h3.90v1.53h-3.90zM65.56 446.06h3.90v1.53h-3.90zM65.56 444.53h3.90v1.53h-3.90zM65.56 442.99h3.90v1.53h-3.90zM85.08 496.66h3.90v1.53h-3.90zM85.08 495.13h3.90v1.53h-3.90zM85.08 493.60h3.90v1.53h-3.90zM85.08 492.06h3.90v1.53h-3.90zM85.08 490.53h3.90v1.53h-3.90zM85.08 489.00h3.90v1.53h-3.90zM85.08 487.46h3.90v1.53h-3.90zM85.08 485.93h3.90v1.53h-3.90zM85.08 484.40h3.90v1.53h-3.90zM85.08 482.86h3.90v1.53h-3.90zM85.08 481.33h3.90v1.53h-3.90zM85.08 479.80h3.90v1.53h-3.90zM85.08 478.26h3.90v1.53h-3.90zM85.08 476.73h3.90v1.53h-3.90zM85.08 475.20h3.90v1.53h-3.90zM85.08 473.66h3.90v1.53h-3.90zM85.08 472.13h3.90v1.53h-3.90zM85.08 470.59h3.90v1.53h-3.90zM143.64 452.19h3.90v1.53h-3.90zM147.54 452.19h3.90v1.53h-3.90zM167.06 453.73h3.90v1.53h-3.90z"/>
<path fill="#53abef" d="M69.46 512.00h3.90v1.53h-3.90zM69.46 510.47h3.90v1.53h-3.90zM69.46 508.93h3.90v1.53h-3.90zM69.46 507.40h3.90v1.53h-3.90zM69.46 505.87h3.90v1.53h-3.90zM69.46 504.33h3.90v1.53h-3.90zM69.46 502.80h3.90v1.53h-3.90zM69.46 501.26h3.90v1.53h-3.90zM69.46 499.73h3.90v1.53h-3.90zM69.46 498.20h3.90v1.53h-3.90zM69.46 496.66h3.90v1.53h-3.90zM69.46 492.06h3.90v1.53h-3.90zM69.46 490.53h3.90v1.53h-3.90zM69.46 489.00h3.90v1.53h-3.90zM69.46 487.46h3.90v1.53h-3.90zM69.46 485.93h3.90v1.53h-3.90zM69.46 484.40h3.90v1.53h-3.90zM69.46 482.86h3.90v1.53h-3.90zM69.46 481.33h3.90v1.53h-3.90zM69.46 479.80h3.90v1.53h-3.90zM69.46 478.26h3.90v1.53h-3.90zM69.46 476.73h3.90v1.53h-3.90zM69.46 475.20h3.90v1.53h-3.90zM69.46 473.66h3.90v1.53h-3.90zM69.46 472.13h3.90v1.53h-3.90zM69.46 470.59h3.90v1.53h-3.90zM69.46 469.06h3.90v1.53h-3.90zM69.46 467.53h3.90v1.53h-3.90zM69.46 465.99h3.90v1.53h-3.90zM69.46 464.46h3.90v1.53h-3.90zM69.46 462.93h3.90v1.53h-3.90zM69.46 461.39h3.90v1.53h-3.90zM69.46 459.86h3.90v1.53h-3.90z"/>
<path fill="#53abf0" d="M69.46 495.13h3.90v1.53h-3.90zM69.46 493.60h3.90v1.53h-3.90zM73.36 452.19h3.90v1.53h-3.90zM73.36 450.66h3.90v1.53h-3.90z"/>
<path fill="#53abee" d="M69.46 458.33h3.90v1.53h-3.90zM69.46 456.79h3.90v1.53h-3.90zM69.46 455.26h3.90v1.53h-3.90zM69.46 453.73h3.90v1.53h-3.90zM69.46 452.19h3.90v1.53h-3.90zM69.46 450.66h3.90v1.53h-3.90zM73.36 449.13h3.90v1.53h-3.90z"/>
<path fill="#53aaee" d="M69.46 449.13h3.90v1.53h-3.90zM69.46 447.59h3.90v1.53h-3.90zM69.46 446.06h3.90v1.53h-3.90zM69.46 444.53h3.90v1.53h-3.90zM69.46 442.99h3.90v1.53h-3.90zM73.36 447.59h3.90v1.53h-3.90zM73.36 446.06h3.90v1.53h-3.90zM73.36 444.53h3.90v1.53h-3.90zM73.36 442.99h3.90v1.53h-3.90zM81.17 498.20h3.90v1.53h-3.90zM81.17 496.66h3.90v1.53h-3.90zM81.17 495.13h3.90v1.53h-3.90zM81.17 493.60h3.90v1.53h-3.90zM81.17 492.06h3.90v1.53h-3.90zM81.17 490.53h3.90v1.53h-3.90zM81.17 489.00h3.90v1.53h-3.90zM81.17 487.46h3.90v1.53h-3.90zM81.17 485.93h3.90v1.53h-3.90zM81.17 484.40h3.90v1.53h-3.90zM81.17 482.86h3.90v1.53h-3.90zM81.17 481.33h3.90v1.53h-3.90zM81.17 479.80h3.90v1.53h-3.90zM81.17 478.26h3.90v1.53h-3.90zM221.72 446.06h3.90v1.53h-3.90z"/>
<path fill="#53acf0" d="M73.36 510.47h3.90v1.53h-3.90zM73.36 482.86h3.90v1.53h-3.90zM73.36 481.33h3.90v1.53h-3.90zM73.36 479.80h3.90v1.53h-3.90zM73.36 478.26h3.90v1.53h-3.90zM73.36 476.73h3.90v1.53h-3.90zM73.36 475.20h3.90v1.53h-3.90zM73.36 473.66h3.90v1.53h-3.90zM73.36 472.13h3.90v1.53h-3.90zM73.36 470.59h3.90v1.53h-3.90zM73.36 469.06h3.90v1.53h-3.90zM73.36 467.53h3.90v1.53h-3.90zM73.36 465.99h3.90v1.53h-3.90zM73.36 464.46h3.90v1.53h-3.90zM73.36 462.93h3.90v1.53h-3.90zM73.36 461.39h3.90v1.53h-3.90zM73.36 459.86h3.90v1.53h-3.90zM73.36 458.33h3.90v1.53h-3.90zM73.36 456.79h3.90v1.53h-3.90zM73.36 455.26h3.90v1.53h-3.90zM73.36 453.73h3.90v1.53h-3.90z"/>
<path fill="#54acf0" d="M73.36 508.93h3.90v1.53h-3.90zM73.36 507.40h3.90v1.53h-3.90zM73.36 505.87h3.90v1.53h-3.90zM73.36 504.33h3.90v1.53h-3.90zM73.36 490.53h3.90v1.53h-3.90zM73.36 489.00h3.90v1.53h-3.90zM73.36 487.46h3.90v1.53h-3.90zM73.36 485.93h3.90v1.53h-3.90zM73.36 484.40h3.90v1.53h-3.90z"/>
<path fill="#54acf1" d="M73.36 502.80h3.90v1.53h-3.90zM73.36 501.26h3.90v1.53h-3.90zM73.36 499.73h3.90v1.53h-3.90zM73.36 498.20h3.90v1.53h-3.90zM73.36 496.66h3.90v1.53h-3.90zM73.36 495.13h3.90v1.53h-3.90zM73.36 493.60h3.90v1.53h-3.90zM73.36 492.06h3.90v1.53h-3.90zM128.02 489.00h3.90v1.53h-3.90zM128.02 487.46h3.90v1.53h-3.90zM128.02 485.93h3.90v1.53h-3.90zM128.02 484.40h3.90v1.53h-3.90zM128.02 461.39h3.90v1.53h-3.90zM128.02 459.86h3.90v1.53h-3.90zM128.02 458.33h3.90v1.53h-3.90zM128.02 456.79h3.90v1.53h-3.90zM151.44 452.19h3.90v1.53h-3.90z"/>
<path fill="#4fa3e4" d="M77.27 508.93h3.90v1.53h-3.90zM77.27 507.40h3.90v1.53h-3.90zM77.27 505.87h3.90v1.53h-3.90zM77.27 504.33h3.90v1.53h-3.90zM77.27 502.80h3.90v1.53h-3.90zM77.27 501.26h3.90v1.53h-3.90zM77.27 499.73h3.90v1.53h-3.90zM77.27 487.46h3.90v1.53h-3.90zM77.27 485.93h3.90v1.53h-3.90zM77.27 484.40h3.90v1.53h-3.90zM77.27 482.86h3.90v1.53h-3.90zM77.27 481.33h3.90v1.53h-3.90zM77.27 479.80h3.90v1.53h-3.90zM77.27 478.26h3.90v1.53h-3.90zM77.27 476.73h3.90v1.53h-3.90zM77.27 475.20h3.90v1.53h-3.90zM77.27 473.66h3.90v1.53h-3.90zM77.27 472.13h3.90v1.53h-3.90zM77.27 470.59h3.90v1.53h-3.90zM77.27 469.06h3.90v1.53h-3.90zM77.27 467.53h3.90v1.53h-3.90z"/>
<path fill="#4fa3e5" d="M77.27 498.20h3.90v1.53h-3.90zM77.27 496.66h3.90v1.53h-3.90zM77.27 495.13h3.90v1.53h-3.90zM77.27 493.60h3.90v1.53h-3.90zM77.27 492.06h3.90v1.53h-3.90zM77.27 490.53h3.90v1.53h-3.90zM77.27 489.00h3.90v1.53h-3.90zM124.12 484.40h3.90v1.53h-3.90zM124.12 461.39h3.90v1.53h-3.90zM124.12 459.86h3.90v1.53h-3.90z"/>
<path fill="#4fa2e4" d="M77.27 465.99h3.90v1.53h-3.90z"/>
<path fill="#4fa2e3" d="M77.27 464.46h3.90v1.53h-3.90zM77.27 462.93h3.90v1.53h-3.90zM77.27 461.39h3.90v1.53h-3.90zM77.27 459.86h3.90v1.53h-3.90zM77.27 458.33h3.90v1.53h-3.90zM77.27 456.79h3.90v1.53h-3.90zM77.27 455.26h3.90v1.53h-3.90zM77.27 453.73h3.90v1.53h-3.90zM77.27 452.19h3.90v1.53h-3.90zM77.27 450.66h3.90v1.53h-3.90zM77.27 449.13h3.90v1.53h-3.90zM77.27 447.59h3.90v1.53h-3.90zM77.27 446.06h3.90v1.53h-3.90zM77.27 444.53h3.90v1.53h-3.90zM77.27 442.99h3.90v1.53h-3.90zM124.12 458.33h3.90v1.53h-3.90zM159.25 452.19h3.90v1.53h-3.90z"/>
<path fill="#52aaed" d="M81.17 507.40h3.90v1.53h-3.90zM81.17 505.87h3.90v1.53h-3.90zM81.17 504.33h3.90v1.53h-3.90zM81.17 502.80h3.90v1.53h-3.90zM81.17 501.26h3.90v1.53h-3.90zM81.17 499.73h3.90v1.53h-3.90zM81.17 475.20h3.90v1.53h-3.90zM81.17 473.66h3.90v1.53h-3.90zM81.17 472.13h3.90v1.53h-3.90zM81.17 470.59h3.90v1.53h-3.90zM81.17 469.06h3.90v1.53h-3.90zM81.17 467.53h3.90v1.53h-3.90zM81.17 465.99h3.90v1.53h-3.90zM81.17 464.46h3.90v1.53h-3.90zM81.17 462.93h3.90v1.53h-3.90zM81.17 461.39h3.90v1.53h-3.90zM81.17 459.86h3.90v1.53h-3.90z"/>
<path fill="#52aaee" d="M81.17 476.73h3.90v1.53h-3.90z"/>
<path fill="#52a9ed" d="M81.17 458.33h3.90v1.53h-3.90zM81.17 456.79h3.90v1.53h-3.90zM81.17 455.26h3.90v1.53h-3.90zM81.17 453.73h3.90v1.53h-3.90zM81.17 452.19h3.90v1.53h-3.90zM81.17 450.66h3.90v1.53h-3.90zM81.17 449.13h3.90v1.53h-3.90zM81.17 447.59h3.90v1.53h-3.90zM81.17 446.06h3.90v1.53h-3.90zM81.17 444.53h3.90v1.53h-3.90zM81.17 442.99h3.90v1.53h-3.90zM139.73 452.19h3.90v1.53h-3.90zM170.96 456.79h3.90v1.53h-3.90zM174.87 464.46h3.90v1.53h-3.90z"/>
<path fill="#50a4e6" d="M85.08 505.87h3.90v1.53h-3.90zM85.08 504.33h3.90v1.53h-3.90zM85.08 502.80h3.90v1.53h-3.90zM85.08 464.46h3.90v1.53h-3.90zM85.08 462.93h3.90v1.53h-3.90zM85.08 461.39h3.90v1.53h-3.90zM85.08 459.86h3.90v1.53h-3.90zM85.08 458.33h3.90v1.53h-3.90zM85.08 456.79h3.90v1.53h-3.90zM85.08 455.26h3.90v1.53h-3.90zM85.08 453.73h3.90v1.53h-3.90zM85.08 452.19h3.90v1.53h-3.90zM85.08 450.66h3.90v1.53h-3.90zM85.08 449.13h3.90v1.53h-3.90zM85.08 447.59h3.90v1.53h-3.90zM85.08 446.06h3.90v1.53h-3.90zM85.08 444.53h3.90v1.53h-3.90zM85.08 442.99h3.90v1.53h-3.90z"/>
<path fill="#50a5e6" d="M85.08 501.26h3.90v1.53h-3.90zM85.08 499.73h3.90v1.53h-3.90zM85.08 498.20h3.90v1.53h-3.90zM85.08 469.06h3.90v1.53h-3.90zM85.08 467.53h3.90v1.53h-3.90zM85.08 465.99h3.90v1.53h-3.90z"/>
<path fill="#52a8ec" d="M88.98 496.66h3.90v1.53h-3.90zM88.98 495.13h3.90v1.53h-3.90zM88.98 493.60h3.90v1.53h-3.90z"/>
<path fill="#52a9ec" d="M88.98 492.06h3.90v1.53h-3.90zM88.98 490.53h3.90v1.53h-3.90zM88.98 489.00h3.90v1.53h-3.90zM88.98 487.46h3.90v1.53h-3.90zM88.98 485.93h3.90v1.53h-3.90zM88.98 484.40h3.90v1.53h-3.90zM88.98 482.86h3.90v1.53h-3.90zM88.98 481.33h3.90v1.53h-3.90zM88.98 479.80h3.90v1.53h-3.90zM88.98 478.26h3.90v1.53h-3.90zM88.98 476.73h3.90v1.53h-3.90zM88.98 475.20h3.90v1.53h-3.90zM88.98 473.66h3.90v1.53h-3.90zM88.98 472.13h3.90v1.53h-3.90zM88.98 470.59h3.90v1.53h-3.90zM88.98 469.06h3.90v1.53h-3.90zM88.98 467.53h3.90v1.53h-3.90zM88.98 465.99h3.90v1.53h-3.90zM88.98 464.46h3.90v1.53h-3.90zM88.98 462.93h3.90v1.53h-3.90zM128.02 455.26h3.90v1.53h-3.90zM131.92 453.73h3.90v1.53h-3.90zM155.35 452.19h3.90v1.53h-3.90zM174.87 458.33h3.90v1.53h-3.90zM217.81 452.19h3.90v1.53h-3.90zM221.72 444.53h3.90v1.53h-3.90zM221.72 442.99h3.90v1.53h-3.90z"/>
<path fill="#4ea0e0" d="M92.88 502.80h3.90v1.53h-3.90zM92.88 501.26h3.90v1.53h-3.90zM92.88 450.66h3.90v1.53h-3.90zM92.88 449.13h3.90v1.53h-3.90zM92.88 447.59h3.90v1.53h-3.90zM92.88 446.06h3.90v1.53h-3.90zM131.92 452.19h3.90v1.53h-3.90zM174.87 465.99h3.90v1.53h-3.90zM178.77 461.39h3.90v1.53h-3.90z"/>
<path fill="#4ea0e1" d="M92.88 499.73h3.90v1.53h-3.90zM92.88 498.20h3.90v1.53h-3.90zM92.88 496.66h3.90v1.53h-3.90zM92.88 495.13h3.90v1.53h-3.90zM92.88 493.60h3.90v1.53h-3.90zM92.88 455.26h3.90v1.53h-3.90zM92.88 453.73h3.90v1.53h-3.90zM92.88 452.19h3.90v1.53h-3.90z"/>
<path fill="#4ea1e1" d="M92.88 492.06h3.90v1.53h-3.90zM92.88 490.53h3.90v1.53h-3.90zM92.88 489.00h3.90v1.53h-3.90zM92.88 487.46h3.90v1.53h-3.90zM92.88 485.93h3.90v1.53h-3.90zM92.88 484.40h3.90v1.53h-3.90zM92.88 482.86h3.90v1.53h-3.90zM92.88 481.33h3.90v1.53h-3.90zM92.88 479.80h3.90v1.53h-3.90zM92.88 458.33h3.90v1.53h-3.90zM92.88 456.79h3.90v1.53h-3.90zM174.87 456.79h3.90v1.53h-3.90z"/>
<path fill="#4ea1e2" d="M92.88 478.26h3.90v1.53h-3.90zM92.88 476.73h3.90v1.53h-3.90zM92.88 475.20h3.90v1.53h-3.90zM92.88 473.66h3.90v1.53h-3.90zM92.88 472.13h3.90v1.53h-3.90zM92.88 470.59h3.90v1.53h-3.90zM92.88 469.06h3.90v1.53h-3.90zM92.88 467.53h3.90v1.53h-3.90zM92.88 465.99h3.90v1.53h-3.90zM92.88 464.46h3.90v1.53h-3.90zM92.88 462.93h3.90v1.53h-3.90zM92.88 461.39h3.90v1.53h-3.90zM92.88 459.86h3.90v1.53h-3.90zM124.12 490.53h3.90v1.53h-3.90zM124.12 453.73h3.90v1.53h-3.90zM174.87 469.06h3.90v1.53h-3.90z"/>
<path fill="#4da0e0" d="M92.88 444.53h3.90v1.53h-3.90zM92.88 442.99h3.90v1.53h-3.90zM120.21 472.13h3.90v1.53h-3.90zM120.21 470.59h3.90v1.53h-3.90zM120.21 469.06h3.90v1.53h-3.90zM120.21 467.53h3.90v1.53h-3.90zM120.21 465.99h3.90v1.53h-3.90zM178.77 458.33h3.90v1.53h-3.90zM206.10 458.33h3.90v1.53h-3.90z"/>
<path fill="#4c9ddc" d="M96.79 501.26h3.90v1.53h-3.90zM96.79 499.73h3.90v1.53h-3.90zM96.79 449.13h3.90v1.53h-3.90zM96.79 447.59h3.90v1.53h-3.90zM96.79 446.06h3.90v1.53h-3.90zM116.31 469.06h3.90v1.53h-3.90zM116.31 467.53h3.90v1.53h-3.90zM116.31 465.99h3.90v1.53h-3.90zM116.31 464.46h3.90v1.53h-3.90zM116.31 462.93h3.90v1.53h-3.90zM120.21 487.46h3.90v1.53h-3.90zM120.21 453.73h3.90v1.53h-3.90zM178.77 469.06h3.90v1.53h-3.90zM217.81 446.06h3.90v1.53h-3.90zM217.81 444.53h3.90v1.53h-3.90zM217.81 442.99h3.90v1.53h-3.90z"/>
<path fill="#4c9ddd" d="M96.79 498.20h3.90v1.53h-3.90zM96.79 496.66h3.90v1.53h-3.90zM96.79 495.13h3.90v1.53h-3.90zM96.79 493.60h3.90v1.53h-3.90zM96.79 450.66h3.90v1.53h-3.90zM124.12 452.19h3.90v1.53h-3.90zM174.87 455.26h3.90v1.53h-3.90z"/>
<path fill="#4c9edd" d="M96.79 492.06h3.90v1.53h-3.90zM96.79 490.53h3.90v1.53h-3.90zM96.79 489.00h3.90v1.53h-3.90zM96.79 487.46h3.90v1.53h-3.90zM96.79 485.93h3.90v1.53h-3.90zM96.79 452.19h3.90v1.53h-3.90zM167.06 452.19h3.90v1.53h-3.90z"/>
<path fill="#4d9edd" d="M96.79 484.40h3.90v1.53h-3.90zM96.79 482.86h3.90v1.53h-3.90zM96.79 453.73h3.90v1.53h-3.90zM120.21 455.26h3.90v1.53h-3.90z"/>
<path fill="#4d9ede" d="M96.79 481.33h3.90v1.53h-3.90zM96.79 479.80h3.90v1.53h-3.90zM96.79 478.26h3.90v1.53h-3.90zM96.79 476.73h3.90v1.53h-3.90zM96.79 475.20h3.90v1.53h-3.90zM96.79 473.66h3.90v1.53h-3.90zM96.79 472.13h3.90v1.53h-3.90zM96.79 470.59h3.90v1.53h-3.90zM96.79 469.06h3.90v1.53h-3.90zM96.79 458.33h3.90v1.53h-3.90zM96.79 456.79h3.90v1.53h-3.90zM96.79 455.26h3.90v1.53h-3.90zM210.00 455.26h3.90v1.53h-3.90z"/>
<path fill="#4d9fde" d="M96.79 467.53h3.90v1.53h-3.90zM96.79 465.99h3.90v1.53h-3.90zM96.79 464.46h3.90v1.53h-3.90zM96.79 461.39h3.90v1.53h-3.90zM96.79 459.86h3.90v1.53h-3.90z"/>
<path fill="#4d9fdf" d="M96.79 462.93h3.90v1.53h-3.90zM120.21 485.93h3.90v1.53h-3.90zM120.21 484.40h3.90v1.53h-3.90zM120.21 482.86h3.90v1.53h-3.90zM120.21 481.33h3.90v1.53h-3.90zM120.21 479.80h3.90v1.53h-3.90zM120.21 478.26h3.90v1.53h-3.90zM120.21 476.73h3.90v1.53h-3.90zM120.21 475.20h3.90v1.53h-3.90zM120.21 464.46h3.90v1.53h-3.90zM120.21 462.93h3.90v1.53h-3.90zM120.21 461.39h3.90v1.53h-3.90zM120.21 459.86h3.90v1.53h-3.90zM120.21 458.33h3.90v1.53h-3.90zM120.21 456.79h3.90v1.53h-3.90zM128.02 452.19h3.90v1.53h-3.90zM170.96 453.73h3.90v1.53h-3.90zM174.87 467.53h3.90v1.53h-3.90zM217.81 450.66h3.90v1.53h-3.90z"/>
<path fill="#4c9cdb" d="M96.79 444.53h3.90v1.53h-3.90zM116.31 481.33h3.90v1.53h-3.90zM116.31 479.80h3.90v1.53h-3.90zM116.31 478.26h3.90v1.53h-3.90zM116.31 476.73h3.90v1.53h-3.90zM116.31 475.20h3.90v1.53h-3.90zM116.31 473.66h3.90v1.53h-3.90zM116.31 472.13h3.90v1.53h-3.90zM116.31 470.59h3.90v1.53h-3.90zM116.31 461.39h3.90v1.53h-3.90zM116.31 459.86h3.90v1.53h-3.90zM116.31 458.33h3.90v1.53h-3.90zM139.73 450.66h3.90v1.53h-3.90zM213.91 453.73h3.90v1.53h-3.90zM217.81 449.13h3.90v1.53h-3.90z"/>
<path fill="#4b9cda" d="M96.79 442.99h3.90v1.53h-3.90zM116.31 484.40h3.90v1.53h-3.90zM116.31 455.26h3.90v1.53h-3.90zM178.77 456.79h3.90v1.53h-3.90zM217.81 447.59h3.90v1.53h-3.90z"/>
<path fill="#448cc5" d="M100.69 499.73h3.90v1.53h-3.90zM120.21 446.06h3.90v1.53h-3.90zM159.25 447.59h3.90v1.53h-3.90zM210.00 447.59h3.90v1.53h-3.90z"/>
<path fill="#448dc6" d="M100.69 498.20h3.90v1.53h-3.90zM124.12 446.06h3.90v1.53h-3.90zM128.02 446.06h3.90v1.53h-3.90z"/>
<path fill="#458fc9" d="M100.69 496.66h3.90v1.53h-3.90zM120.21 447.59h3.90v1.53h-3.90zM135.83 447.59h3.90v1.53h-3.90zM143.64 447.59h3.90v1.53h-3.90zM206.10 452.19h3.90v1.53h-3.90zM213.91 449.13h3.90v1.53h-3.90z"/>
<path fill="#4690cb" d="M100.69 495.13h3.90v1.53h-3.90zM100.69 449.13h3.90v1.53h-3.90zM112.40 485.93h3.90v1.53h-3.90zM112.40 452.19h3.90v1.53h-3.90zM190.48 456.79h3.90v1.53h-3.90zM198.29 449.13h3.90v1.53h-3.90zM206.10 444.53h3.90v1.53h-3.90zM210.00 446.06h3.90v1.53h-3.90z"/>
<path fill="#4691cc" d="M100.69 493.60h3.90v1.53h-3.90zM112.40 482.86h3.90v1.53h-3.90zM112.40 453.73h3.90v1.53h-3.90zM163.16 449.13h3.90v1.53h-3.90zM174.87 450.66h3.90v1.53h-3.90zM186.58 452.19h3.90v1.53h-3.90zM194.39 455.26h3.90v1.53h-3.90zM206.10 442.99h3.90v1.53h-3.90zM213.91 447.59h3.90v1.53h-3.90z"/>
<path fill="#4692cd" d="M100.69 492.06h3.90v1.53h-3.90zM100.69 490.53h3.90v1.53h-3.90zM112.40 481.33h3.90v1.53h-3.90z"/>
<path fill="#4792ce" d="M100.69 489.00h3.90v1.53h-3.90zM112.40 478.26h3.90v1.53h-3.90zM112.40 455.26h3.90v1.53h-3.90zM159.25 449.13h3.90v1.53h-3.90zM202.20 453.73h3.90v1.53h-3.90zM210.00 444.53h3.90v1.53h-3.90z"/>
<path fill="#4793ce" d="M100.69 487.46h3.90v1.53h-3.90zM100.69 450.66h3.90v1.53h-3.90zM112.40 476.73h3.90v1.53h-3.90zM112.40 475.20h3.90v1.53h-3.90z"/>
<path fill="#4894d0" d="M100.69 485.93h3.90v1.53h-3.90zM112.40 462.93h3.90v1.53h-3.90zM124.12 449.13h3.90v1.53h-3.90zM147.54 449.13h3.90v1.53h-3.90zM155.35 449.13h3.90v1.53h-3.90zM182.68 467.53h3.90v1.53h-3.90zM186.58 458.33h3.90v1.53h-3.90zM206.10 453.73h3.90v1.53h-3.90z"/>
<path fill="#4894d1" d="M100.69 484.40h3.90v1.53h-3.90zM182.68 461.39h3.90v1.53h-3.90zM202.20 452.19h3.90v1.53h-3.90z"/>
<path fill="#4895d1" d="M100.69 482.86h3.90v1.53h-3.90zM100.69 452.19h3.90v1.53h-3.90zM128.02 449.13h3.90v1.53h-3.90zM131.92 449.13h3.90v1.53h-3.90zM143.64 449.13h3.90v1.53h-3.90zM151.44 449.13h3.90v1.53h-3.90zM178.77 452.19h3.90v1.53h-3.90zM198.29 450.66h3.90v1.53h-3.90z"/>
<path fill="#4895d2" d="M100.69 481.33h3.90v1.53h-3.90zM100.69 479.80h3.90v1.53h-3.90zM135.83 449.13h3.90v1.53h-3.90zM170.96 450.66h3.90v1.53h-3.90zM186.58 453.73h3.90v1.53h-3.90zM190.48 455.26h3.90v1.53h-3.90zM198.29 453.73h3.90v1.53h-3.90zM213.91 452.19h3.90v1.53h-3.90z"/>
<path fill="#4896d2" d="M100.69 478.26h3.90v1.53h-3.90zM100.69 453.73h3.90v1.53h-3.90zM190.48 453.73h3.90v1.53h-3.90zM213.91 446.06h3.90v1.53h-3.90z"/>
<path fill="#4997d4" d="M100.69 469.06h3.90v1.53h-3.90zM100.69 467.53h3.90v1.53h-3.90zM100.69 465.99h3.90v1.53h-3.90zM100.69 464.46h3.90v1.53h-3.90zM100.69 462.93h3.90v1.53h-3.90zM100.69 461.39h3.90v1.53h-3.90zM100.69 459.86h3.90v1.53h-3.90zM116.31 489.00h3.90v1.53h-3.90zM120.21 490.53h3.90v1.53h-3.90zM139.73 449.13h3.90v1.53h-3.90zM194.39 453.73h3.90v1.53h-3.90zM194.39 452.19h3.90v1.53h-3.90zM210.00 453.73h3.90v1.53h-3.90z"/>
<path fill="#458ec9" d="M100.69 447.59h3.90v1.53h-3.90zM116.31 447.59h3.90v1.53h-3.90zM190.48 450.66h3.90v1.53h-3.90z"/>
<path fill="#448cc6" d="M100.69 446.06h3.90v1.53h-3.90zM131.92 446.06h3.90v1.53h-3.90zM194.39 449.13h3.90v1.53h-3.90zM210.00 452.19h3.90v1.53h-3.90z"/>
<path fill="#438bc3" d="M100.69 444.53h3.90v1.53h-3.90z"/>
<path fill="#4289c2" d="M100.69 442.99h3.90v1.53h-3.90zM135.83 444.53h3.90v1.53h-3.90zM198.29 442.99h3.90v1.53h-3.90z"/>
<path fill="#29567d" d="M104.60 498.20h3.90v1.53h-3.90z"/>
<path fill="#2b5a83" d="M104.60 496.66h3.90v1.53h-3.90z"/>
<path fill="#316692" d="M104.60 495.13h3.90v1.53h-3.90z"/>
<path fill="#356e9e" d="M104.60 493.60h3.90v1.53h-3.90z"/>
<path fill="#3772a3" d="M104.60 492.06h3.90v1.53h-3.90zM108.50 450.66h3.90v1.53h-3.90z"/>
<path fill="#3874a5" d="M104.60 490.53h3.90v1.53h-3.90zM190.48 447.59h3.90v1.53h-3.90z"/>
<path fill="#3976a8" d="M104.60 489.00h3.90v1.53h-3.90zM182.68 449.13h3.90v1.53h-3.90z"/>
<path fill="#3977aa" d="M104.60 487.46h3.90v1.53h-3.90z"/>
<path fill="#3a79ac" d="M104.60 485.93h3.90v1.53h-3.90zM108.50 482.86h3.90v1.53h-3.90zM108.50 452.19h3.90v1.53h-3.90z"/>
<path fill="#3b7bae" d="M104.60 484.40h3.90v1.53h-3.90z"/>
<path fill="#3c7db1" d="M104.60 482.86h3.90v1.53h-3.90zM104.60 452.19h3.90v1.53h-3.90zM108.50 478.26h3.90v1.53h-3.90zM167.06 444.53h3.90v1.53h-3.90z"/>
<path fill="#3d7eb3" d="M104.60 481.33h3.90v1.53h-3.90zM108.50 475.20h3.90v1.53h-3.90zM108.50 455.26h3.90v1.53h-3.90z"/>
<path fill="#3e80b6" d="M104.60 479.80h3.90v1.53h-3.90zM108.50 459.86h3.90v1.53h-3.90z"/>
<path fill="#3e82b7" d="M104.60 478.26h3.90v1.53h-3.90z"/>
<path fill="#3f82b8" d="M104.60 476.73h3.90v1.53h-3.90zM112.40 490.53h3.90v1.53h-3.90zM163.16 442.99h3.90v1.53h-3.90zM190.48 449.13h3.90v1.53h-3.90z"/>
<path fill="#3f83b9" d="M104.60 475.20h3.90v1.53h-3.90zM159.25 442.99h3.90v1.53h-3.90zM163.16 444.53h3.90v1.53h-3.90zM194.39 447.59h3.90v1.53h-3.90z"/>
<path fill="#4084ba" d="M104.60 472.13h3.90v1.53h-3.90zM104.60 470.59h3.90v1.53h-3.90z"/>
<path fill="#4084bb" d="M104.60 469.06h3.90v1.53h-3.90zM104.60 467.53h3.90v1.53h-3.90zM104.60 458.33h3.90v1.53h-3.90zM174.87 449.13h3.90v1.53h-3.90z"/>
<path fill="#4085bc" d="M104.60 465.99h3.90v1.53h-3.90zM104.60 464.46h3.90v1.53h-3.90zM104.60 462.93h3.90v1.53h-3.90zM104.60 461.39h3.90v1.53h-3.90zM159.25 444.53h3.90v1.53h-3.90z"/>
<path fill="#4085bb" d="M104.60 459.86h3.90v1.53h-3.90z"/>
<path fill="#3f84ba" d="M104.60 456.79h3.90v1.53h-3.90z"/>
<path fill="#3f82b9" d="M104.60 455.26h3.90v1.53h-3.90z"/>
<path fill="#3e81b7" d="M104.60 453.73h3.90v1.53h-3.90zM108.50 464.46h3.90v1.53h-3.90zM108.50 462.93h3.90v1.53h-3.90zM198.29 461.39h3.90v1.53h-3.90z"/>
<path fill="#3977a9" d="M104.60 450.66h3.90v1.53h-3.90zM170.96 446.06h3.90v1.53h-3.90zM190.48 464.46h3.90v1.53h-3.90z"/>
<path fill="#36709f" d="M104.60 449.13h3.90v1.53h-3.90z"/>
<path fill="#326896" d="M104.60 447.59h3.90v1.53h-3.90z"/>
<path fill="#2e608a" d="M104.60 446.06h3.90v1.53h-3.90z"/>
<path fill="#2a587f" d="M104.60 444.53h3.90v1.53h-3.90z"/>
<path fill="#28557b" d="M104.60 442.99h3.90v1.53h-3.90z"/>
<path fill="#193753" d="M108.50 496.66h3.90v1.53h-3.90z"/>
<path fill="#1c3d5c" d="M108.50 495.13h3.90v1.53h-3.90z"/>
<path fill="#234a6c" d="M108.50 493.60h3.90v1.53h-3.90z"/>
<path fill="#326895" d="M108.50 492.06h3.90v1.53h-3.90z"/>
<path fill="#356f9e" d="M108.50 490.53h3.90v1.53h-3.90z"/>
<path fill="#3671a1" d="M108.50 489.00h3.90v1.53h-3.90zM198.29 459.86h3.90v1.53h-3.90z"/>
<path fill="#3773a4" d="M108.50 487.46h3.90v1.53h-3.90zM112.40 442.99h3.90v1.53h-3.90zM174.87 447.59h3.90v1.53h-3.90z"/>
<path fill="#3976a7" d="M108.50 485.93h3.90v1.53h-3.90z"/>
<path fill="#3a78aa" d="M108.50 484.40h3.90v1.53h-3.90z"/>
<path fill="#3b7aae" d="M108.50 481.33h3.90v1.53h-3.90zM178.77 449.13h3.90v1.53h-3.90z"/>
<path fill="#3c7cb0" d="M108.50 479.80h3.90v1.53h-3.90zM108.50 453.73h3.90v1.53h-3.90zM112.40 447.59h3.90v1.53h-3.90z"/>
<path fill="#3c7eb2" d="M108.50 476.73h3.90v1.53h-3.90z"/>
<path fill="#3d7fb3" d="M108.50 473.66h3.90v1.53h-3.90z"/>
<path fill="#3d7fb4" d="M108.50 472.13h3.90v1.53h-3.90zM108.50 470.59h3.90v1.53h-3.90zM108.50 458.33h3.90v1.53h-3.90zM108.50 456.79h3.90v1.53h-3.90z"/>
<path fill="#3e80b5" d="M108.50 469.06h3.90v1.53h-3.90zM108.50 467.53h3.90v1.53h-3.90zM167.06 446.06h3.90v1.53h-3.90z"/>
<path fill="#3e81b6" d="M108.50 465.99h3.90v1.53h-3.90zM108.50 461.39h3.90v1.53h-3.90z"/>
<path fill="#336b99" d="M108.50 449.13h3.90v1.53h-3.90zM186.58 447.59h3.90v1.53h-3.90z"/>
<path fill="#2d5f89" d="M108.50 447.59h3.90v1.53h-3.90z"/>
<path fill="#265176" d="M108.50 446.06h3.90v1.53h-3.90z"/>
<path fill="#214668" d="M108.50 444.53h3.90v1.53h-3.90z"/>
<path fill="#1f4263" d="M108.50 442.99h3.90v1.53h-3.90z"/>
<path fill="#132b43" d="M112.40 495.13h3.90v1.53h-3.90z"/>
<path fill="#244c70" d="M112.40 493.60h3.90v1.53h-3.90z"/>
<path fill="#346c9b" d="M112.40 492.06h3.90v1.53h-3.90z"/>
<path fill="#448ec8" d="M112.40 489.00h3.90v1.53h-3.90zM202.20 444.53h3.90v1.53h-3.90z"/>
<path fill="#4590ca" d="M112.40 487.46h3.90v1.53h-3.90zM167.06 449.13h3.90v1.53h-3.90zM206.10 446.06h3.90v1.53h-3.90z"/>
<path fill="#4691cb" d="M112.40 484.40h3.90v1.53h-3.90z"/>
<path fill="#4792cd" d="M112.40 479.80h3.90v1.53h-3.90zM120.21 449.13h3.90v1.53h-3.90zM194.39 450.66h3.90v1.53h-3.90zM202.20 459.86h3.90v1.53h-3.90z"/>
<path fill="#4793cf" d="M112.40 473.66h3.90v1.53h-3.90zM112.40 472.13h3.90v1.53h-3.90zM112.40 470.59h3.90v1.53h-3.90zM112.40 469.06h3.90v1.53h-3.90zM112.40 467.53h3.90v1.53h-3.90zM112.40 459.86h3.90v1.53h-3.90zM112.40 458.33h3.90v1.53h-3.90zM112.40 456.79h3.90v1.53h-3.90zM190.48 452.19h3.90v1.53h-3.90zM210.00 442.99h3.90v1.53h-3.90z"/>
<path fill="#4794d0" d="M112.40 465.99h3.90v1.53h-3.90zM112.40 464.46h3.90v1.53h-3.90zM112.40 461.39h3.90v1.53h-3.90z"/>
<path fill="#448dc7" d="M112.40 450.66h3.90v1.53h-3.90zM139.73 446.06h3.90v1.53h-3.90zM155.35 447.59h3.90v1.53h-3.90zM178.77 450.66h3.90v1.53h-3.90zM186.58 459.86h3.90v1.53h-3.90zM198.29 455.26h3.90v1.53h-3.90zM206.10 447.59h3.90v1.53h-3.90z"/>
<path fill="#4186be" d="M112.40 449.13h3.90v1.53h-3.90zM151.44 442.99h3.90v1.53h-3.90zM155.35 444.53h3.90v1.53h-3.90z"/>
<path fill="#3a78ab" d="M112.40 446.06h3.90v1.53h-3.90zM116.31 493.60h3.90v1.53h-3.90zM170.96 442.99h3.90v1.53h-3.90z"/>
<path fill="#3875a6" d="M112.40 444.53h3.90v1.53h-3.90z"/>
<path fill="#3b7aad" d="M116.31 492.06h3.90v1.53h-3.90zM198.29 456.79h3.90v1.53h-3.90z"/>
<path fill="#438bc4" d="M116.31 490.53h3.90v1.53h-3.90zM124.12 444.53h3.90v1.53h-3.90zM128.02 444.53h3.90v1.53h-3.90zM163.16 447.59h3.90v1.53h-3.90zM182.68 465.99h3.90v1.53h-3.90zM186.58 450.66h3.90v1.53h-3.90zM206.10 450.66h3.90v1.53h-3.90z"/>
<path fill="#4b9bda" d="M116.31 485.93h3.90v1.53h-3.90zM116.31 453.73h3.90v1.53h-3.90zM120.21 452.19h3.90v1.53h-3.90zM135.83 450.66h3.90v1.53h-3.90zM143.64 450.66h3.90v1.53h-3.90zM147.54 450.66h3.90v1.53h-3.90zM151.44 450.66h3.90v1.53h-3.90zM155.35 450.66h3.90v1.53h-3.90zM174.87 453.73h3.90v1.53h-3.90zM178.77 462.93h3.90v1.53h-3.90z"/>
<path fill="#4b9cdb" d="M116.31 482.86h3.90v1.53h-3.90zM116.31 456.79h3.90v1.53h-3.90z"/>
<path fill="#4997d5" d="M116.31 450.66h3.90v1.53h-3.90zM186.58 456.79h3.90v1.53h-3.90zM186.58 455.26h3.90v1.53h-3.90zM213.91 444.53h3.90v1.53h-3.90z"/>
<path fill="#4691cd" d="M116.31 449.13h3.90v1.53h-3.90zM182.68 452.19h3.90v1.53h-3.90zM202.20 450.66h3.90v1.53h-3.90z"/>
<path fill="#438bc5" d="M116.31 446.06h3.90v1.53h-3.90zM170.96 449.13h3.90v1.53h-3.90z"/>
<path fill="#438ac2" d="M116.31 444.53h3.90v1.53h-3.90z"/>
<path fill="#4289c1" d="M116.31 442.99h3.90v1.53h-3.90zM120.21 442.99h3.90v1.53h-3.90zM131.92 442.99h3.90v1.53h-3.90zM139.73 442.99h3.90v1.53h-3.90zM202.20 458.33h3.90v1.53h-3.90z"/>
<path fill="#4d9fe0" d="M120.21 473.66h3.90v1.53h-3.90z"/>
<path fill="#4a98d5" d="M120.21 450.66h3.90v1.53h-3.90zM167.06 450.66h3.90v1.53h-3.90zM178.77 464.46h3.90v1.53h-3.90zM178.77 453.73h3.90v1.53h-3.90z"/>
<path fill="#438ac3" d="M120.21 444.53h3.90v1.53h-3.90zM124.12 442.99h3.90v1.53h-3.90zM128.02 442.99h3.90v1.53h-3.90zM131.92 444.53h3.90v1.53h-3.90zM139.73 444.53h3.90v1.53h-3.90zM143.64 446.06h3.90v1.53h-3.90z"/>
<path fill="#4ea2e2" d="M124.12 489.00h3.90v1.53h-3.90zM135.83 452.19h3.90v1.53h-3.90zM163.16 452.19h3.90v1.53h-3.90zM170.96 455.26h3.90v1.53h-3.90zM178.77 459.86h3.90v1.53h-3.90z"/>
<path fill="#4ea2e3" d="M124.12 487.46h3.90v1.53h-3.90zM124.12 485.93h3.90v1.53h-3.90zM124.12 456.79h3.90v1.53h-3.90zM124.12 455.26h3.90v1.53h-3.90zM128.02 453.73h3.90v1.53h-3.90z"/>
<path fill="#4fa4e5" d="M124.12 482.86h3.90v1.53h-3.90zM124.12 481.33h3.90v1.53h-3.90zM124.12 479.80h3.90v1.53h-3.90zM124.12 478.26h3.90v1.53h-3.90zM124.12 476.73h3.90v1.53h-3.90zM124.12 472.13h3.90v1.53h-3.90zM124.12 470.59h3.90v1.53h-3.90zM124.12 469.06h3.90v1.53h-3.90zM124.12 467.53h3.90v1.53h-3.90zM124.12 465.99h3.90v1.53h-3.90zM124.12 464.46h3.90v1.53h-3.90zM124.12 462.93h3.90v1.53h-3.90z"/>
<path fill="#50a4e5" d="M124.12 475.20h3.90v1.53h-3.90zM124.12 473.66h3.90v1.53h-3.90z"/>
<path fill="#458fca" d="M124.12 447.59h3.90v1.53h-3.90zM128.02 447.59h3.90v1.53h-3.90zM131.92 447.59h3.90v1.53h-3.90zM202.20 449.13h3.90v1.53h-3.90zM213.91 450.66h3.90v1.53h-3.90z"/>
<path fill="#54adf1" d="M128.02 482.86h3.90v1.53h-3.90zM128.02 481.33h3.90v1.53h-3.90zM128.02 479.80h3.90v1.53h-3.90zM128.02 478.26h3.90v1.53h-3.90zM128.02 476.73h3.90v1.53h-3.90zM128.02 475.20h3.90v1.53h-3.90zM128.02 473.66h3.90v1.53h-3.90zM128.02 472.13h3.90v1.53h-3.90zM128.02 470.59h3.90v1.53h-3.90zM128.02 469.06h3.90v1.53h-3.90zM128.02 467.53h3.90v1.53h-3.90zM128.02 465.99h3.90v1.53h-3.90zM128.02 464.46h3.90v1.53h-3.90zM128.02 462.93h3.90v1.53h-3.90zM131.92 455.26h3.90v1.53h-3.90zM135.83 453.73h3.90v1.53h-3.90zM167.06 455.26h3.90v1.53h-3.90zM174.87 470.59h3.90v1.53h-3.90zM221.72 447.59h3.90v1.53h-3.90z"/>
<path fill="#54adf2" d="M131.92 487.46h3.90v1.53h-3.90zM131.92 485.93h3.90v1.53h-3.90zM131.92 484.40h3.90v1.53h-3.90zM131.92 482.86h3.90v1.53h-3.90zM131.92 481.33h3.90v1.53h-3.90zM131.92 479.80h3.90v1.53h-3.90zM131.92 478.26h3.90v1.53h-3.90zM131.92 476.73h3.90v1.53h-3.90zM131.92 475.20h3.90v1.53h-3.90zM131.92 473.66h3.90v1.53h-3.90zM131.92 472.13h3.90v1.53h-3.90zM131.92 470.59h3.90v1.53h-3.90zM131.92 469.06h3.90v1.53h-3.90zM131.92 467.53h3.90v1.53h-3.90zM131.92 465.99h3.90v1.53h-3.90zM131.92 464.46h3.90v1.53h-3.90zM131.92 462.93h3.90v1.53h-3.90zM131.92 461.39h3.90v1.53h-3.90zM131.92 459.86h3.90v1.53h-3.90zM131.92 458.33h3.90v1.53h-3.90zM131.92 456.79h3.90v1.53h-3.90zM135.83 455.26h3.90v1.53h-3.90zM163.16 453.73h3.90v1.53h-3.90zM170.96 470.59h3.90v1.53h-3.90zM170.96 469.06h3.90v1.53h-3.90zM170.96 467.53h3.90v1.53h-3.90zM170.96 458.33h3.90v1.53h-3.90zM174.87 459.86h3.90v1.53h-3.90zM210.00 456.79h3.90v1.53h-3.90zM213.91 455.26h3.90v1.53h-3.90z"/>
<path fill="#54aef3" d="M135.83 485.93h3.90v1.53h-3.90zM135.83 484.40h3.90v1.53h-3.90zM135.83 482.86h3.90v1.53h-3.90zM135.83 481.33h3.90v1.53h-3.90zM135.83 479.80h3.90v1.53h-3.90zM135.83 473.66h3.90v1.53h-3.90zM135.83 472.13h3.90v1.53h-3.90zM135.83 470.59h3.90v1.53h-3.90zM135.83 469.06h3.90v1.53h-3.90zM135.83 467.53h3.90v1.53h-3.90zM135.83 465.99h3.90v1.53h-3.90zM135.83 464.46h3.90v1.53h-3.90zM135.83 462.93h3.90v1.53h-3.90zM135.83 461.39h3.90v1.53h-3.90zM135.83 459.86h3.90v1.53h-3.90zM147.54 453.73h3.90v1.53h-3.90z"/>
<path fill="#55aef3" d="M135.83 478.26h3.90v1.53h-3.90zM135.83 476.73h3.90v1.53h-3.90zM135.83 475.20h3.90v1.53h-3.90zM139.73 455.26h3.90v1.53h-3.90zM139.73 453.73h3.90v1.53h-3.90zM143.64 459.86h3.90v1.53h-3.90zM143.64 458.33h3.90v1.53h-3.90zM143.64 456.79h3.90v1.53h-3.90zM143.64 455.26h3.90v1.53h-3.90zM147.54 456.79h3.90v1.53h-3.90zM147.54 455.26h3.90v1.53h-3.90zM151.44 453.73h3.90v1.53h-3.90zM155.35 453.73h3.90v1.53h-3.90zM159.25 455.26h3.90v1.53h-3.90zM163.16 455.26h3.90v1.53h-3.90zM167.06 458.33h3.90v1.53h-3.90zM170.96 472.13h3.90v1.53h-3.90zM170.96 465.99h3.90v1.53h-3.90zM170.96 459.86h3.90v1.53h-3.90zM174.87 461.39h3.90v1.53h-3.90zM217.81 453.73h3.90v1.53h-3.90zM221.72 450.66h3.90v1.53h-3.90z"/>
<path fill="#54aef2" d="M135.83 458.33h3.90v1.53h-3.90zM135.83 456.79h3.90v1.53h-3.90zM143.64 453.73h3.90v1.53h-3.90zM159.25 453.73h3.90v1.53h-3.90zM167.06 456.79h3.90v1.53h-3.90zM174.87 462.93h3.90v1.53h-3.90zM221.72 449.13h3.90v1.53h-3.90z"/>
<path fill="#438cc5" d="M135.83 446.06h3.90v1.53h-3.90zM198.29 447.59h3.90v1.53h-3.90z"/>
<path fill="#4288c0" d="M135.83 442.99h3.90v1.53h-3.90zM143.64 444.53h3.90v1.53h-3.90zM182.68 464.46h3.90v1.53h-3.90zM198.29 446.06h3.90v1.53h-3.90zM198.29 444.53h3.90v1.53h-3.90z"/>
<path fill="#55aff5" d="M139.73 484.40h3.90v1.53h-3.90zM139.73 482.86h3.90v1.53h-3.90zM139.73 481.33h3.90v1.53h-3.90zM139.73 479.80h3.90v1.53h-3.90zM139.73 478.26h3.90v1.53h-3.90zM139.73 476.73h3.90v1.53h-3.90zM139.73 475.20h3.90v1.53h-3.90zM139.73 473.66h3.90v1.53h-3.90zM139.73 472.13h3.90v1.53h-3.90zM139.73 470.59h3.90v1.53h-3.90zM139.73 469.06h3.90v1.53h-3.90zM139.73 467.53h3.90v1.53h-3.90zM139.73 465.99h3.90v1.53h-3.90zM139.73 464.46h3.90v1.53h-3.90zM139.73 462.93h3.90v1.53h-3.90zM139.73 461.39h3.90v1.53h-3.90zM139.73 459.86h3.90v1.53h-3.90zM159.25 456.79h3.90v1.53h-3.90zM167.06 459.86h3.90v1.53h-3.90zM170.96 461.39h3.90v1.53h-3.90z"/>
<path fill="#55aff4" d="M139.73 458.33h3.90v1.53h-3.90zM139.73 456.79h3.90v1.53h-3.90zM143.64 482.86h3.90v1.53h-3.90zM143.64 481.33h3.90v1.53h-3.90zM143.64 479.80h3.90v1.53h-3.90zM143.64 478.26h3.90v1.53h-3.90zM143.64 476.73h3.90v1.53h-3.90zM143.64 475.20h3.90v1.53h-3.90zM143.64 473.66h3.90v1.53h-3.90zM143.64 472.13h3.90v1.53h-3.90zM143.64 470.59h3.90v1.53h-3.90zM143.64 469.06h3.90v1.53h-3.90zM147.54 481.33h3.90v1.53h-3.90zM147.54 479.80h3.90v1.53h-3.90zM147.54 478.26h3.90v1.53h-3.90zM147.54 476.73h3.90v1.53h-3.90zM147.54 475.20h3.90v1.53h-3.90zM147.54 473.66h3.90v1.53h-3.90zM147.54 472.13h3.90v1.53h-3.90zM147.54 470.59h3.90v1.53h-3.90zM147.54 469.06h3.90v1.53h-3.90zM147.54 467.53h3.90v1.53h-3.90zM147.54 465.99h3.90v1.53h-3.90zM147.54 464.46h3.90v1.53h-3.90zM147.54 462.93h3.90v1.53h-3.90zM147.54 461.39h3.90v1.53h-3.90zM147.54 459.86h3.90v1.53h-3.90zM147.54 458.33h3.90v1.53h-3.90zM155.35 455.26h3.90v1.53h-3.90zM167.06 470.59h3.90v1.53h-3.90zM225.62 446.06h3.90v1.53h-3.90zM225.62 444.53h3.90v1.53h-3.90zM225.62 442.99h3.90v1.53h-3.90z"/>
<path fill="#4690ca" d="M139.73 447.59h3.90v1.53h-3.90z"/>
<path fill="#55aef4" d="M143.64 467.53h3.90v1.53h-3.90zM143.64 465.99h3.90v1.53h-3.90zM143.64 464.46h3.90v1.53h-3.90zM143.64 462.93h3.90v1.53h-3.90zM143.64 461.39h3.90v1.53h-3.90zM163.16 456.79h3.90v1.53h-3.90z"/>
<path fill="#4187bf" d="M143.64 442.99h3.90v1.53h-3.90zM147.54 444.53h3.90v1.53h-3.90zM151.44 444.53h3.90v1.53h-3.90zM159.25 446.06h3.90v1.53h-3.90zM167.06 447.59h3.90v1.53h-3.90zM202.20 456.79h3.90v1.53h-3.90z"/>
<path fill="#458ec8" d="M147.54 447.59h3.90v1.53h-3.90zM151.44 447.59h3.90v1.53h-3.90zM182.68 462.93h3.90v1.53h-3.90zM202.20 455.26h3.90v1.53h-3.90zM202.20 447.59h3.90v1.53h-3.90zM202.20 442.99h3.90v1.53h-3.90z"/>
<path fill="#4288c1" d="M147.54 446.06h3.90v1.53h-3.90zM151.44 446.06h3.90v1.53h-3.90z"/>
<path fill="#4187be" d="M147.54 442.99h3.90v1.53h-3.90zM186.58 465.99h3.90v1.53h-3.90z"/>
<path fill="#56b0f6" d="M151.44 479.80h3.90v1.53h-3.90zM151.44 478.26h3.90v1.53h-3.90zM151.44 476.73h3.90v1.53h-3.90zM151.44 475.20h3.90v1.53h-3.90zM151.44 473.66h3.90v1.53h-3.90zM151.44 472.13h3.90v1.53h-3.90zM151.44 470.59h3.90v1.53h-3.90zM151.44 469.06h3.90v1.53h-3.90zM151.44 467.53h3.90v1.53h-3.90zM151.44 465.99h3.90v1.53h-3.90zM155.35 478.26h3.90v1.53h-3.90zM155.35 476.73h3.90v1.53h-3.90zM155.35 475.20h3.90v1.53h-3.90zM155.35 473.66h3.90v1.53h-3.90zM155.35 472.13h3.90v1.53h-3.90zM155.35 470.59h3.90v1.53h-3.90zM155.35 469.06h3.90v1.53h-3.90zM155.35 467.53h3.90v1.53h-3.90zM155.35 465.99h3.90v1.53h-3.90zM155.35 464.46h3.90v1.53h-3.90zM155.35 462.93h3.90v1.53h-3.90zM159.25 475.20h3.90v1.53h-3.90zM159.25 473.66h3.90v1.53h-3.90zM159.25 472.13h3.90v1.53h-3.90zM159.25 462.93h3.90v1.53h-3.90zM163.16 472.13h3.90v1.53h-3.90zM167.06 465.99h3.90v1.53h-3.90zM225.62 449.13h3.90v1.53h-3.90zM229.52 446.06h3.90v1.53h-3.90z"/>
<path fill="#55b0f6" d="M151.44 464.46h3.90v1.53h-3.90zM151.44 462.93h3.90v1.53h-3.90zM155.35 461.39h3.90v1.53h-3.90zM159.25 461.39h3.90v1.53h-3.90zM229.52 444.53h3.90v1.53h-3.90zM229.52 442.99h3.90v1.53h-3.90z"/>
<path fill="#55b0f5" d="M151.44 461.39h3.90v1.53h-3.90zM151.44 459.86h3.90v1.53h-3.90zM151.44 458.33h3.90v1.53h-3.90zM151.44 456.79h3.90v1.53h-3.90zM151.44 455.26h3.90v1.53h-3.90zM155.35 459.86h3.90v1.53h-3.90zM155.35 458.33h3.90v1.53h-3.90zM155.35 456.79h3.90v1.53h-3.90zM159.25 459.86h3.90v1.53h-3.90zM159.25 458.33h3.90v1.53h-3.90zM163.16 459.86h3.90v1.53h-3.90zM163.16 458.33h3.90v1.53h-3.90zM167.06 473.66h3.90v1.53h-3.90zM167.06 472.13h3.90v1.53h-3.90zM167.06 469.06h3.90v1.53h-3.90zM167.06 467.53h3.90v1.53h-3.90zM167.06 461.39h3.90v1.53h-3.90zM170.96 464.46h3.90v1.53h-3.90zM170.96 462.93h3.90v1.53h-3.90zM221.72 452.19h3.90v1.53h-3.90zM225.62 447.59h3.90v1.53h-3.90z"/>
<path fill="#4188c0" d="M155.35 446.06h3.90v1.53h-3.90z"/>
<path fill="#4186bd" d="M155.35 442.99h3.90v1.53h-3.90zM163.16 446.06h3.90v1.53h-3.90zM194.39 456.79h3.90v1.53h-3.90zM210.00 449.13h3.90v1.53h-3.90z"/>
<path fill="#56b1f6" d="M159.25 476.73h3.90v1.53h-3.90zM159.25 470.59h3.90v1.53h-3.90zM159.25 469.06h3.90v1.53h-3.90zM159.25 464.46h3.90v1.53h-3.90zM163.16 473.66h3.90v1.53h-3.90zM163.16 470.59h3.90v1.53h-3.90zM163.16 461.39h3.90v1.53h-3.90zM167.06 462.93h3.90v1.53h-3.90z"/>
<path fill="#56b1f7" d="M159.25 467.53h3.90v1.53h-3.90zM159.25 465.99h3.90v1.53h-3.90zM163.16 475.20h3.90v1.53h-3.90zM163.16 469.06h3.90v1.53h-3.90zM163.16 467.53h3.90v1.53h-3.90zM163.16 465.99h3.90v1.53h-3.90zM163.16 464.46h3.90v1.53h-3.90zM163.16 462.93h3.90v1.53h-3.90zM167.06 464.46h3.90v1.53h-3.90zM225.62 450.66h3.90v1.53h-3.90zM229.52 449.13h3.90v1.53h-3.90zM229.52 447.59h3.90v1.53h-3.90zM233.43 447.59h3.90v1.53h-3.90zM233.43 446.06h3.90v1.53h-3.90zM233.43 444.53h3.90v1.53h-3.90zM233.43 442.99h3.90v1.53h-3.90zM237.33 446.06h3.90v1.53h-3.90zM237.33 444.53h3.90v1.53h-3.90zM237.33 442.99h3.90v1.53h-3.90zM241.24 444.53h3.90v1.53h-3.90zM241.24 442.99h3.90v1.53h-3.90zM245.14 442.99h3.90v1.53h-3.90z"/>
<path fill="#3d7eb2" d="M167.06 442.99h3.90v1.53h-3.90z"/>
<path fill="#3c7db2" d="M170.96 447.59h3.90v1.53h-3.90z"/>
<path fill="#3875a7" d="M170.96 444.53h3.90v1.53h-3.90zM194.39 462.93h3.90v1.53h-3.90z"/>
<path fill="#346c9a" d="M174.87 446.06h3.90v1.53h-3.90z"/>
<path fill="#326996" d="M174.87 444.53h3.90v1.53h-3.90z"/>
<path fill="#356e9d" d="M174.87 442.99h3.90v1.53h-3.90zM198.29 458.33h3.90v1.53h-3.90z"/>
<path fill="#4998d5" d="M178.77 467.53h3.90v1.53h-3.90zM182.68 455.26h3.90v1.53h-3.90zM198.29 452.19h3.90v1.53h-3.90zM206.10 455.26h3.90v1.53h-3.90zM213.91 442.99h3.90v1.53h-3.90z"/>
<path fill="#336a98" d="M178.77 447.59h3.90v1.53h-3.90z"/>
<path fill="#2b5b84" d="M178.77 446.06h3.90v1.53h-3.90z"/>
<path fill="#2a5981" d="M178.77 444.53h3.90v1.53h-3.90z"/>
<path fill="#306590" d="M178.77 442.99h3.90v1.53h-3.90z"/>
<path fill="#428ac2" d="M182.68 450.66h3.90v1.53h-3.90zM206.10 449.13h3.90v1.53h-3.90z"/>
<path fill="#30648f" d="M182.68 447.59h3.90v1.53h-3.90z"/>
<path fill="#275379" d="M182.68 446.06h3.90v1.53h-3.90z"/>
<path fill="#254f73" d="M182.68 444.53h3.90v1.53h-3.90z"/>
<path fill="#2e618c" d="M182.68 442.99h3.90v1.53h-3.90z"/>
<path fill="#3874a6" d="M186.58 464.46h3.90v1.53h-3.90z"/>
<path fill="#3772a2" d="M186.58 462.93h3.90v1.53h-3.90z"/>
<path fill="#3b7baf" d="M186.58 461.39h3.90v1.53h-3.90zM194.39 446.06h3.90v1.53h-3.90zM194.39 444.53h3.90v1.53h-3.90z"/>
<path fill="#3a7aad" d="M186.58 449.13h3.90v1.53h-3.90z"/>
<path fill="#2d5e87" d="M186.58 446.06h3.90v1.53h-3.90z"/>
<path fill="#2c5d86" d="M186.58 444.53h3.90v1.53h-3.90z"/>
<path fill="#316794" d="M186.58 442.99h3.90v1.53h-3.90z"/>
<path fill="#306591" d="M190.48 462.93h3.90v1.53h-3.90z"/>
<path fill="#2f638e" d="M190.48 461.39h3.90v1.53h-3.90z"/>
<path fill="#3670a0" d="M190.48 459.86h3.90v1.53h-3.90z"/>
<path fill="#4086bd" d="M190.48 458.33h3.90v1.53h-3.90z"/>
<path fill="#346d9c" d="M190.48 446.06h3.90v1.53h-3.90z"/>
<path fill="#346d9b" d="M190.48 444.53h3.90v1.53h-3.90z"/>
<path fill="#3671a2" d="M190.48 442.99h3.90v1.53h-3.90z"/>
<path fill="#2f628d" d="M194.39 461.39h3.90v1.53h-3.90z"/>
<path fill="#2e618b" d="M194.39 459.86h3.90v1.53h-3.90z"/>
<path fill="#356f9f" d="M194.39 458.33h3.90v1.53h-3.90z"/>
<path fill="#3d80b5" d="M194.39 442.99h3.90v1.53h-3.90z"/>
<path fill="#448ec7" d="M202.20 446.06h3.90v1.53h-3.90z"/>
<path fill="#4085bd" d="M210.00 450.66h3.90v1.53h-3.90z"/>
<path fill="#4a9ad6" d="M273.65 442.99 L464.94 442.99 L464.94 444.53 L461.04 444.53 L461.04 446.06 L457.14 446.06 L457.14 447.59 L453.23 447.59 L453.23 449.13 L449.33 449.13 L449.33 450.66 L445.42 450.66 L445.42 452.19 L441.52 452.19 L441.52 453.73 L437.62 453.73 L437.62 455.26 L433.71 455.26 L433.71 456.79 L429.81 456.79 L429.81 458.33 L425.90 458.33 L425.90 459.86 L422.00 459.86 L422.00 461.39 L418.10 461.39 L418.10 462.93 L414.19 462.93 L414.19 464.46 L410.29 464.46 L410.29 465.99 L406.38 465.99 L406.38 467.53 L402.48 467.53 L402.48 469.06 L398.58 469.06 L398.58 470.59 L394.67 470.59 L394.67 472.13 L390.77 472.13 L390.77 473.66 L386.86 473.66 L386.86 475.20 L382.96 475.20 L382.96 476.73 L379.06 476.73 L379.06 478.26 L375.15 478.26 L375.15 479.80 L371.25 479.80 L371.25 481.33 L367.34 481.33 L367.34 482.86 L363.44 482.86 L363.44 484.40 L359.54 484.40 L359.54 485.93 L355.63 485.93 L355.63 487.46 L351.73 487.46 L351.73 489.00 L347.82 489.00 L347.82 490.53 L343.92 490.53 L343.92 492.06 L340.02 492.06 L340.02 493.60 L336.11 493.60 L336.11 495.13 L332.21 495.13 L332.21 496.66 L328.30 496.66 L328.30 498.20 L324.40 498.20 L324.40 499.73 L320.50 499.73 L320.50 501.26 L316.59 501.26 L316.59 502.80 L312.69 502.80 L312.69 504.33 L308.78 504.33 L308.78 505.87 L304.88 505.87 L304.88 507.40 L300.98 507.40 L300.98 508.93 L297.07 508.93 L297.07 510.47 L293.17 510.47 L293.17 512.00 L289.26 512.00 L289.26 513.53 L285.36 513.53 L285.36 515.07 L281.46 515.07 L281.46 516.60 L277.55 516.60 L277.55 518.13 L273.65 518.13Z"/>
<path fill="#53abef" d="M273.65 516.60h3.90v1.53h-3.90zM273.65 515.07h3.90v1.53h-3.90zM273.65 513.53h3.90v1.53h-3.90zM273.65 512.00h3.90v1.53h-3.90zM367.34 479.80h3.90v1.53h-3.90zM367.34 478.26h3.90v1.53h-3.90zM367.34 467.53h3.90v1.53h-3.90zM367.34 465.99h3.90v1.53h-3.90zM367.34 464.46h3.90v1.53h-3.90zM367.34 462.93h3.90v1.53h-3.90zM367.34 461.39h3.90v1.53h-3.90zM367.34 459.86h3.90v1.53h-3.90zM367.34 458.33h3.90v1.53h-3.90zM367.34 456.79h3.90v1.53h-3.90zM367.34 455.26h3.90v1.53h-3.90zM367.34 453.73h3.90v1.53h-3.90zM367.34 452.19h3.90v1.53h-3.90zM367.34 450.66h3.90v1.53h-3.90zM367.34 449.13h3.90v1.53h-3.90zM367.34 447.59h3.90v1.53h-3.90zM367.34 446.06h3.90v1.53h-3.90zM367.34 444.53h3.90v1.53h-3.90zM367.34 442.99h3.90v1.53h-3.90zM371.25 478.26h3.90v1.53h-3.90zM371.25 476.73h3.90v1.53h-3.90zM371.25 475.20h3.90v1.53h-3.90zM371.25 473.66h3.90v1.53h-3.90zM371.25 472.13h3.90v1.53h-3.90zM371.25 470.59h3.90v1.53h-3.90zM371.25 469.06h3.90v1.53h-3.90zM371.25 467.53h3.90v1.53h-3.90zM371.25 465.99h3.90v1.53h-3.90zM371.25 464.46h3.90v1.53h-3.90z"/>
<path fill="#53abee" d="M273.65 510.47h3.90v1.53h-3.90zM367.34 476.73h3.90v1.53h-3.90zM367.34 475.20h3.90v1.53h-3.90zM367.34 473.66h3.90v1.53h-3.90zM367.34 472.13h3.90v1.53h-3.90zM367.34 470.59h3.90v1.53h-3.90zM367.34 469.06h3.90v1.53h-3.90z"/>
<path fill="#53aaee" d="M273.65 508.93h3.90v1.53h-3.90zM273.65 507.40h3.90v1.53h-3.90zM273.65 505.87h3.90v1.53h-3.90zM273.65 504.33h3.90v1.53h-3.90zM273.65 502.80h3.90v1.53h-3.90zM273.65 501.26h3.90v1.53h-3.90zM273.65 499.73h3.90v1.53h-3.90zM273.65 498.20h3.90v1.53h-3.90zM273.65 496.66h3.90v1.53h-3.90zM273.65 495.13h3.90v1.53h-3.90zM273.65 493.60h3.90v1.53h-3.90zM273.65 492.06h3.90v1.53h-3.90zM273.65 490.53h3.90v1.53h-3.90zM273.65 489.00h3.90v1.53h-3.90zM273.65 487.46h3.90v1.53h-3.90zM273.65 485.93h3.90v1.53h-3.90zM363.44 456.79h3.90v1.53h-3.90zM363.44 455.26h3.90v1.53h-3.90zM363.44 453.73h3.90v1.53h-3.90zM363.44 452.19h3.90v1.53h-3.90zM363.44 450.66h3.90v1.53h-3.90zM363.44 449.13h3.90v1.53h-3.90zM363.44 447.59h3.90v1.53h-3.90zM363.44 446.06h3.90v1.53h-3.90z"/>
<path fill="#52aaed" d="M273.65 484.40h3.90v1.53h-3.90zM273.65 482.86h3.90v1.53h-3.90zM273.65 481.33h3.90v1.53h-3.90zM273.65 479.80h3.90v1.53h-3.90zM273.65 478.26h3.90v1.53h-3.90zM273.65 476.73h3.90v1.53h-3.90zM363.44 481.33h3.90v1.53h-3.90zM363.44 479.80h3.90v1.53h-3.90zM363.44 478.26h3.90v1.53h-3.90zM363.44 467.53h3.90v1.53h-3.90zM363.44 465.99h3.90v1.53h-3.90zM363.44 464.46h3.90v1.53h-3.90zM363.44 462.93h3.90v1.53h-3.90zM363.44 461.39h3.90v1.53h-3.90zM363.44 459.86h3.90v1.53h-3.90zM363.44 458.33h3.90v1.53h-3.90zM363.44 442.99h3.90v1.53h-3.90z"/>
<path fill="#52a9ed" d="M273.65 475.20h3.90v1.53h-3.90zM273.65 473.66h3.90v1.53h-3.90zM359.54 455.26h3.90v1.53h-3.90zM359.54 453.73h3.90v1.53h-3.90zM359.54 452.19h3.90v1.53h-3.90zM359.54 450.66h3.90v1.53h-3.90zM359.54 449.13h3.90v1.53h-3.90zM359.54 447.59h3.90v1.53h-3.90zM363.44 476.73h3.90v1.53h-3.90zM363.44 475.20h3.90v1.53h-3.90zM363.44 473.66h3.90v1.53h-3.90zM363.44 472.13h3.90v1.53h-3.90zM363.44 470.59h3.90v1.53h-3.90zM363.44 469.06h3.90v1.53h-3.90z"/>
<path fill="#52a9ec" d="M273.65 472.13h3.90v1.53h-3.90zM273.65 470.59h3.90v1.53h-3.90zM273.65 469.06h3.90v1.53h-3.90zM273.65 467.53h3.90v1.53h-3.90zM273.65 465.99h3.90v1.53h-3.90zM273.65 464.46h3.90v1.53h-3.90zM273.65 462.93h3.90v1.53h-3.90zM273.65 461.39h3.90v1.53h-3.90zM351.73 459.86h3.90v1.53h-3.90zM351.73 458.33h3.90v1.53h-3.90zM351.73 456.79h3.90v1.53h-3.90zM351.73 455.26h3.90v1.53h-3.90zM351.73 453.73h3.90v1.53h-3.90zM351.73 452.19h3.90v1.53h-3.90zM351.73 450.66h3.90v1.53h-3.90zM351.73 449.13h3.90v1.53h-3.90zM351.73 447.59h3.90v1.53h-3.90zM359.54 482.86h3.90v1.53h-3.90zM359.54 464.46h3.90v1.53h-3.90zM359.54 462.93h3.90v1.53h-3.90zM359.54 461.39h3.90v1.53h-3.90zM359.54 459.86h3.90v1.53h-3.90zM359.54 458.33h3.90v1.53h-3.90zM359.54 456.79h3.90v1.53h-3.90zM359.54 446.06h3.90v1.53h-3.90zM359.54 444.53h3.90v1.53h-3.90zM359.54 442.99h3.90v1.53h-3.90z"/>
<path fill="#52a8ec" d="M273.65 459.86h3.90v1.53h-3.90zM273.65 458.33h3.90v1.53h-3.90zM359.54 481.33h3.90v1.53h-3.90z"/>
<path fill="#52a8eb" d="M273.65 456.79h3.90v1.53h-3.90zM273.65 455.26h3.90v1.53h-3.90zM273.65 453.73h3.90v1.53h-3.90zM273.65 452.19h3.90v1.53h-3.90zM273.65 450.66h3.90v1.53h-3.90zM351.73 461.39h3.90v1.53h-3.90zM351.73 446.06h3.90v1.53h-3.90zM355.63 459.86h3.90v1.53h-3.90zM355.63 458.33h3.90v1.53h-3.90zM355.63 456.79h3.90v1.53h-3.90zM355.63 455.26h3.90v1.53h-3.90zM355.63 453.73h3.90v1.53h-3.90zM355.63 452.19h3.90v1.53h-3.90zM355.63 450.66h3.90v1.53h-3.90zM355.63 449.13h3.90v1.53h-3.90zM355.63 447.59h3.90v1.53h-3.90zM355.63 446.06h3.90v1.53h-3.90zM359.54 479.80h3.90v1.53h-3.90zM359.54 467.53h3.90v1.53h-3.90zM359.54 465.99h3.90v1.53h-3.90z"/>
<path fill="#51a8eb" d="M273.65 449.13h3.90v1.53h-3.90zM273.65 447.59h3.90v1.53h-3.90zM351.73 485.93h3.90v1.53h-3.90zM355.63 461.39h3.90v1.53h-3.90zM355.63 444.53h3.90v1.53h-3.90zM359.54 476.73h3.90v1.53h-3.90zM359.54 475.20h3.90v1.53h-3.90zM359.54 473.66h3.90v1.53h-3.90zM359.54 469.06h3.90v1.53h-3.90z"/>
<path fill="#51a8ea" d="M273.65 446.06h3.90v1.53h-3.90zM355.63 484.40h3.90v1.53h-3.90zM355.63 442.99h3.90v1.53h-3.90zM359.54 478.26h3.90v1.53h-3.90zM359.54 472.13h3.90v1.53h-3.90zM359.54 470.59h3.90v1.53h-3.90z"/>
<path fill="#51a7ea" d="M273.65 444.53h3.90v1.53h-3.90zM273.65 442.99h3.90v1.53h-3.90zM347.82 459.86h3.90v1.53h-3.90zM347.82 458.33h3.90v1.53h-3.90zM347.82 456.79h3.90v1.53h-3.90zM347.82 455.26h3.90v1.53h-3.90zM347.82 453.73h3.90v1.53h-3.90zM347.82 452.19h3.90v1.53h-3.90zM347.82 450.66h3.90v1.53h-3.90zM347.82 449.13h3.90v1.53h-3.90zM347.82 447.59h3.90v1.53h-3.90zM351.73 464.46h3.90v1.53h-3.90zM351.73 462.93h3.90v1.53h-3.90zM351.73 444.53h3.90v1.53h-3.90zM351.73 442.99h3.90v1.53h-3.90zM355.63 482.86h3.90v1.53h-3.90zM355.63 476.73h3.90v1.53h-3.90zM355.63 475.20h3.90v1.53h-3.90zM355.63 467.53h3.90v1.53h-3.90zM355.63 465.99h3.90v1.53h-3.90zM355.63 464.46h3.90v1.53h-3.90zM355.63 462.93h3.90v1.53h-3.90z"/>
<path fill="#448cc5" d="M277.55 515.07h3.90v1.53h-3.90zM300.98 487.46h3.90v1.53h-3.90zM304.88 501.26h3.90v1.53h-3.90zM304.88 495.13h3.90v1.53h-3.90z"/>
<path fill="#3f83ba" d="M277.55 513.53h3.90v1.53h-3.90zM324.40 469.06h3.90v1.53h-3.90z"/>
<path fill="#3977a9" d="M277.55 512.00h3.90v1.53h-3.90zM285.36 485.93h3.90v1.53h-3.90zM328.30 490.53h3.90v1.53h-3.90z"/>
<path fill="#346d9b" d="M277.55 510.47h3.90v1.53h-3.90z"/>
<path fill="#316794" d="M277.55 508.93h3.90v1.53h-3.90z"/>
<path fill="#2a5981" d="M277.55 507.40h3.90v1.53h-3.90z"/>
<path fill="#214668" d="M277.55 505.87h3.90v1.53h-3.90z"/>
<path fill="#1c3d5c" d="M277.55 504.33h3.90v1.53h-3.90z"/>
<path fill="#234a6c" d="M277.55 502.80h3.90v1.53h-3.90z"/>
<path fill="#275379" d="M277.55 501.26h3.90v1.53h-3.90z"/>
<path fill="#2d5f89" d="M277.55 499.73h3.90v1.53h-3.90z"/>
<path fill="#132b43" d="M277.55 498.20h3.90v1.53h-3.90z"/>
<path fill="#306591" d="M277.55 496.66h3.90v1.53h-3.90z"/>
<path fill="#2e618c" d="M277.55 495.13h3.90v1.53h-3.90z"/>
<path fill="#2b5a83" d="M277.55 493.60h3.90v1.53h-3.90z"/>
<path fill="#244c70" d="M277.55 492.06h3.90v1.53h-3.90z"/>
<path fill="#193753" d="M277.55 490.53h3.90v1.53h-3.90z"/>
<path fill="#1f4263" d="M277.55 489.00h3.90v1.53h-3.90z"/>
<path fill="#254f73" d="M277.55 487.46h3.90v1.53h-3.90z"/>
<path fill="#2f628d" d="M277.55 485.93h3.90v1.53h-3.90z"/>
<path fill="#326996" d="M277.55 484.40h3.90v1.53h-3.90z"/>
<path fill="#3671a2" d="M277.55 482.86h3.90v1.53h-3.90z"/>
<path fill="#3c7db1" d="M277.55 481.33h3.90v1.53h-3.90zM285.36 484.40h3.90v1.53h-3.90zM289.26 507.40h3.90v1.53h-3.90zM332.21 470.59h3.90v1.53h-3.90z"/>
<path fill="#4187bf" d="M277.55 479.80h3.90v1.53h-3.90zM297.07 504.33h3.90v1.53h-3.90zM300.98 499.73h3.90v1.53h-3.90zM300.98 492.06h3.90v1.53h-3.90zM328.30 475.20h3.90v1.53h-3.90zM332.21 465.99h3.90v1.53h-3.90z"/>
<path fill="#458fc9" d="M277.55 478.26h3.90v1.53h-3.90zM281.46 478.26h3.90v1.53h-3.90zM297.07 482.86h3.90v1.53h-3.90zM320.50 496.66h3.90v1.53h-3.90zM324.40 444.53h3.90v1.53h-3.90zM340.02 473.66h3.90v1.53h-3.90z"/>
<path fill="#4793ce" d="M277.55 476.73h3.90v1.53h-3.90zM297.07 479.80h3.90v1.53h-3.90zM336.11 462.93h3.90v1.53h-3.90zM340.02 475.20h3.90v1.53h-3.90z"/>
<path fill="#4896d2" d="M277.55 475.20h3.90v1.53h-3.90zM281.46 444.53h3.90v1.53h-3.90zM289.26 475.20h3.90v1.53h-3.90zM308.78 472.13h3.90v1.53h-3.90z"/>
<path fill="#4a99d7" d="M277.55 473.66h3.90v1.53h-3.90zM281.46 472.13h3.90v1.53h-3.90zM289.26 472.13h3.90v1.53h-3.90zM293.17 473.66h3.90v1.53h-3.90zM297.07 444.53h3.90v1.53h-3.90zM300.98 475.20h3.90v1.53h-3.90zM304.88 475.20h3.90v1.53h-3.90zM304.88 442.99h3.90v1.53h-3.90zM308.78 467.53h3.90v1.53h-3.90zM312.69 492.06h3.90v1.53h-3.90zM312.69 467.53h3.90v1.53h-3.90zM316.59 476.73h3.90v1.53h-3.90zM336.11 459.86h3.90v1.53h-3.90zM343.92 473.66h3.90v1.53h-3.90z"/>
<path fill="#4b9bd9" d="M277.55 472.13h3.90v1.53h-3.90zM289.26 469.06h3.90v1.53h-3.90zM297.07 472.13h3.90v1.53h-3.90zM300.98 472.13h3.90v1.53h-3.90zM304.88 470.59h3.90v1.53h-3.90zM312.69 490.53h3.90v1.53h-3.90zM320.50 478.26h3.90v1.53h-3.90zM320.50 442.99h3.90v1.53h-3.90zM332.21 485.93h3.90v1.53h-3.90zM336.11 458.33h3.90v1.53h-3.90z"/>
<path fill="#4c9cdb" d="M277.55 470.59h3.90v1.53h-3.90zM281.46 467.53h3.90v1.53h-3.90zM281.46 465.99h3.90v1.53h-3.90zM285.36 446.06h3.90v1.53h-3.90zM289.26 464.46h3.90v1.53h-3.90zM289.26 462.93h3.90v1.53h-3.90zM289.26 447.59h3.90v1.53h-3.90zM293.17 446.06h3.90v1.53h-3.90zM297.07 470.59h3.90v1.53h-3.90zM300.98 470.59h3.90v1.53h-3.90zM312.69 465.99h3.90v1.53h-3.90zM320.50 462.93h3.90v1.53h-3.90zM324.40 458.33h3.90v1.53h-3.90zM336.11 453.73h3.90v1.53h-3.90zM343.92 467.53h3.90v1.53h-3.90z"/>
<path fill="#4d9edd" d="M277.55 469.06h3.90v1.53h-3.90zM304.88 467.53h3.90v1.53h-3.90zM316.59 464.46h3.90v1.53h-3.90zM324.40 449.13h3.90v1.53h-3.90z"/>
<path fill="#4d9fde" d="M277.55 467.53h3.90v1.53h-3.90zM293.17 465.99h3.90v1.53h-3.90zM300.98 467.53h3.90v1.53h-3.90zM308.78 462.93h3.90v1.53h-3.90zM320.50 498.20h3.90v1.53h-3.90z"/>
<path fill="#4d9fdf" d="M277.55 465.99h3.90v1.53h-3.90zM277.55 464.46h3.90v1.53h-3.90zM277.55 462.93h3.90v1.53h-3.90zM277.55 461.39h3.90v1.53h-3.90zM277.55 447.59h3.90v1.53h-3.90zM285.36 467.53h3.90v1.53h-3.90zM285.36 465.99h3.90v1.53h-3.90zM285.36 447.59h3.90v1.53h-3.90zM293.17 464.46h3.90v1.53h-3.90zM293.17 462.93h3.90v1.53h-3.90zM293.17 461.39h3.90v1.53h-3.90zM293.17 447.59h3.90v1.53h-3.90zM297.07 467.53h3.90v1.53h-3.90zM300.98 446.06h3.90v1.53h-3.90zM304.88 465.99h3.90v1.53h-3.90zM308.78 446.06h3.90v1.53h-3.90zM312.69 484.40h3.90v1.53h-3.90zM312.69 479.80h3.90v1.53h-3.90zM320.50 444.53h3.90v1.53h-3.90z"/>
<path fill="#4da0e0" d="M277.55 459.86h3.90v1.53h-3.90zM277.55 458.33h3.90v1.53h-3.90zM277.55 456.79h3.90v1.53h-3.90zM277.55 455.26h3.90v1.53h-3.90zM277.55 453.73h3.90v1.53h-3.90zM277.55 450.66h3.90v1.53h-3.90zM277.55 449.13h3.90v1.53h-3.90zM293.17 459.86h3.90v1.53h-3.90zM297.07 465.99h3.90v1.53h-3.90z"/>
<path fill="#4ea0e0" d="M277.55 452.19h3.90v1.53h-3.90zM285.36 464.46h3.90v1.53h-3.90zM293.17 458.33h3.90v1.53h-3.90zM293.17 456.79h3.90v1.53h-3.90zM293.17 455.26h3.90v1.53h-3.90zM293.17 453.73h3.90v1.53h-3.90zM293.17 452.19h3.90v1.53h-3.90zM293.17 450.66h3.90v1.53h-3.90zM293.17 449.13h3.90v1.53h-3.90z"/>
<path fill="#4b9cdb" d="M277.55 446.06h3.90v1.53h-3.90zM304.88 469.06h3.90v1.53h-3.90z"/>
<path fill="#4997d4" d="M277.55 444.53h3.90v1.53h-3.90zM281.46 473.66h3.90v1.53h-3.90zM293.17 475.20h3.90v1.53h-3.90zM297.07 442.99h3.90v1.53h-3.90zM300.98 476.73h3.90v1.53h-3.90zM304.88 478.26h3.90v1.53h-3.90zM308.78 479.80h3.90v1.53h-3.90zM308.78 478.26h3.90v1.53h-3.90zM308.78 476.73h3.90v1.53h-3.90zM324.40 489.00h3.90v1.53h-3.90zM324.40 461.39h3.90v1.53h-3.90zM328.30 458.33h3.90v1.53h-3.90zM332.21 478.26h3.90v1.53h-3.90z"/>
<path fill="#4894d1" d="M277.55 442.99h3.90v1.53h-3.90zM281.46 475.20h3.90v1.53h-3.90zM328.30 447.59h3.90v1.53h-3.90z"/>
<path fill="#3f84ba" d="M281.46 513.53h3.90v1.53h-3.90z"/>
<path fill="#3a78ab" d="M281.46 512.00h3.90v1.53h-3.90zM285.36 508.93h3.90v1.53h-3.90zM328.30 492.06h3.90v1.53h-3.90z"/>
<path fill="#3671a1" d="M281.46 510.47h3.90v1.53h-3.90zM285.36 489.00h3.90v1.53h-3.90z"/>
<path fill="#326896" d="M281.46 508.93h3.90v1.53h-3.90z"/>
<path fill="#30648f" d="M281.46 507.40h3.90v1.53h-3.90z"/>
<path fill="#2b5b84" d="M281.46 505.87h3.90v1.53h-3.90z"/>
<path fill="#265176" d="M281.46 504.33h3.90v1.53h-3.90z"/>
<path fill="#29567d" d="M281.46 502.80h3.90v1.53h-3.90z"/>
<path fill="#2d5e87" d="M281.46 501.26h3.90v1.53h-3.90z"/>
<path fill="#2f638e" d="M281.46 499.73h3.90v1.53h-3.90z"/>
<path fill="#316692" d="M281.46 498.20h3.90v1.53h-3.90z"/>
<path fill="#316793" d="M281.46 496.66h3.90v1.53h-3.90z"/>
<path fill="#306590" d="M281.46 495.13h3.90v1.53h-3.90z"/>
<path fill="#2e618b" d="M281.46 493.60h3.90v1.53h-3.90z"/>
<path fill="#2c5d86" d="M281.46 492.06h3.90v1.53h-3.90z"/>
<path fill="#28557b" d="M281.46 490.53h3.90v1.53h-3.90z"/>
<path fill="#2a587f" d="M281.46 489.00h3.90v1.53h-3.90z"/>
<path fill="#2e608a" d="M281.46 487.46h3.90v1.53h-3.90z"/>
<path fill="#326895" d="M281.46 485.93h3.90v1.53h-3.90z"/>
<path fill="#346c9a" d="M281.46 484.40h3.90v1.53h-3.90z"/>
<path fill="#3875a7" d="M281.46 482.86h3.90v1.53h-3.90zM340.02 442.99h3.90v1.53h-3.90z"/>
<path fill="#3d7fb4" d="M281.46 481.33h3.90v1.53h-3.90zM332.21 472.13h3.90v1.53h-3.90zM332.21 469.06h3.90v1.53h-3.90zM336.11 489.00h3.90v1.53h-3.90z"/>
<path fill="#4288c0" d="M281.46 479.80h3.90v1.53h-3.90zM297.07 487.46h3.90v1.53h-3.90zM300.98 501.26h3.90v1.53h-3.90zM332.21 446.06h3.90v1.53h-3.90zM336.11 446.06h3.90v1.53h-3.90z"/>
<path fill="#4792ce" d="M281.46 476.73h3.90v1.53h-3.90zM285.36 478.26h3.90v1.53h-3.90zM289.26 478.26h3.90v1.53h-3.90zM300.98 481.33h3.90v1.53h-3.90zM308.78 487.46h3.90v1.53h-3.90zM320.50 465.99h3.90v1.53h-3.90z"/>
<path fill="#4b9ad9" d="M281.46 470.59h3.90v1.53h-3.90zM293.17 472.13h3.90v1.53h-3.90zM308.78 465.99h3.90v1.53h-3.90zM312.69 476.73h3.90v1.53h-3.90zM320.50 490.53h3.90v1.53h-3.90zM336.11 484.40h3.90v1.53h-3.90z"/>
<path fill="#4b9bda" d="M281.46 469.06h3.90v1.53h-3.90zM285.36 472.13h3.90v1.53h-3.90zM289.26 467.53h3.90v1.53h-3.90zM293.17 470.59h3.90v1.53h-3.90zM304.88 444.53h3.90v1.53h-3.90zM308.78 444.53h3.90v1.53h-3.90zM312.69 489.00h3.90v1.53h-3.90zM324.40 496.66h3.90v1.53h-3.90zM336.11 456.79h3.90v1.53h-3.90zM336.11 449.13h3.90v1.53h-3.90z"/>
<path fill="#4c9ddc" d="M281.46 464.46h3.90v1.53h-3.90zM281.46 447.59h3.90v1.53h-3.90zM289.26 461.39h3.90v1.53h-3.90zM289.26 459.86h3.90v1.53h-3.90zM289.26 458.33h3.90v1.53h-3.90zM289.26 456.79h3.90v1.53h-3.90zM289.26 455.26h3.90v1.53h-3.90zM289.26 453.73h3.90v1.53h-3.90zM289.26 452.19h3.90v1.53h-3.90zM289.26 450.66h3.90v1.53h-3.90zM289.26 449.13h3.90v1.53h-3.90zM293.17 469.06h3.90v1.53h-3.90zM308.78 464.46h3.90v1.53h-3.90zM312.69 487.46h3.90v1.53h-3.90zM312.69 478.26h3.90v1.53h-3.90zM316.59 499.73h3.90v1.53h-3.90z"/>
<path fill="#4c9ddd" d="M281.46 462.93h3.90v1.53h-3.90zM281.46 461.39h3.90v1.53h-3.90zM281.46 459.86h3.90v1.53h-3.90zM281.46 449.13h3.90v1.53h-3.90zM285.36 470.59h3.90v1.53h-3.90zM324.40 479.80h3.90v1.53h-3.90zM324.40 456.79h3.90v1.53h-3.90z"/>
<path fill="#4c9edd" d="M281.46 458.33h3.90v1.53h-3.90zM281.46 456.79h3.90v1.53h-3.90zM281.46 455.26h3.90v1.53h-3.90zM281.46 453.73h3.90v1.53h-3.90zM281.46 452.19h3.90v1.53h-3.90zM281.46 450.66h3.90v1.53h-3.90zM300.98 469.06h3.90v1.53h-3.90z"/>
<path fill="#4b9ad8" d="M281.46 446.06h3.90v1.53h-3.90zM285.36 473.66h3.90v1.53h-3.90zM289.26 470.59h3.90v1.53h-3.90zM289.26 446.06h3.90v1.53h-3.90zM300.98 444.53h3.90v1.53h-3.90zM304.88 472.13h3.90v1.53h-3.90zM316.59 492.06h3.90v1.53h-3.90zM324.40 459.86h3.90v1.53h-3.90z"/>
<path fill="#4794d0" d="M281.46 442.99h3.90v1.53h-3.90zM289.26 476.73h3.90v1.53h-3.90zM316.59 467.53h3.90v1.53h-3.90z"/>
<path fill="#4085bc" d="M285.36 512.00h3.90v1.53h-3.90zM293.17 507.40h3.90v1.53h-3.90zM297.07 489.00h3.90v1.53h-3.90zM336.11 473.66h3.90v1.53h-3.90zM336.11 467.53h3.90v1.53h-3.90z"/>
<path fill="#3d7eb3" d="M285.36 510.47h3.90v1.53h-3.90zM293.17 490.53h3.90v1.53h-3.90zM328.30 444.53h3.90v1.53h-3.90z"/>
<path fill="#3773a4" d="M285.36 507.40h3.90v1.53h-3.90zM285.36 487.46h3.90v1.53h-3.90zM289.26 499.73h3.90v1.53h-3.90z"/>
<path fill="#3670a0" d="M285.36 505.87h3.90v1.53h-3.90z"/>
<path fill="#356e9d" d="M285.36 504.33h3.90v1.53h-3.90zM285.36 493.60h3.90v1.53h-3.90z"/>
<path fill="#336b99" d="M285.36 502.80h3.90v1.53h-3.90zM332.21 442.99h3.90v1.53h-3.90z"/>
<path fill="#336a98" d="M285.36 501.26h3.90v1.53h-3.90z"/>
<path fill="#346c9b" d="M285.36 499.73h3.90v1.53h-3.90z"/>
<path fill="#346d9c" d="M285.36 498.20h3.90v1.53h-3.90z"/>
<path fill="#356f9e" d="M285.36 496.66h3.90v1.53h-3.90z"/>
<path fill="#356f9f" d="M285.36 495.13h3.90v1.53h-3.90z"/>
<path fill="#356e9e" d="M285.36 492.06h3.90v1.53h-3.90z"/>
<path fill="#36709f" d="M285.36 490.53h3.90v1.53h-3.90z"/>
<path fill="#4084bb" d="M285.36 482.86h3.90v1.53h-3.90zM297.07 502.80h3.90v1.53h-3.90zM297.07 490.53h3.90v1.53h-3.90zM328.30 489.00h3.90v1.53h-3.90z"/>
<path fill="#438bc4" d="M285.36 481.33h3.90v1.53h-3.90zM304.88 499.73h3.90v1.53h-3.90zM304.88 498.20h3.90v1.53h-3.90zM324.40 465.99h3.90v1.53h-3.90zM332.21 492.06h3.90v1.53h-3.90zM336.11 475.20h3.90v1.53h-3.90zM343.92 442.99h3.90v1.53h-3.90z"/>
<path fill="#4590ca" d="M285.36 479.80h3.90v1.53h-3.90zM304.88 487.46h3.90v1.53h-3.90zM332.21 476.73h3.90v1.53h-3.90z"/>
<path fill="#4895d1" d="M285.36 476.73h3.90v1.53h-3.90zM285.36 442.99h3.90v1.53h-3.90zM293.17 476.73h3.90v1.53h-3.90zM300.98 478.26h3.90v1.53h-3.90zM312.69 472.13h3.90v1.53h-3.90zM312.69 470.59h3.90v1.53h-3.90zM324.40 478.26h3.90v1.53h-3.90zM328.30 459.86h3.90v1.53h-3.90z"/>
<path fill="#4a98d6" d="M285.36 475.20h3.90v1.53h-3.90zM293.17 444.53h3.90v1.53h-3.90zM304.88 476.73h3.90v1.53h-3.90zM312.69 475.20h3.90v1.53h-3.90zM316.59 465.99h3.90v1.53h-3.90zM328.30 487.46h3.90v1.53h-3.90zM332.21 456.79h3.90v1.53h-3.90zM332.21 449.13h3.90v1.53h-3.90zM343.92 469.06h3.90v1.53h-3.90z"/>
<path fill="#4d9ede" d="M285.36 469.06h3.90v1.53h-3.90zM293.17 467.53h3.90v1.53h-3.90zM297.07 469.06h3.90v1.53h-3.90zM297.07 446.06h3.90v1.53h-3.90zM312.69 485.93h3.90v1.53h-3.90zM316.59 478.26h3.90v1.53h-3.90zM324.40 455.26h3.90v1.53h-3.90zM324.40 453.73h3.90v1.53h-3.90zM324.40 452.19h3.90v1.53h-3.90zM324.40 450.66h3.90v1.53h-3.90zM328.30 495.13h3.90v1.53h-3.90zM328.30 479.80h3.90v1.53h-3.90zM343.92 482.86h3.90v1.53h-3.90z"/>
<path fill="#4ea0e1" d="M285.36 462.93h3.90v1.53h-3.90zM285.36 461.39h3.90v1.53h-3.90zM285.36 459.86h3.90v1.53h-3.90zM285.36 458.33h3.90v1.53h-3.90zM308.78 461.39h3.90v1.53h-3.90zM312.69 482.86h3.90v1.53h-3.90zM312.69 481.33h3.90v1.53h-3.90zM343.92 475.20h3.90v1.53h-3.90z"/>
<path fill="#4ea1e1" d="M285.36 456.79h3.90v1.53h-3.90zM285.36 455.26h3.90v1.53h-3.90zM285.36 453.73h3.90v1.53h-3.90zM285.36 452.19h3.90v1.53h-3.90zM285.36 450.66h3.90v1.53h-3.90zM285.36 449.13h3.90v1.53h-3.90zM297.07 464.46h3.90v1.53h-3.90zM297.07 462.93h3.90v1.53h-3.90zM300.98 464.46h3.90v1.53h-3.90zM304.88 464.46h3.90v1.53h-3.90zM304.88 446.06h3.90v1.53h-3.90zM312.69 464.46h3.90v1.53h-3.90z"/>
<path fill="#4a98d5" d="M285.36 444.53h3.90v1.53h-3.90zM300.98 442.99h3.90v1.53h-3.90zM312.69 501.26h3.90v1.53h-3.90zM328.30 453.73h3.90v1.53h-3.90z"/>
<path fill="#4086bd" d="M289.26 510.47h3.90v1.53h-3.90z"/>
<path fill="#3e82b7" d="M289.26 508.93h3.90v1.53h-3.90z"/>
<path fill="#3b7aae" d="M289.26 505.87h3.90v1.53h-3.90zM293.17 493.60h3.90v1.53h-3.90z"/>
<path fill="#3977aa" d="M289.26 504.33h3.90v1.53h-3.90z"/>
<path fill="#3976a7" d="M289.26 502.80h3.90v1.53h-3.90z"/>
<path fill="#3874a5" d="M289.26 501.26h3.90v1.53h-3.90zM289.26 495.13h3.90v1.53h-3.90z"/>
<path fill="#3772a3" d="M289.26 498.20h3.90v1.53h-3.90zM289.26 496.66h3.90v1.53h-3.90z"/>
<path fill="#3875a6" d="M289.26 493.60h3.90v1.53h-3.90z"/>
<path fill="#3976a8" d="M289.26 492.06h3.90v1.53h-3.90zM328.30 442.99h3.90v1.53h-3.90z"/>
<path fill="#3a78aa" d="M289.26 490.53h3.90v1.53h-3.90z"/>
<path fill="#3b7bae" d="M289.26 489.00h3.90v1.53h-3.90z"/>
<path fill="#3c7eb2" d="M289.26 487.46h3.90v1.53h-3.90z"/>
<path fill="#3f82b8" d="M289.26 485.93h3.90v1.53h-3.90zM324.40 472.13h3.90v1.53h-3.90zM328.30 467.53h3.90v1.53h-3.90zM336.11 469.06h3.90v1.53h-3.90z"/>
<path fill="#4085bd" d="M289.26 484.40h3.90v1.53h-3.90z"/>
<path fill="#428ac2" d="M289.26 482.86h3.90v1.53h-3.90zM320.50 470.59h3.90v1.53h-3.90z"/>
<path fill="#448ec8" d="M289.26 481.33h3.90v1.53h-3.90zM304.88 490.53h3.90v1.53h-3.90z"/>
<path fill="#4690cb" d="M289.26 479.80h3.90v1.53h-3.90zM304.88 504.33h3.90v1.53h-3.90zM308.78 493.60h3.90v1.53h-3.90zM316.59 493.60h3.90v1.53h-3.90zM320.50 475.20h3.90v1.53h-3.90zM324.40 476.73h3.90v1.53h-3.90zM328.30 462.93h3.90v1.53h-3.90zM340.02 467.53h3.90v1.53h-3.90z"/>
<path fill="#4998d5" d="M289.26 473.66h3.90v1.53h-3.90zM328.30 455.26h3.90v1.53h-3.90zM328.30 452.19h3.90v1.53h-3.90zM328.30 450.66h3.90v1.53h-3.90zM336.11 478.26h3.90v1.53h-3.90z"/>
<path fill="#4b9cda" d="M289.26 465.99h3.90v1.53h-3.90zM324.40 447.59h3.90v1.53h-3.90zM336.11 455.26h3.90v1.53h-3.90zM336.11 452.19h3.90v1.53h-3.90zM336.11 450.66h3.90v1.53h-3.90z"/>
<path fill="#4895d2" d="M289.26 444.53h3.90v1.53h-3.90zM293.17 442.99h3.90v1.53h-3.90zM304.88 479.80h3.90v1.53h-3.90zM308.78 482.86h3.90v1.53h-3.90zM312.69 493.60h3.90v1.53h-3.90zM332.21 459.86h3.90v1.53h-3.90zM340.02 489.00h3.90v1.53h-3.90zM343.92 470.59h3.90v1.53h-3.90z"/>
<path fill="#4794cf" d="M289.26 442.99h3.90v1.53h-3.90z"/>
<path fill="#4289c1" d="M293.17 508.93h3.90v1.53h-3.90zM297.07 505.87h3.90v1.53h-3.90zM300.98 490.53h3.90v1.53h-3.90zM328.30 493.60h3.90v1.53h-3.90zM336.11 485.93h3.90v1.53h-3.90z"/>
<path fill="#3f82b9" d="M293.17 505.87h3.90v1.53h-3.90z"/>
<path fill="#3d80b5" d="M293.17 504.33h3.90v1.53h-3.90z"/>
<path fill="#3c7cb0" d="M293.17 502.80h3.90v1.53h-3.90zM328.30 470.59h3.90v1.53h-3.90zM336.11 487.46h3.90v1.53h-3.90z"/>
<path fill="#3b7baf" d="M293.17 501.26h3.90v1.53h-3.90zM324.40 493.60h3.90v1.53h-3.90zM332.21 490.53h3.90v1.53h-3.90z"/>
<path fill="#3b7aad" d="M293.17 499.73h3.90v1.53h-3.90zM324.40 492.06h3.90v1.53h-3.90z"/>
<path fill="#3a79ac" d="M293.17 498.20h3.90v1.53h-3.90zM293.17 496.66h3.90v1.53h-3.90zM332.21 489.00h3.90v1.53h-3.90z"/>
<path fill="#3a7aad" d="M293.17 495.13h3.90v1.53h-3.90z"/>
<path fill="#3c7caf" d="M293.17 492.06h3.90v1.53h-3.90z"/>
<path fill="#3e80b5" d="M293.17 489.00h3.90v1.53h-3.90zM297.07 496.66h3.90v1.53h-3.90zM297.07 495.13h3.90v1.53h-3.90z"/>
<path fill="#4084ba" d="M293.17 487.46h3.90v1.53h-3.90zM297.07 501.26h3.90v1.53h-3.90z"/>
<path fill="#4186be" d="M293.17 485.93h3.90v1.53h-3.90zM300.98 493.60h3.90v1.53h-3.90zM332.21 487.46h3.90v1.53h-3.90z"/>
<path fill="#4289c2" d="M293.17 484.40h3.90v1.53h-3.90zM316.59 496.66h3.90v1.53h-3.90zM340.02 487.46h3.90v1.53h-3.90z"/>
<path fill="#448dc7" d="M293.17 482.86h3.90v1.53h-3.90zM297.07 484.40h3.90v1.53h-3.90zM304.88 492.06h3.90v1.53h-3.90zM312.69 496.66h3.90v1.53h-3.90zM320.50 473.66h3.90v1.53h-3.90zM332.21 464.46h3.90v1.53h-3.90zM340.02 469.06h3.90v1.53h-3.90z"/>
<path fill="#458fca" d="M293.17 481.33h3.90v1.53h-3.90zM300.98 484.40h3.90v1.53h-3.90zM308.78 501.26h3.90v1.53h-3.90zM308.78 495.13h3.90v1.53h-3.90zM336.11 464.46h3.90v1.53h-3.90z"/>
<path fill="#4691cd" d="M293.17 479.80h3.90v1.53h-3.90zM308.78 502.80h3.90v1.53h-3.90zM316.59 498.20h3.90v1.53h-3.90z"/>
<path fill="#4793cf" d="M293.17 478.26h3.90v1.53h-3.90zM300.98 479.80h3.90v1.53h-3.90zM304.88 482.86h3.90v1.53h-3.90zM308.78 485.93h3.90v1.53h-3.90zM324.40 462.93h3.90v1.53h-3.90zM328.30 461.39h3.90v1.53h-3.90zM332.21 461.39h3.90v1.53h-3.90zM340.02 465.99h3.90v1.53h-3.90zM340.02 446.06h3.90v1.53h-3.90zM343.92 484.40h3.90v1.53h-3.90z"/>
<path fill="#448cc6" d="M297.07 507.40h3.90v1.53h-3.90zM300.98 504.33h3.90v1.53h-3.90zM304.88 493.60h3.90v1.53h-3.90zM328.30 464.46h3.90v1.53h-3.90z"/>
<path fill="#3e81b7" d="M297.07 499.73h3.90v1.53h-3.90zM297.07 493.60h3.90v1.53h-3.90zM328.30 473.66h3.90v1.53h-3.90zM336.11 472.13h3.90v1.53h-3.90z"/>
<path fill="#3e80b6" d="M297.07 498.20h3.90v1.53h-3.90zM336.11 470.59h3.90v1.53h-3.90z"/>
<path fill="#3f83b9" d="M297.07 492.06h3.90v1.53h-3.90zM320.50 495.13h3.90v1.53h-3.90zM332.21 473.66h3.90v1.53h-3.90zM332.21 467.53h3.90v1.53h-3.90z"/>
<path fill="#438ac3" d="M297.07 485.93h3.90v1.53h-3.90zM300.98 489.00h3.90v1.53h-3.90zM320.50 472.13h3.90v1.53h-3.90zM324.40 495.13h3.90v1.53h-3.90zM324.40 475.20h3.90v1.53h-3.90zM324.40 442.99h3.90v1.53h-3.90z"/>
<path fill="#4691cc" d="M297.07 481.33h3.90v1.53h-3.90zM300.98 482.86h3.90v1.53h-3.90zM304.88 485.93h3.90v1.53h-3.90zM308.78 492.06h3.90v1.53h-3.90zM308.78 490.53h3.90v1.53h-3.90zM312.69 495.13h3.90v1.53h-3.90zM316.59 472.13h3.90v1.53h-3.90zM316.59 470.59h3.90v1.53h-3.90zM336.11 476.73h3.90v1.53h-3.90z"/>
<path fill="#4894d0" d="M297.07 478.26h3.90v1.53h-3.90zM304.88 481.33h3.90v1.53h-3.90zM308.78 484.40h3.90v1.53h-3.90zM316.59 475.20h3.90v1.53h-3.90zM320.50 476.73h3.90v1.53h-3.90zM328.30 478.26h3.90v1.53h-3.90zM332.21 447.59h3.90v1.53h-3.90zM343.92 485.93h3.90v1.53h-3.90z"/>
<path fill="#4996d3" d="M297.07 476.73h3.90v1.53h-3.90zM308.78 481.33h3.90v1.53h-3.90zM308.78 475.20h3.90v1.53h-3.90zM308.78 473.66h3.90v1.53h-3.90zM308.78 470.59h3.90v1.53h-3.90zM312.69 473.66h3.90v1.53h-3.90zM312.69 469.06h3.90v1.53h-3.90zM320.50 464.46h3.90v1.53h-3.90zM324.40 446.06h3.90v1.53h-3.90zM336.11 461.39h3.90v1.53h-3.90zM336.11 447.59h3.90v1.53h-3.90zM343.92 472.13h3.90v1.53h-3.90z"/>
<path fill="#4a99d6" d="M297.07 475.20h3.90v1.53h-3.90zM332.21 455.26h3.90v1.53h-3.90zM332.21 453.73h3.90v1.53h-3.90zM332.21 452.19h3.90v1.53h-3.90zM332.21 450.66h3.90v1.53h-3.90z"/>
<path fill="#4a9ad8" d="M297.07 473.66h3.90v1.53h-3.90zM300.98 473.66h3.90v1.53h-3.90zM304.88 473.66h3.90v1.53h-3.90zM308.78 442.99h3.90v1.53h-3.90zM340.02 476.73h3.90v1.53h-3.90zM340.02 464.46h3.90v1.53h-3.90z"/>
<path fill="#4ea1e2" d="M297.07 461.39h3.90v1.53h-3.90zM297.07 459.86h3.90v1.53h-3.90zM297.07 458.33h3.90v1.53h-3.90zM297.07 456.79h3.90v1.53h-3.90zM297.07 455.26h3.90v1.53h-3.90zM297.07 453.73h3.90v1.53h-3.90zM297.07 452.19h3.90v1.53h-3.90zM297.07 450.66h3.90v1.53h-3.90zM297.07 449.13h3.90v1.53h-3.90zM297.07 447.59h3.90v1.53h-3.90zM300.98 462.93h3.90v1.53h-3.90zM300.98 461.39h3.90v1.53h-3.90zM304.88 462.93h3.90v1.53h-3.90zM308.78 459.86h3.90v1.53h-3.90zM308.78 458.33h3.90v1.53h-3.90zM308.78 447.59h3.90v1.53h-3.90z"/>
<path fill="#458ec8" d="M300.98 505.87h3.90v1.53h-3.90zM300.98 485.93h3.90v1.53h-3.90zM304.88 502.80h3.90v1.53h-3.90zM312.69 498.20h3.90v1.53h-3.90zM328.30 446.06h3.90v1.53h-3.90zM336.11 490.53h3.90v1.53h-3.90z"/>
<path fill="#438ac2" d="M300.98 502.80h3.90v1.53h-3.90z"/>
<path fill="#4187be" d="M300.98 498.20h3.90v1.53h-3.90zM328.30 465.99h3.90v1.53h-3.90z"/>
<path fill="#4186bd" d="M300.98 496.66h3.90v1.53h-3.90zM300.98 495.13h3.90v1.53h-3.90zM324.40 490.53h3.90v1.53h-3.90zM324.40 467.53h3.90v1.53h-3.90z"/>
<path fill="#4d9fe0" d="M300.98 465.99h3.90v1.53h-3.90z"/>
<path fill="#4ea2e2" d="M300.98 459.86h3.90v1.53h-3.90zM300.98 447.59h3.90v1.53h-3.90zM308.78 456.79h3.90v1.53h-3.90zM308.78 455.26h3.90v1.53h-3.90zM340.02 462.93h3.90v1.53h-3.90z"/>
<path fill="#4ea2e3" d="M300.98 458.33h3.90v1.53h-3.90zM308.78 453.73h3.90v1.53h-3.90zM308.78 452.19h3.90v1.53h-3.90zM308.78 450.66h3.90v1.53h-3.90zM308.78 449.13h3.90v1.53h-3.90z"/>
<path fill="#4fa2e3" d="M300.98 456.79h3.90v1.53h-3.90zM300.98 455.26h3.90v1.53h-3.90zM300.98 453.73h3.90v1.53h-3.90zM300.98 452.19h3.90v1.53h-3.90zM300.98 450.66h3.90v1.53h-3.90zM300.98 449.13h3.90v1.53h-3.90zM304.88 461.39h3.90v1.53h-3.90zM304.88 459.86h3.90v1.53h-3.90zM304.88 458.33h3.90v1.53h-3.90zM304.88 447.59h3.90v1.53h-3.90zM312.69 442.99h3.90v1.53h-3.90zM316.59 479.80h3.90v1.53h-3.90zM320.50 479.80h3.90v1.53h-3.90zM320.50 461.39h3.90v1.53h-3.90zM332.21 479.80h3.90v1.53h-3.90zM336.11 479.80h3.90v1.53h-3.90zM347.82 482.86h3.90v1.53h-3.90z"/>
<path fill="#438bc5" d="M304.88 496.66h3.90v1.53h-3.90zM308.78 498.20h3.90v1.53h-3.90z"/>
<path fill="#458ec9" d="M304.88 489.00h3.90v1.53h-3.90zM320.50 467.53h3.90v1.53h-3.90zM328.30 476.73h3.90v1.53h-3.90z"/>
<path fill="#4792cd" d="M304.88 484.40h3.90v1.53h-3.90zM312.69 499.73h3.90v1.53h-3.90zM316.59 473.66h3.90v1.53h-3.90zM343.92 444.53h3.90v1.53h-3.90z"/>
<path fill="#4fa2e4" d="M304.88 456.79h3.90v1.53h-3.90z"/>
<path fill="#4fa3e4" d="M304.88 455.26h3.90v1.53h-3.90zM304.88 453.73h3.90v1.53h-3.90zM304.88 452.19h3.90v1.53h-3.90zM304.88 450.66h3.90v1.53h-3.90zM304.88 449.13h3.90v1.53h-3.90zM312.69 462.93h3.90v1.53h-3.90zM312.69 444.53h3.90v1.53h-3.90zM316.59 490.53h3.90v1.53h-3.90zM316.59 462.93h3.90v1.53h-3.90zM316.59 442.99h3.90v1.53h-3.90zM324.40 481.33h3.90v1.53h-3.90zM332.21 493.60h3.90v1.53h-3.90zM336.11 492.06h3.90v1.53h-3.90zM340.02 482.86h3.90v1.53h-3.90zM340.02 478.26h3.90v1.53h-3.90zM343.92 487.46h3.90v1.53h-3.90zM343.92 465.99h3.90v1.53h-3.90zM347.82 484.40h3.90v1.53h-3.90zM347.82 472.13h3.90v1.53h-3.90zM347.82 470.59h3.90v1.53h-3.90zM347.82 442.99h3.90v1.53h-3.90z"/>
<path fill="#448dc6" d="M308.78 499.73h3.90v1.53h-3.90zM320.50 492.06h3.90v1.53h-3.90zM340.02 472.13h3.90v1.53h-3.90z"/>
<path fill="#448ec7" d="M308.78 496.66h3.90v1.53h-3.90z"/>
<path fill="#4692cd" d="M308.78 489.00h3.90v1.53h-3.90zM316.59 469.06h3.90v1.53h-3.90zM340.02 484.40h3.90v1.53h-3.90z"/>
<path fill="#4997d5" d="M308.78 469.06h3.90v1.53h-3.90zM328.30 456.79h3.90v1.53h-3.90zM328.30 449.13h3.90v1.53h-3.90zM332.21 458.33h3.90v1.53h-3.90z"/>
<path fill="#4fa3e5" d="M312.69 461.39h3.90v1.53h-3.90zM316.59 489.00h3.90v1.53h-3.90zM316.59 481.33h3.90v1.53h-3.90zM316.59 461.39h3.90v1.53h-3.90zM316.59 444.53h3.90v1.53h-3.90zM320.50 459.86h3.90v1.53h-3.90zM320.50 446.06h3.90v1.53h-3.90zM340.02 461.39h3.90v1.53h-3.90zM347.82 473.66h3.90v1.53h-3.90zM347.82 469.06h3.90v1.53h-3.90z"/>
<path fill="#4fa4e5" d="M312.69 459.86h3.90v1.53h-3.90zM312.69 446.06h3.90v1.53h-3.90zM316.59 487.46h3.90v1.53h-3.90zM316.59 485.93h3.90v1.53h-3.90zM316.59 484.40h3.90v1.53h-3.90zM316.59 482.86h3.90v1.53h-3.90zM320.50 481.33h3.90v1.53h-3.90zM320.50 458.33h3.90v1.53h-3.90zM320.50 447.59h3.90v1.53h-3.90zM328.30 481.33h3.90v1.53h-3.90zM340.02 447.59h3.90v1.53h-3.90zM343.92 476.73h3.90v1.53h-3.90z"/>
<path fill="#50a4e5" d="M312.69 458.33h3.90v1.53h-3.90zM320.50 456.79h3.90v1.53h-3.90z"/>
<path fill="#50a4e6" d="M312.69 456.79h3.90v1.53h-3.90zM312.69 455.26h3.90v1.53h-3.90zM312.69 453.73h3.90v1.53h-3.90zM312.69 452.19h3.90v1.53h-3.90zM312.69 450.66h3.90v1.53h-3.90zM312.69 449.13h3.90v1.53h-3.90zM312.69 447.59h3.90v1.53h-3.90zM316.59 459.86h3.90v1.53h-3.90zM320.50 489.00h3.90v1.53h-3.90zM320.50 455.26h3.90v1.53h-3.90zM320.50 453.73h3.90v1.53h-3.90zM320.50 452.19h3.90v1.53h-3.90zM320.50 450.66h3.90v1.53h-3.90zM320.50 449.13h3.90v1.53h-3.90zM324.40 487.46h3.90v1.53h-3.90zM336.11 481.33h3.90v1.53h-3.90zM343.92 446.06h3.90v1.53h-3.90zM347.82 467.53h3.90v1.53h-3.90z"/>
<path fill="#4288c1" d="M316.59 495.13h3.90v1.53h-3.90zM332.21 475.20h3.90v1.53h-3.90z"/>
<path fill="#50a5e6" d="M316.59 458.33h3.90v1.53h-3.90zM316.59 446.06h3.90v1.53h-3.90zM324.40 482.86h3.90v1.53h-3.90zM336.11 482.86h3.90v1.53h-3.90zM343.92 464.46h3.90v1.53h-3.90zM347.82 481.33h3.90v1.53h-3.90z"/>
<path fill="#50a5e7" d="M316.59 456.79h3.90v1.53h-3.90zM316.59 455.26h3.90v1.53h-3.90zM316.59 453.73h3.90v1.53h-3.90zM316.59 452.19h3.90v1.53h-3.90zM316.59 450.66h3.90v1.53h-3.90zM316.59 449.13h3.90v1.53h-3.90zM316.59 447.59h3.90v1.53h-3.90zM320.50 487.46h3.90v1.53h-3.90zM320.50 485.93h3.90v1.53h-3.90zM320.50 484.40h3.90v1.53h-3.90zM320.50 482.86h3.90v1.53h-3.90zM324.40 485.93h3.90v1.53h-3.90zM324.40 484.40h3.90v1.53h-3.90zM328.30 485.93h3.90v1.53h-3.90zM328.30 482.86h3.90v1.53h-3.90zM332.21 481.33h3.90v1.53h-3.90zM340.02 490.53h3.90v1.53h-3.90zM340.02 479.80h3.90v1.53h-3.90zM340.02 459.86h3.90v1.53h-3.90zM340.02 458.33h3.90v1.53h-3.90zM340.02 456.79h3.90v1.53h-3.90zM340.02 449.13h3.90v1.53h-3.90zM343.92 481.33h3.90v1.53h-3.90zM347.82 475.20h3.90v1.53h-3.90zM347.82 444.53h3.90v1.53h-3.90z"/>
<path fill="#3e81b6" d="M320.50 493.60h3.90v1.53h-3.90zM324.40 470.59h3.90v1.53h-3.90z"/>
<path fill="#438cc5" d="M320.50 469.06h3.90v1.53h-3.90zM340.02 470.59h3.90v1.53h-3.90z"/>
<path fill="#4085bb" d="M324.40 473.66h3.90v1.53h-3.90z"/>
<path fill="#4690ca" d="M324.40 464.46h3.90v1.53h-3.90z"/>
<path fill="#50a6e8" d="M328.30 484.40h3.90v1.53h-3.90zM332.21 484.40h3.90v1.53h-3.90zM332.21 482.86h3.90v1.53h-3.90zM340.02 481.33h3.90v1.53h-3.90zM340.02 453.73h3.90v1.53h-3.90zM340.02 452.19h3.90v1.53h-3.90zM343.92 479.80h3.90v1.53h-3.90zM343.92 478.26h3.90v1.53h-3.90zM343.92 462.93h3.90v1.53h-3.90zM347.82 485.93h3.90v1.53h-3.90zM347.82 479.80h3.90v1.53h-3.90zM347.82 476.73h3.90v1.53h-3.90zM347.82 465.99h3.90v1.53h-3.90zM347.82 464.46h3.90v1.53h-3.90z"/>
<path fill="#3d7eb2" d="M328.30 472.13h3.90v1.53h-3.90z"/>
<path fill="#3d7fb3" d="M328.30 469.06h3.90v1.53h-3.90z"/>
<path fill="#4691cb" d="M332.21 462.93h3.90v1.53h-3.90z"/>
<path fill="#3874a6" d="M332.21 444.53h3.90v1.53h-3.90z"/>
<path fill="#438bc3" d="M336.11 465.99h3.90v1.53h-3.90z"/>
<path fill="#3772a2" d="M336.11 444.53h3.90v1.53h-3.90z"/>
<path fill="#336a97" d="M336.11 442.99h3.90v1.53h-3.90z"/>
<path fill="#4188c0" d="M340.02 485.93h3.90v1.53h-3.90z"/>
<path fill="#50a5e8" d="M340.02 455.26h3.90v1.53h-3.90zM340.02 450.66h3.90v1.53h-3.90z"/>
<path fill="#3c7db2" d="M340.02 444.53h3.90v1.53h-3.90z"/>
<path fill="#51a6e8" d="M343.92 489.00h3.90v1.53h-3.90zM343.92 461.39h3.90v1.53h-3.90zM347.82 478.26h3.90v1.53h-3.90zM347.82 462.93h3.90v1.53h-3.90zM351.73 482.86h3.90v1.53h-3.90zM351.73 481.33h3.90v1.53h-3.90zM351.73 473.66h3.90v1.53h-3.90zM351.73 472.13h3.90v1.53h-3.90zM351.73 470.59h3.90v1.53h-3.90zM351.73 469.06h3.90v1.53h-3.90z"/>
<path fill="#51a6e9" d="M343.92 459.86h3.90v1.53h-3.90zM343.92 458.33h3.90v1.53h-3.90zM343.92 447.59h3.90v1.53h-3.90zM347.82 487.46h3.90v1.53h-3.90zM347.82 461.39h3.90v1.53h-3.90zM347.82 446.06h3.90v1.53h-3.90zM351.73 479.80h3.90v1.53h-3.90zM351.73 476.73h3.90v1.53h-3.90zM351.73 475.20h3.90v1.53h-3.90zM351.73 467.53h3.90v1.53h-3.90zM355.63 479.80h3.90v1.53h-3.90z"/>
<path fill="#51a7e9" d="M343.92 456.79h3.90v1.53h-3.90zM343.92 455.26h3.90v1.53h-3.90zM343.92 453.73h3.90v1.53h-3.90zM343.92 452.19h3.90v1.53h-3.90zM343.92 450.66h3.90v1.53h-3.90zM343.92 449.13h3.90v1.53h-3.90zM351.73 484.40h3.90v1.53h-3.90zM351.73 478.26h3.90v1.53h-3.90zM351.73 465.99h3.90v1.53h-3.90zM355.63 481.33h3.90v1.53h-3.90zM355.63 478.26h3.90v1.53h-3.90zM355.63 473.66h3.90v1.53h-3.90zM355.63 472.13h3.90v1.53h-3.90zM355.63 470.59h3.90v1.53h-3.90zM355.63 469.06h3.90v1.53h-3.90z"/>
<path fill="#52aaee" d="M363.44 444.53h3.90v1.53h-3.90z"/>
<path fill="#53abf0" d="M371.25 462.93h3.90v1.53h-3.90zM371.25 461.39h3.90v1.53h-3.90zM371.25 459.86h3.90v1.53h-3.90zM371.25 442.99h3.90v1.53h-3.90z"/>
<path fill="#53acf0" d="M371.25 458.33h3.90v1.53h-3.90zM371.25 456.79h3.90v1.53h-3.90zM371.25 455.26h3.90v1.53h-3.90zM371.25 453.73h3.90v1.53h-3.90zM371.25 452.19h3.90v1.53h-3.90zM371.25 450.66h3.90v1.53h-3.90zM371.25 449.13h3.90v1.53h-3.90zM371.25 447.59h3.90v1.53h-3.90zM371.25 446.06h3.90v1.53h-3.90zM371.25 444.53h3.90v1.53h-3.90zM379.06 475.20h3.90v1.53h-3.90zM379.06 473.66h3.90v1.53h-3.90zM379.06 472.13h3.90v1.53h-3.90zM379.06 470.59h3.90v1.53h-3.90zM379.06 469.06h3.90v1.53h-3.90zM379.06 467.53h3.90v1.53h-3.90zM379.06 465.99h3.90v1.53h-3.90zM379.06 464.46h3.90v1.53h-3.90zM379.06 462.93h3.90v1.53h-3.90zM379.06 444.53h3.90v1.53h-3.90zM379.06 442.99h3.90v1.53h-3.90z"/>
<path fill="#54adf2" d="M375.15 476.73h3.90v1.53h-3.90zM375.15 475.20h3.90v1.53h-3.90zM375.15 473.66h3.90v1.53h-3.90zM375.15 472.13h3.90v1.53h-3.90zM375.15 470.59h3.90v1.53h-3.90zM375.15 469.06h3.90v1.53h-3.90zM375.15 467.53h3.90v1.53h-3.90zM375.15 465.99h3.90v1.53h-3.90zM375.15 464.46h3.90v1.53h-3.90zM375.15 462.93h3.90v1.53h-3.90zM375.15 461.39h3.90v1.53h-3.90zM375.15 459.86h3.90v1.53h-3.90zM375.15 458.33h3.90v1.53h-3.90zM375.15 456.79h3.90v1.53h-3.90zM375.15 455.26h3.90v1.53h-3.90zM375.15 453.73h3.90v1.53h-3.90zM375.15 452.19h3.90v1.53h-3.90zM375.15 450.66h3.90v1.53h-3.90zM375.15 449.13h3.90v1.53h-3.90zM375.15 447.59h3.90v1.53h-3.90zM375.15 446.06h3.90v1.53h-3.90zM375.15 444.53h3.90v1.53h-3.90zM375.15 442.99h3.90v1.53h-3.90zM382.96 455.26h3.90v1.53h-3.90zM382.96 453.73h3.90v1.53h-3.90zM382.96 452.19h3.90v1.53h-3.90zM382.96 450.66h3.90v1.53h-3.90zM382.96 449.13h3.90v1.53h-3.90zM422.00 444.53h3.90v1.53h-3.90zM422.00 442.99h3.90v1.53h-3.90z"/>
<path fill="#54acf0" d="M379.06 461.39h3.90v1.53h-3.90zM379.06 459.86h3.90v1.53h-3.90zM379.06 458.33h3.90v1.53h-3.90zM379.06 456.79h3.90v1.53h-3.90zM379.06 455.26h3.90v1.53h-3.90zM379.06 453.73h3.90v1.53h-3.90zM379.06 449.13h3.90v1.53h-3.90zM379.06 447.59h3.90v1.53h-3.90zM379.06 446.06h3.90v1.53h-3.90z"/>
<path fill="#54acf1" d="M379.06 452.19h3.90v1.53h-3.90zM379.06 450.66h3.90v1.53h-3.90zM394.67 469.06h3.90v1.53h-3.90zM394.67 467.53h3.90v1.53h-3.90zM394.67 465.99h3.90v1.53h-3.90zM394.67 464.46h3.90v1.53h-3.90zM394.67 462.93h3.90v1.53h-3.90zM394.67 461.39h3.90v1.53h-3.90zM394.67 459.86h3.90v1.53h-3.90zM394.67 458.33h3.90v1.53h-3.90zM394.67 456.79h3.90v1.53h-3.90zM394.67 450.66h3.90v1.53h-3.90zM394.67 449.13h3.90v1.53h-3.90zM394.67 447.59h3.90v1.53h-3.90zM394.67 446.06h3.90v1.53h-3.90zM394.67 444.53h3.90v1.53h-3.90zM394.67 442.99h3.90v1.53h-3.90z"/>
<path fill="#54adf1" d="M382.96 473.66h3.90v1.53h-3.90zM382.96 472.13h3.90v1.53h-3.90zM382.96 470.59h3.90v1.53h-3.90zM382.96 469.06h3.90v1.53h-3.90zM382.96 467.53h3.90v1.53h-3.90zM382.96 465.99h3.90v1.53h-3.90zM382.96 464.46h3.90v1.53h-3.90zM382.96 462.93h3.90v1.53h-3.90zM382.96 461.39h3.90v1.53h-3.90zM382.96 459.86h3.90v1.53h-3.90zM382.96 458.33h3.90v1.53h-3.90zM382.96 456.79h3.90v1.53h-3.90zM382.96 447.59h3.90v1.53h-3.90zM382.96 446.06h3.90v1.53h-3.90zM382.96 444.53h3.90v1.53h-3.90zM382.96 442.99h3.90v1.53h-3.90zM394.67 455.26h3.90v1.53h-3.90zM394.67 453.73h3.90v1.53h-3.90zM394.67 452.19h3.90v1.53h-3.90z"/>
<path fill="#55aff4" d="M386.86 472.13h3.90v1.53h-3.90zM386.86 470.59h3.90v1.53h-3.90zM386.86 469.06h3.90v1.53h-3.90zM386.86 467.53h3.90v1.53h-3.90zM386.86 465.99h3.90v1.53h-3.90zM386.86 464.46h3.90v1.53h-3.90zM386.86 462.93h3.90v1.53h-3.90zM386.86 461.39h3.90v1.53h-3.90zM386.86 459.86h3.90v1.53h-3.90zM386.86 458.33h3.90v1.53h-3.90zM386.86 456.79h3.90v1.53h-3.90zM386.86 455.26h3.90v1.53h-3.90zM386.86 453.73h3.90v1.53h-3.90zM386.86 452.19h3.90v1.53h-3.90zM386.86 450.66h3.90v1.53h-3.90zM386.86 449.13h3.90v1.53h-3.90zM386.86 447.59h3.90v1.53h-3.90zM386.86 446.06h3.90v1.53h-3.90zM386.86 444.53h3.90v1.53h-3.90zM386.86 442.99h3.90v1.53h-3.90zM390.77 456.79h3.90v1.53h-3.90zM390.77 455.26h3.90v1.53h-3.90zM390.77 453.73h3.90v1.53h-3.90zM390.77 452.19h3.90v1.53h-3.90zM390.77 450.66h3.90v1.53h-3.90zM398.58 467.53h3.90v1.53h-3.90zM398.58 465.99h3.90v1.53h-3.90zM398.58 464.46h3.90v1.53h-3.90zM398.58 449.13h3.90v1.53h-3.90zM398.58 447.59h3.90v1.53h-3.90zM398.58 446.06h3.90v1.53h-3.90zM398.58 444.53h3.90v1.53h-3.90zM398.58 442.99h3.90v1.53h-3.90z"/>
<path fill="#55aef3" d="M390.77 470.59h3.90v1.53h-3.90zM390.77 469.06h3.90v1.53h-3.90zM390.77 467.53h3.90v1.53h-3.90zM390.77 465.99h3.90v1.53h-3.90zM390.77 447.59h3.90v1.53h-3.90zM390.77 446.06h3.90v1.53h-3.90zM390.77 444.53h3.90v1.53h-3.90zM390.77 442.99h3.90v1.53h-3.90zM402.48 455.26h3.90v1.53h-3.90zM402.48 453.73h3.90v1.53h-3.90zM425.90 456.79h3.90v1.53h-3.90zM425.90 455.26h3.90v1.53h-3.90zM425.90 453.73h3.90v1.53h-3.90zM425.90 452.19h3.90v1.53h-3.90zM425.90 450.66h3.90v1.53h-3.90zM425.90 449.13h3.90v1.53h-3.90zM425.90 447.59h3.90v1.53h-3.90zM425.90 446.06h3.90v1.53h-3.90zM425.90 444.53h3.90v1.53h-3.90zM425.90 442.99h3.90v1.53h-3.90zM457.14 444.53h3.90v1.53h-3.90zM457.14 442.99h3.90v1.53h-3.90z"/>
<path fill="#55aef4" d="M390.77 464.46h3.90v1.53h-3.90zM390.77 462.93h3.90v1.53h-3.90zM390.77 461.39h3.90v1.53h-3.90zM390.77 459.86h3.90v1.53h-3.90zM390.77 458.33h3.90v1.53h-3.90zM390.77 449.13h3.90v1.53h-3.90z"/>
<path fill="#55aff5" d="M398.58 462.93h3.90v1.53h-3.90zM398.58 461.39h3.90v1.53h-3.90zM398.58 459.86h3.90v1.53h-3.90zM398.58 458.33h3.90v1.53h-3.90zM398.58 456.79h3.90v1.53h-3.90zM398.58 455.26h3.90v1.53h-3.90zM398.58 453.73h3.90v1.53h-3.90zM398.58 452.19h3.90v1.53h-3.90zM398.58 450.66h3.90v1.53h-3.90zM406.38 464.46h3.90v1.53h-3.90zM406.38 462.93h3.90v1.53h-3.90zM406.38 461.39h3.90v1.53h-3.90zM406.38 459.86h3.90v1.53h-3.90zM406.38 452.19h3.90v1.53h-3.90zM406.38 450.66h3.90v1.53h-3.90zM406.38 449.13h3.90v1.53h-3.90zM406.38 447.59h3.90v1.53h-3.90zM406.38 446.06h3.90v1.53h-3.90zM406.38 444.53h3.90v1.53h-3.90zM406.38 442.99h3.90v1.53h-3.90z"/>
<path fill="#54aef3" d="M402.48 465.99h3.90v1.53h-3.90zM402.48 464.46h3.90v1.53h-3.90zM402.48 462.93h3.90v1.53h-3.90zM402.48 461.39h3.90v1.53h-3.90zM402.48 459.86h3.90v1.53h-3.90zM402.48 458.33h3.90v1.53h-3.90zM402.48 456.79h3.90v1.53h-3.90zM402.48 452.19h3.90v1.53h-3.90zM402.48 450.66h3.90v1.53h-3.90zM402.48 449.13h3.90v1.53h-3.90zM402.48 447.59h3.90v1.53h-3.90zM402.48 446.06h3.90v1.53h-3.90zM402.48 444.53h3.90v1.53h-3.90zM402.48 442.99h3.90v1.53h-3.90zM422.00 456.79h3.90v1.53h-3.90zM422.00 455.26h3.90v1.53h-3.90z"/>
<path fill="#55b0f5" d="M406.38 458.33h3.90v1.53h-3.90zM406.38 456.79h3.90v1.53h-3.90zM406.38 455.26h3.90v1.53h-3.90zM406.38 453.73h3.90v1.53h-3.90zM410.29 462.93h3.90v1.53h-3.90zM410.29 461.39h3.90v1.53h-3.90zM410.29 459.86h3.90v1.53h-3.90zM410.29 458.33h3.90v1.53h-3.90zM410.29 456.79h3.90v1.53h-3.90zM410.29 455.26h3.90v1.53h-3.90zM410.29 453.73h3.90v1.53h-3.90zM410.29 452.19h3.90v1.53h-3.90zM410.29 450.66h3.90v1.53h-3.90zM410.29 449.13h3.90v1.53h-3.90zM410.29 447.59h3.90v1.53h-3.90zM410.29 446.06h3.90v1.53h-3.90zM410.29 444.53h3.90v1.53h-3.90zM410.29 442.99h3.90v1.53h-3.90zM445.42 446.06h3.90v1.53h-3.90zM445.42 444.53h3.90v1.53h-3.90zM445.42 442.99h3.90v1.53h-3.90z"/>
<path fill="#56b1f6" d="M414.19 461.39h3.90v1.53h-3.90zM414.19 459.86h3.90v1.53h-3.90zM414.19 458.33h3.90v1.53h-3.90zM414.19 456.79h3.90v1.53h-3.90zM414.19 453.73h3.90v1.53h-3.90zM414.19 452.19h3.90v1.53h-3.90zM414.19 450.66h3.90v1.53h-3.90zM414.19 449.13h3.90v1.53h-3.90z"/>
<path fill="#56b1f7" d="M414.19 455.26h3.90v1.53h-3.90zM429.81 455.26h3.90v1.53h-3.90zM429.81 453.73h3.90v1.53h-3.90zM429.81 452.19h3.90v1.53h-3.90zM429.81 450.66h3.90v1.53h-3.90zM429.81 449.13h3.90v1.53h-3.90zM429.81 447.59h3.90v1.53h-3.90zM429.81 446.06h3.90v1.53h-3.90zM429.81 444.53h3.90v1.53h-3.90zM429.81 442.99h3.90v1.53h-3.90zM437.62 452.19h3.90v1.53h-3.90zM437.62 450.66h3.90v1.53h-3.90zM437.62 449.13h3.90v1.53h-3.90zM437.62 447.59h3.90v1.53h-3.90zM437.62 446.06h3.90v1.53h-3.90zM437.62 444.53h3.90v1.53h-3.90zM437.62 442.99h3.90v1.53h-3.90zM449.33 447.59h3.90v1.53h-3.90zM449.33 446.06h3.90v1.53h-3.90zM449.33 444.53h3.90v1.53h-3.90zM449.33 442.99h3.90v1.53h-3.90zM461.04 442.99h3.90v1.53h-3.90z"/>
<path fill="#56b0f6" d="M414.19 447.59h3.90v1.53h-3.90zM414.19 446.06h3.90v1.53h-3.90zM414.19 444.53h3.90v1.53h-3.90zM414.19 442.99h3.90v1.53h-3.90zM418.10 459.86h3.90v1.53h-3.90zM418.10 458.33h3.90v1.53h-3.90zM418.10 456.79h3.90v1.53h-3.90zM418.10 455.26h3.90v1.53h-3.90zM418.10 453.73h3.90v1.53h-3.90zM418.10 452.19h3.90v1.53h-3.90zM418.10 450.66h3.90v1.53h-3.90zM418.10 449.13h3.90v1.53h-3.90zM418.10 447.59h3.90v1.53h-3.90zM418.10 446.06h3.90v1.53h-3.90zM418.10 444.53h3.90v1.53h-3.90zM433.71 453.73h3.90v1.53h-3.90zM433.71 452.19h3.90v1.53h-3.90zM433.71 450.66h3.90v1.53h-3.90zM433.71 449.13h3.90v1.53h-3.90zM433.71 447.59h3.90v1.53h-3.90zM433.71 446.06h3.90v1.53h-3.90zM433.71 444.53h3.90v1.53h-3.90zM433.71 442.99h3.90v1.53h-3.90zM441.52 450.66h3.90v1.53h-3.90zM441.52 449.13h3.90v1.53h-3.90zM441.52 447.59h3.90v1.53h-3.90zM441.52 446.06h3.90v1.53h-3.90zM441.52 444.53h3.90v1.53h-3.90zM441.52 442.99h3.90v1.53h-3.90z"/>
<path fill="#55b0f6" d="M418.10 442.99h3.90v1.53h-3.90zM445.42 449.13h3.90v1.53h-3.90zM445.42 447.59h3.90v1.53h-3.90zM453.23 446.06h3.90v1.53h-3.90zM453.23 444.53h3.90v1.53h-3.90zM453.23 442.99h3.90v1.53h-3.90z"/>
<path fill="#54aef2" d="M422.00 458.33h3.90v1.53h-3.90zM422.00 453.73h3.90v1.53h-3.90zM422.00 452.19h3.90v1.53h-3.90zM422.00 450.66h3.90v1.53h-3.90zM422.00 449.13h3.90v1.53h-3.90zM422.00 447.59h3.90v1.53h-3.90zM422.00 446.06h3.90v1.53h-3.90z"/>
</g><rect x="108.75" y="371.20" width="3.4" height="3.2" fill="#f00"/><rect x="277.80" y="374.26" width="3.4" height="3.2" fill="#f00"/><rect x="112.66" y="494.30" width="3.4" height="3.2" fill="#f00"/><rect x="277.80" y="497.36" width="3.4" height="3.2" fill="#f00"/></svg>
</body></html>
